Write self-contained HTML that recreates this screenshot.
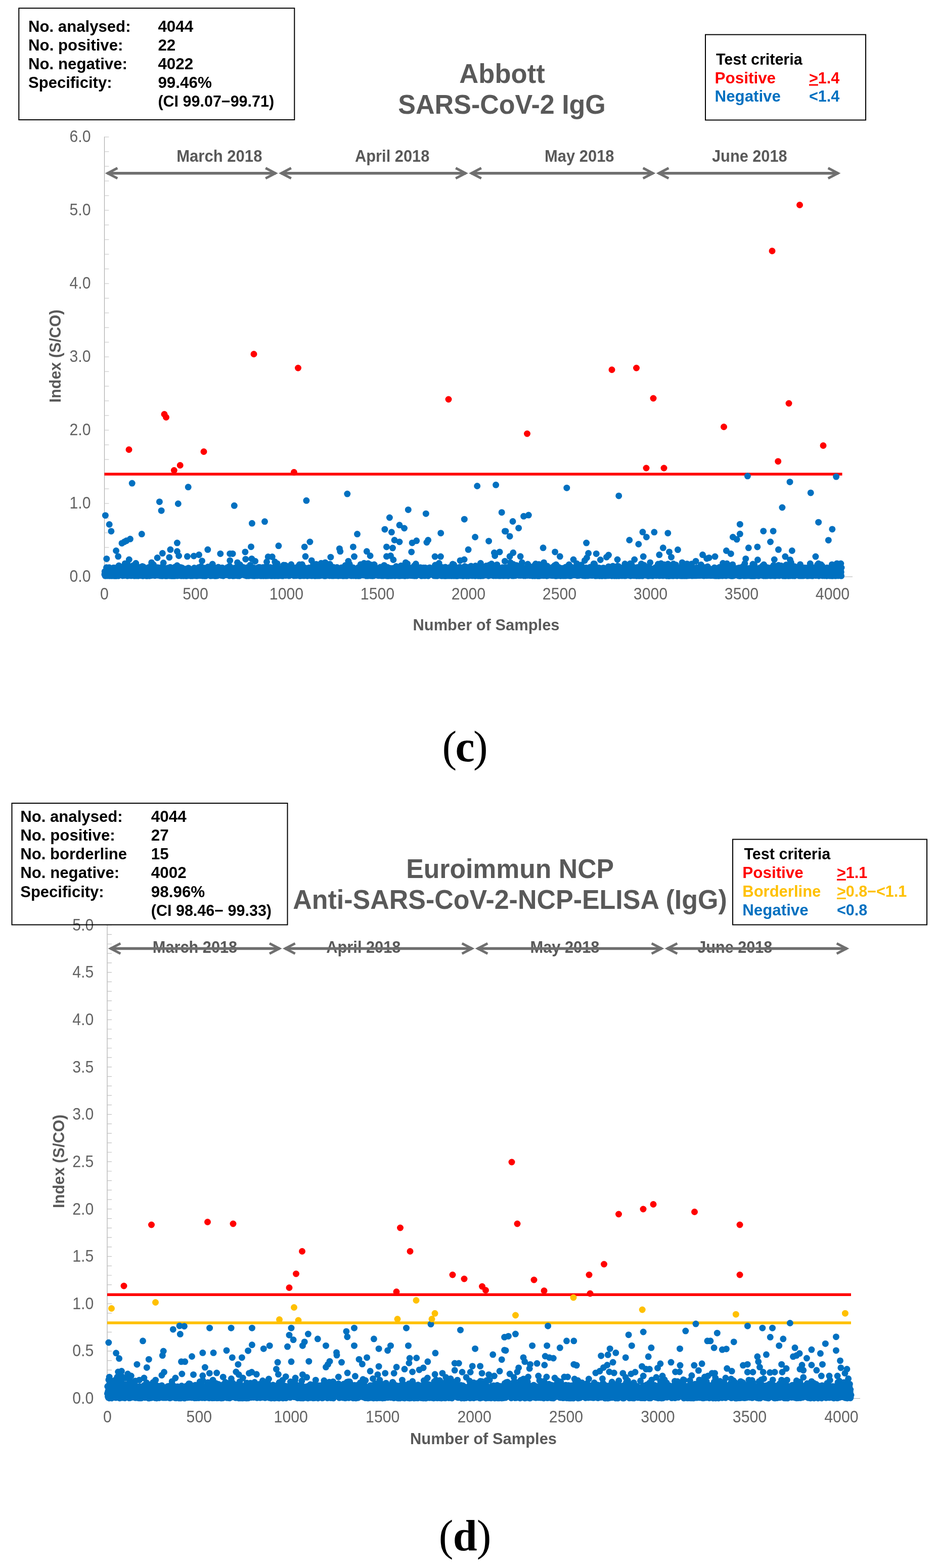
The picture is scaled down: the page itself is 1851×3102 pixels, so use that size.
<!DOCTYPE html>
<html lang="en">
<head>
<meta charset="utf-8">
<title>Specificity scatter plots (c) Abbott SARS-CoV-2 IgG, (d) Euroimmun NCP ELISA</title>
<style>html,body{margin:0;padding:0;background:#fff}svg{display:block}</style>
</head>
<body>
<svg width="1851" height="3102" viewBox="0 0 1851 3102" font-family='"Liberation Sans", sans-serif'>
<rect width="1851" height="3102" fill="#fff"/>
<g id="chart-c">
<g stroke="#ababab" stroke-width="1.2" fill="none">
<path d="M206.5 270.5V1141.0"/>
<path d="M206.5 1141.0H1686"/>
<path d="M206.5 1141.0h9M206.5 1112.0h9M206.5 1083.0h9M206.5 1054.0h9M206.5 1025.0h9M206.5 996.0h9M206.5 967.0h9M206.5 938.0h9M206.5 909.0h9M206.5 880.0h9M206.5 851.0h9M206.5 822.0h9M206.5 793.0h9M206.5 764.0h9M206.5 735.0h9M206.5 706.0h9M206.5 677.0h9M206.5 648.0h9M206.5 619.0h9M206.5 590.0h9M206.5 561.0h9M206.5 532.0h9M206.5 503.0h9M206.5 474.0h9M206.5 445.0h9M206.5 416.0h9M206.5 387.0h9M206.5 358.0h9M206.5 329.0h9M206.5 300.0h9M206.5 271.0h9" stroke="#c2c2c2"/>
</g>
<text transform="translate(179.5 1151.2) scale(0.89 1)" font-size="34" fill="#636363" text-anchor="end">0.0</text>
<text transform="translate(179.5 1006.2) scale(0.89 1)" font-size="34" fill="#636363" text-anchor="end">1.0</text>
<text transform="translate(179.5 861.2) scale(0.89 1)" font-size="34" fill="#636363" text-anchor="end">2.0</text>
<text transform="translate(179.5 716.2) scale(0.89 1)" font-size="34" fill="#636363" text-anchor="end">3.0</text>
<text transform="translate(179.5 571.2) scale(0.89 1)" font-size="34" fill="#636363" text-anchor="end">4.0</text>
<text transform="translate(179.5 426.2) scale(0.89 1)" font-size="34" fill="#636363" text-anchor="end">5.0</text>
<text transform="translate(179.5 281.2) scale(0.89 1)" font-size="34" fill="#636363" text-anchor="end">6.0</text>
<text transform="translate(206.5 1185.7) scale(0.89 1)" font-size="34" fill="#636363" text-anchor="middle">0</text>
<text transform="translate(386.5 1185.7) scale(0.89 1)" font-size="34" fill="#636363" text-anchor="middle">500</text>
<text transform="translate(566.5 1185.7) scale(0.89 1)" font-size="34" fill="#636363" text-anchor="middle">1000</text>
<text transform="translate(746.5 1185.7) scale(0.89 1)" font-size="34" fill="#636363" text-anchor="middle">1500</text>
<text transform="translate(926.5 1185.7) scale(0.89 1)" font-size="34" fill="#636363" text-anchor="middle">2000</text>
<text transform="translate(1106.5 1185.7) scale(0.89 1)" font-size="34" fill="#636363" text-anchor="middle">2500</text>
<text transform="translate(1286.5 1185.7) scale(0.89 1)" font-size="34" fill="#636363" text-anchor="middle">3000</text>
<text transform="translate(1466.5 1185.7) scale(0.89 1)" font-size="34" fill="#636363" text-anchor="middle">3500</text>
<text transform="translate(1646.5 1185.7) scale(0.89 1)" font-size="34" fill="#636363" text-anchor="middle">4000</text>
<text x="433.8" y="319.8" font-size="32.3" fill="#595959" font-weight="bold" text-anchor="middle" textLength="169.3" lengthAdjust="spacingAndGlyphs">March 2018</text>
<text x="775.7" y="319.8" font-size="32.3" fill="#595959" font-weight="bold" text-anchor="middle" textLength="147.4" lengthAdjust="spacingAndGlyphs">April 2018</text>
<text x="1145.8" y="319.8" font-size="32.3" fill="#595959" font-weight="bold" text-anchor="middle" textLength="137.5" lengthAdjust="spacingAndGlyphs">May 2018</text>
<text x="1482.3" y="319.8" font-size="32.3" fill="#595959" font-weight="bold" text-anchor="middle" textLength="148.5" lengthAdjust="spacingAndGlyphs">June 2018</text>
<g fill="none" stroke="#6f6f6f" stroke-linejoin="miter" stroke-miterlimit="10">
<path d="M212 342.7H545.5" stroke-width="5.6"/>
<path d="M232.3 332.5L212.8 342.7L232.3 352.9" stroke-width="4.8"/>
<path d="M525.2 332.5L544.7 342.7L525.2 352.9" stroke-width="4.8"/>
</g>
<g fill="none" stroke="#6f6f6f" stroke-linejoin="miter" stroke-miterlimit="10">
<path d="M555.5 342.7H921.5" stroke-width="5.6"/>
<path d="M575.8 332.5L556.3 342.7L575.8 352.9" stroke-width="4.8"/>
<path d="M901.2 332.5L920.7 342.7L901.2 352.9" stroke-width="4.8"/>
</g>
<g fill="none" stroke="#6f6f6f" stroke-linejoin="miter" stroke-miterlimit="10">
<path d="M931.5 342.7H1292" stroke-width="5.6"/>
<path d="M951.8 332.5L932.3 342.7L951.8 352.9" stroke-width="4.8"/>
<path d="M1271.7 332.5L1291.2 342.7L1271.7 352.9" stroke-width="4.8"/>
</g>
<g fill="none" stroke="#6f6f6f" stroke-linejoin="miter" stroke-miterlimit="10">
<path d="M1302 342.7H1658" stroke-width="5.6"/>
<path d="M1322.3 332.5L1302.8 342.7L1322.3 352.9" stroke-width="4.8"/>
<path d="M1637.7 332.5L1657.2 342.7L1637.7 352.9" stroke-width="4.8"/>
</g>
<path d="M206.5 938.0H1665.5" stroke="#ff0000" stroke-width="5.5" fill="none"/>
<path d="M206.9 1136.4h0M207.2 1130.7h0M207.6 1133h0M207.9 1139.1h0M208.3 1139.2h0M208.7 1139h0M209 1134.9h0M209.4 1138.7h0M209.7 1131.1h0M210.1 1132.2h0M210.5 1122.8h0M210.8 1125.9h0M211.2 1138.5h0M211.5 1136.7h0M211.9 1138.2h0M212.3 1130.9h0M212.6 1132.7h0M213 1139.1h0M213.3 1130h0M213.7 1136.6h0M214.1 1134.4h0M214.4 1127.4h0M214.8 1137.5h0M215.1 1133.2h0M215.5 1128.9h0M215.9 1122.7h0M216.2 1135h0M216.6 1138.4h0M217 1139.2h0M217.3 1128.1h0M217.7 1125.4h0M218 1129.7h0M218.4 1132.1h0M218.8 1126.3h0M219.1 1134.1h0M219.5 1139.1h0M219.8 1130.7h0M220.2 1126.8h0M220.6 1135.5h0M220.9 1139.2h0M221.3 1138.3h0M221.6 1139.1h0M222 1138.6h0M222.4 1135.5h0M222.7 1139h0M223.1 1132.7h0M223.4 1126.8h0M223.8 1137h0M224.2 1135.9h0M224.5 1123.3h0M224.9 1138.2h0M225.2 1137.6h0M225.6 1131.9h0M226 1139.3h0M226.3 1135.8h0M226.7 1123.4h0M227 1133.3h0M227.4 1130.1h0M227.8 1124.8h0M228.1 1125.5h0M228.5 1135.4h0M228.8 1138.8h0M229.2 1139.1h0M229.6 1137.9h0M229.9 1136.2h0M230.3 1139.3h0M230.6 1138.8h0M231 1139.2h0M231.4 1131.4h0M231.7 1137.4h0M232.1 1135.9h0M232.4 1126.1h0M232.8 1134.2h0M233.2 1138.9h0M233.5 1136.2h0M233.9 1126.6h0M234.3 1139.2h0M234.6 1133.1h0M235 1119.1h0M235.3 1122.7h0M235.7 1129.7h0M236.1 1135.8h0M236.4 1128h0M236.8 1127.8h0M237.1 1137.7h0M237.5 1122.6h0M237.9 1127.1h0M238.2 1128.7h0M238.6 1133.3h0M238.9 1121.4h0M239.3 1137.3h0M239.7 1123.3h0M240 1123.8h0M240.4 1123.4h0M240.7 1137.7h0M241.1 1138h0M241.5 1131.2h0M241.8 1126.3h0M242.2 1130.6h0M242.5 1138.9h0M242.9 1124.6h0M243.3 1128.5h0M243.6 1138.2h0M244 1136.3h0M244.3 1122.9h0M244.7 1135.3h0M245.1 1129h0M245.4 1138.6h0M245.8 1124.7h0M246.1 1138.5h0M246.5 1122.7h0M246.9 1136.1h0M247.2 1114.9h0M247.6 1130.7h0M247.9 1123.9h0M248.3 1125.5h0M248.7 1137.8h0M249 1136.9h0M249.4 1132h0M249.7 1135h0M250.1 1124.5h0M250.5 1134.4h0M250.8 1124.7h0M251.2 1124.3h0M251.6 1133h0M251.9 1139.2h0M252.3 1116.5h0M252.6 1138.2h0M253 1129h0M253.4 1136.4h0M253.7 1132.6h0M254.1 1138.8h0M254.4 1137.4h0M254.8 1127.9h0M255.2 1132.5h0M255.5 1124.5h0M255.9 1131.4h0M256.2 1133.4h0M256.6 1134.5h0M257 1134h0M257.3 1129.6h0M257.7 1123.7h0M258 1132.5h0M258.4 1126.3h0M258.8 1138.7h0M259.1 1139h0M259.5 1139h0M259.8 1127.7h0M260.2 1138.4h0M260.6 1130.5h0M260.9 1125.2h0M261.3 1137.7h0M261.6 1135.3h0M262 1122.4h0M262.4 1138.3h0M262.7 1133.3h0M263.1 1138h0M263.4 1118.8h0M263.8 1120.9h0M264.2 1131.2h0M264.5 1139h0M264.9 1127.6h0M265.2 1138.8h0M265.6 1139.2h0M266 1137.1h0M266.3 1135h0M266.7 1126.8h0M267 1138.4h0M267.4 1132.3h0M267.8 1138.9h0M268.1 1129.8h0M268.5 1139h0M268.8 1131h0M269.2 1138.9h0M269.6 1139h0M269.9 1134.4h0M270.3 1132.6h0M270.7 1137.2h0M271 1133.1h0M271.4 1138.8h0M271.7 1139.1h0M272.1 1136.6h0M272.5 1128.2h0M272.8 1133.6h0M273.2 1121.7h0M273.5 1139.2h0M273.9 1132.7h0M274.3 1134.1h0M274.6 1138.8h0M275 1134.8h0M275.3 1126.4h0M275.7 1133.5h0M276.1 1122.6h0M276.4 1126.5h0M276.8 1131h0M277.1 1136.1h0M277.5 1138.6h0M277.9 1128.7h0M278.2 1138.3h0M278.6 1126.3h0M278.9 1130.2h0M279.3 1137.5h0M279.7 1134.3h0M280 1134.6h0M280.4 1123.2h0M280.7 1132.7h0M281.1 1123.1h0M281.5 1120.4h0M281.8 1134.1h0M282.2 1137.9h0M282.5 1139.3h0M282.9 1138.9h0M283.3 1121.2h0M283.6 1137.6h0M284 1133.1h0M284.3 1130.5h0M284.7 1125.3h0M285.1 1136.4h0M285.4 1138.4h0M285.8 1130.8h0M286.1 1126.4h0M286.5 1131.1h0M286.9 1127h0M287.2 1133.2h0M287.6 1126.4h0M288 1126.6h0M288.3 1125h0M288.7 1129.7h0M289 1139.2h0M289.4 1135.9h0M289.8 1126.4h0M290.1 1131.1h0M290.5 1130h0M290.8 1139.3h0M291.2 1128.5h0M291.6 1133h0M291.9 1139h0M292.3 1137.4h0M292.6 1137.2h0M293 1137.9h0M293.4 1122.8h0M293.7 1135.6h0M294.1 1129.9h0M294.4 1131.4h0M294.8 1139h0M295.2 1137.4h0M295.5 1136.7h0M295.9 1139.2h0M296.2 1137.2h0M296.6 1129.8h0M297 1136.9h0M297.3 1134.2h0M297.7 1138.7h0M298 1138h0M298.4 1119.7h0M298.8 1126.8h0M299.1 1134.5h0M299.5 1137.9h0M299.8 1137.8h0M300.2 1138.5h0M300.6 1123.4h0M300.9 1126.8h0M301.3 1125.1h0M301.6 1137.6h0M302 1124h0M302.4 1133.8h0M302.7 1136.7h0M303.1 1136.2h0M303.4 1117h0M303.8 1126.3h0M304.2 1124.1h0M304.5 1124.8h0M304.9 1135.7h0M305.2 1122.2h0M305.6 1135.9h0M306 1137.1h0M306.3 1138.8h0M306.7 1137h0M307.1 1137.4h0M307.4 1133.4h0M307.8 1135.7h0M308.1 1125.2h0M308.5 1131.1h0M308.9 1123.7h0M309.2 1129.2h0M309.6 1128.9h0M309.9 1128.4h0M310.3 1136.9h0M310.7 1124.1h0M311 1134.1h0M311.4 1136.8h0M311.7 1122.8h0M312.1 1130.5h0M312.5 1132.5h0M312.8 1138.3h0M313.2 1137.9h0M313.5 1133.7h0M313.9 1124.6h0M314.3 1134.5h0M314.6 1138h0M315 1136.2h0M315.3 1137.5h0M315.7 1132.3h0M316.1 1128.5h0M316.4 1135.1h0M316.8 1135.7h0M317.1 1139.1h0M317.5 1123h0M317.9 1133.6h0M318.2 1125.7h0M318.6 1137.1h0M318.9 1135.3h0M319.3 1123.4h0M319.7 1123.7h0M320 1129.4h0M320.4 1134.1h0M320.7 1139.3h0M321.1 1124.1h0M321.5 1125.9h0M321.8 1137.4h0M322.2 1138.4h0M322.5 1130h0M322.9 1129.1h0M323.3 1128.1h0M323.6 1132.7h0M324 1127.7h0M324.4 1124.3h0M324.7 1136.7h0M325.1 1137.4h0M325.4 1129.6h0M325.8 1139h0M326.2 1132h0M326.5 1137.7h0M326.9 1139.2h0M327.2 1134.3h0M327.6 1130.8h0M328 1134.1h0M328.3 1137.4h0M328.7 1129.5h0M329 1139.2h0M329.4 1130.1h0M329.8 1137.3h0M330.1 1124.2h0M330.5 1139.2h0M330.8 1135h0M331.2 1138h0M331.6 1128.7h0M331.9 1137.9h0M332.3 1136.6h0M332.6 1137.6h0M333 1128.2h0M333.4 1123.4h0M333.7 1138.1h0M334.1 1135h0M334.4 1123.5h0M334.8 1135.4h0M335.2 1122.9h0M335.5 1139.1h0M335.9 1135.4h0M336.2 1125.2h0M336.6 1122.2h0M337 1136.4h0M337.3 1123.9h0M337.7 1139.2h0M338 1135.6h0M338.4 1136.3h0M338.8 1139.3h0M339.1 1136h0M339.5 1138.7h0M339.8 1137.9h0M340.2 1126.8h0M340.6 1134.8h0M340.9 1134.1h0M341.3 1124.3h0M341.6 1135.9h0M342 1139.2h0M342.4 1127h0M342.7 1123.4h0M343.1 1124.3h0M343.5 1128.5h0M343.8 1136.2h0M344.2 1123.3h0M344.5 1137.3h0M344.9 1136.5h0M345.3 1139.3h0M345.6 1124.4h0M346 1121.8h0M346.3 1134.1h0M346.7 1123.4h0M347.1 1137.4h0M347.4 1133.7h0M347.8 1138.1h0M348.1 1128.7h0M348.5 1127.9h0M348.9 1136.4h0M349.2 1135.9h0M349.6 1139h0M349.9 1128.4h0M350.3 1118.8h0M350.7 1136.4h0M351 1125.2h0M351.4 1137.2h0M351.7 1138.9h0M352.1 1129.4h0M352.5 1137.6h0M352.8 1131.3h0M353.2 1128.5h0M353.5 1130.4h0M353.9 1126.3h0M354.3 1132.4h0M354.6 1128.7h0M355 1137.4h0M355.3 1138.4h0M355.7 1132.1h0M356.1 1135.4h0M356.4 1133.5h0M356.8 1127.1h0M357.1 1122.4h0M357.5 1134.1h0M357.9 1126.3h0M358.2 1139.2h0M358.6 1138.7h0M358.9 1122.9h0M359.3 1124h0M359.7 1125.7h0M360 1137.3h0M360.4 1123.6h0M360.8 1131.8h0M361.1 1137.8h0M361.5 1138.5h0M361.8 1137.3h0M362.2 1130.6h0M362.6 1139.2h0M362.9 1130.1h0M363.3 1136.6h0M363.6 1127.4h0M364 1139.1h0M364.4 1135.4h0M364.7 1130.9h0M365.1 1138.3h0M365.4 1135.2h0M365.8 1136.7h0M366.2 1136.6h0M366.5 1136h0M366.9 1125.7h0M367.2 1135.9h0M367.6 1129h0M368 1139.3h0M368.3 1134.9h0M368.7 1135.2h0M369 1134.3h0M369.4 1139.2h0M369.8 1130.9h0M370.1 1138.9h0M370.5 1135.8h0M370.8 1138.5h0M371.2 1133.2h0M371.6 1138.8h0M371.9 1127.2h0M372.3 1138h0M372.6 1123.7h0M373 1133.9h0M373.4 1124.1h0M373.7 1124.7h0M374.1 1126.7h0M374.4 1127.6h0M374.8 1135.2h0M375.2 1126.6h0M375.5 1137.8h0M375.9 1133.3h0M376.2 1138.7h0M376.6 1129h0M377 1139.2h0M377.3 1128.3h0M377.7 1126.4h0M378.1 1131.7h0M378.4 1131.2h0M378.8 1135h0M379.1 1134.9h0M379.5 1134.5h0M379.9 1139.2h0M380.2 1133.8h0M380.6 1128.1h0M380.9 1134.4h0M381.3 1134.1h0M381.7 1138.6h0M382 1138.9h0M382.4 1133.4h0M382.7 1131h0M383.1 1128.8h0M383.5 1133.4h0M383.8 1133.5h0M384.2 1123.5h0M384.5 1125.9h0M384.9 1128.9h0M385.3 1138h0M385.6 1133.8h0M386 1124.4h0M386.3 1127.6h0M386.7 1139h0M387.1 1128.3h0M387.4 1124.9h0M387.8 1126.9h0M388.1 1133.6h0M388.5 1137.9h0M388.9 1133.5h0M389.2 1139.2h0M389.6 1138.3h0M389.9 1130h0M390.3 1138.3h0M390.7 1138.7h0M391 1131h0M391.4 1125.5h0M391.7 1132.1h0M392.1 1138.8h0M392.5 1131.1h0M392.8 1127.3h0M393.2 1122.4h0M393.5 1135.9h0M393.9 1134.6h0M394.3 1128.6h0M394.6 1126.8h0M395 1130.9h0M395.3 1132h0M395.7 1123.7h0M396.1 1138.4h0M396.4 1134.8h0M396.8 1124.9h0M397.2 1137.7h0M397.5 1120.7h0M397.9 1138.8h0M398.2 1137.7h0M398.6 1131.9h0M399 1131.2h0M399.3 1138.6h0M399.7 1137.5h0M400 1138.9h0M400.4 1125.5h0M400.8 1135.3h0M401.1 1139.2h0M401.5 1132.4h0M401.8 1130.8h0M402.2 1123.8h0M402.6 1137.4h0M402.9 1139.1h0M403.3 1135.2h0M403.6 1139.1h0M404 1139.2h0M404.4 1123.7h0M404.7 1138h0M405.1 1133.5h0M405.4 1127h0M405.8 1136.6h0M406.2 1139.1h0M406.5 1127.7h0M406.9 1139.3h0M407.2 1128.6h0M407.6 1128.7h0M408 1137.7h0M408.3 1137.6h0M408.7 1136.3h0M409 1129.7h0M409.4 1129.3h0M409.8 1132.6h0M410.1 1127.6h0M410.5 1137.2h0M410.8 1123.1h0M411.2 1121.6h0M411.6 1137.6h0M411.9 1123.6h0M412.3 1136.4h0M412.6 1136.4h0M413 1124.6h0M413.4 1129.7h0M413.7 1122.7h0M414.1 1126.3h0M414.5 1125.9h0M414.8 1129h0M415.2 1136.7h0M415.5 1131.2h0M415.9 1124.5h0M416.3 1139.2h0M416.6 1124.1h0M417 1123.6h0M417.3 1129.8h0M417.7 1129.7h0M418.1 1139h0M418.4 1135.9h0M418.8 1126.8h0M419.1 1139h0M419.5 1124.4h0M419.9 1138.8h0M420.2 1116h0M420.6 1127h0M420.9 1126.7h0M421.3 1136.9h0M421.7 1138.8h0M422 1137.9h0M422.4 1121.6h0M422.7 1137h0M423.1 1135.8h0M423.5 1123.1h0M423.8 1126h0M424.2 1139.2h0M424.5 1134.7h0M424.9 1136.1h0M425.3 1132.9h0M425.6 1125.8h0M426 1126.8h0M426.3 1139.3h0M426.7 1128.2h0M427.1 1139.3h0M427.4 1133.8h0M427.8 1138.1h0M428.1 1136.1h0M428.5 1137.3h0M428.9 1137h0M429.2 1129.6h0M429.6 1138.8h0M429.9 1139h0M430.3 1129.7h0M430.7 1131.1h0M431 1135.3h0M431.4 1125.1h0M431.8 1122.1h0M432.1 1137.2h0M432.5 1133.6h0M432.8 1125.2h0M433.2 1134.3h0M433.6 1128.4h0M433.9 1130.7h0M434.3 1136.4h0M434.6 1126.2h0M435 1128.6h0M435.4 1134.7h0M435.7 1132.1h0M436.1 1134.3h0M436.4 1137.5h0M436.8 1136.7h0M437.2 1126.2h0M437.5 1138.4h0M437.9 1136.4h0M438.2 1138.3h0M438.6 1138.1h0M439 1128.9h0M439.3 1123.2h0M439.7 1135.6h0M440 1127.4h0M440.4 1134.7h0M440.8 1130.9h0M441.1 1137.9h0M441.5 1139.2h0M441.8 1127.5h0M442.2 1133.6h0M442.6 1134.3h0M442.9 1131.6h0M443.3 1128.7h0M443.6 1134.8h0M444 1128.5h0M444.4 1137.6h0M444.7 1125.3h0M445.1 1129.6h0M445.4 1130h0M445.8 1134.4h0M446.2 1131.1h0M446.5 1135h0M446.9 1129.3h0M447.2 1137.4h0M447.6 1134.4h0M448 1135.2h0M448.3 1124h0M448.7 1130.6h0M449 1135.5h0M449.4 1122.8h0M449.8 1132.8h0M450.1 1127.7h0M450.5 1133.3h0M450.9 1132.2h0M451.2 1129.2h0M451.6 1130.9h0M451.9 1133.2h0M452.3 1123.6h0M452.7 1129.9h0M453 1128.2h0M453.4 1122.6h0M453.7 1139.1h0M454.1 1120.1h0M454.5 1135h0M454.8 1136h0M455.2 1137.7h0M455.5 1123.8h0M455.9 1137.8h0M456.3 1135.4h0M456.6 1138.6h0M457 1127.1h0M457.3 1134.2h0M457.7 1137.7h0M458.1 1136h0M458.4 1126.8h0M458.8 1134.2h0M459.1 1132.7h0M459.5 1126.5h0M459.9 1126.1h0M460.2 1135.7h0M460.6 1134.9h0M460.9 1139.3h0M461.3 1137h0M461.7 1136.7h0M462 1134.9h0M462.4 1130.5h0M462.7 1124.1h0M463.1 1139.1h0M463.5 1124.7h0M463.8 1138.5h0M464.2 1123.9h0M464.5 1123.5h0M464.9 1137.4h0M465.3 1138.5h0M465.6 1127.8h0M466 1138.4h0M466.3 1127.5h0M466.7 1125h0M467.1 1127.7h0M467.4 1125h0M467.8 1126.3h0M468.2 1129.7h0M468.5 1128.6h0M468.9 1125.2h0M469.2 1137.2h0M469.6 1138.5h0M470 1139.1h0M470.3 1138.5h0M470.7 1133.6h0M471 1116.1h0M471.4 1134.2h0M471.8 1130.3h0M472.1 1135.7h0M472.5 1123.2h0M472.8 1130.9h0M473.2 1139.2h0M473.6 1130h0M473.9 1136.4h0M474.3 1133.4h0M474.6 1117.3h0M475 1131.2h0M475.4 1125.8h0M475.7 1134.1h0M476.1 1128h0M476.4 1134.7h0M476.8 1132.6h0M477.2 1136.9h0M477.5 1135.3h0M477.9 1137.1h0M478.2 1122.8h0M478.6 1127.5h0M479 1136.5h0M479.3 1132h0M479.7 1127.7h0M480 1129.1h0M480.4 1132.8h0M480.8 1122.2h0M481.1 1124.2h0M481.5 1130.5h0M481.8 1124.6h0M482.2 1131.4h0M482.6 1129.7h0M482.9 1130h0M483.3 1130.3h0M483.6 1128.2h0M484 1138.1h0M484.4 1127.9h0M484.7 1130.6h0M485.1 1126.7h0M485.4 1132.5h0M485.8 1136.7h0M486.2 1136.5h0M486.5 1130.8h0M486.9 1139.1h0M487.3 1139.2h0M487.6 1127h0M488 1124.3h0M488.3 1139.2h0M488.7 1131.9h0M489.1 1122.7h0M489.4 1135.1h0M489.8 1130.8h0M490.1 1124h0M490.5 1129.9h0M490.9 1123.1h0M491.2 1125.6h0M491.6 1139.2h0M491.9 1137.5h0M492.3 1138.1h0M492.7 1127.9h0M493 1125.9h0M493.4 1138.9h0M493.7 1129.4h0M494.1 1124h0M494.5 1123.1h0M494.8 1117.9h0M495.2 1126.9h0M495.5 1136.6h0M495.9 1138.3h0M496.3 1133.9h0M496.6 1135.8h0M497 1134.7h0M497.3 1138.5h0M497.7 1135.9h0M498.1 1131.1h0M498.4 1135.5h0M498.8 1123.6h0M499.1 1132.4h0M499.5 1139.1h0M499.9 1129.5h0M500.2 1136.3h0M500.6 1122.8h0M500.9 1131.7h0M501.3 1134.8h0M501.7 1135.7h0M502 1131.7h0M502.4 1127.1h0M502.7 1139.3h0M503.1 1134.9h0M503.5 1126.9h0M503.8 1139.2h0M504.2 1127h0M504.6 1132.3h0M504.9 1126h0M505.3 1129.9h0M505.6 1136.1h0M506 1132.6h0M506.4 1138h0M506.7 1124h0M507.1 1131.6h0M507.4 1134.2h0M507.8 1137.3h0M508.2 1127.5h0M508.5 1138.9h0M508.9 1127.9h0M509.2 1132.1h0M509.6 1125.2h0M510 1134h0M510.3 1138.1h0M510.7 1138.2h0M511 1135.9h0M511.4 1135.3h0M511.8 1138.4h0M512.1 1122.2h0M512.5 1138.8h0M512.8 1127.6h0M513.2 1131.8h0M513.6 1123.7h0M513.9 1122.4h0M514.3 1133.9h0M514.6 1137.3h0M515 1134.9h0M515.4 1128.1h0M515.7 1123.1h0M516.1 1139.2h0M516.4 1138.2h0M516.8 1139.1h0M517.2 1125.6h0M517.5 1123.6h0M517.9 1139h0M518.2 1135.4h0M518.6 1123.3h0M519 1132.4h0M519.3 1123.3h0M519.7 1135.4h0M520 1138.4h0M520.4 1122.4h0M520.8 1139.2h0M521.1 1136h0M521.5 1124.7h0M521.9 1139.1h0M522.2 1129.4h0M522.6 1122.5h0M522.9 1138.5h0M523.3 1123.8h0M523.7 1136.8h0M524 1128.3h0M524.4 1136.4h0M524.7 1138.7h0M525.1 1138.3h0M525.5 1138.5h0M525.8 1139.2h0M526.2 1138h0M526.5 1124.1h0M526.9 1123.9h0M527.3 1125.1h0M527.6 1134.5h0M528 1124.1h0M528.3 1131.1h0M528.7 1136.2h0M529.1 1134h0M529.4 1138.5h0M529.8 1139.1h0M530.1 1132.6h0M530.5 1125.5h0M530.9 1135.1h0M531.2 1137.1h0M531.6 1136.3h0M531.9 1133.8h0M532.3 1124.7h0M532.7 1122.7h0M533 1124.9h0M533.4 1137.8h0M533.7 1136.9h0M534.1 1137.9h0M534.5 1122.4h0M534.8 1124.2h0M535.2 1136.9h0M535.5 1139.1h0M535.9 1136.9h0M536.3 1139.2h0M536.6 1136.2h0M537 1139.3h0M537.3 1133.1h0M537.7 1134.7h0M538.1 1137.8h0M538.4 1138.5h0M538.8 1128h0M539.1 1138h0M539.5 1138.9h0M539.9 1133.7h0M540.2 1137.9h0M540.6 1129.4h0M541 1132h0M541.3 1139h0M541.7 1135.2h0M542 1139.1h0M542.4 1136.3h0M542.8 1125.7h0M543.1 1139.2h0M543.5 1134h0M543.8 1137.2h0M544.2 1126.5h0M544.6 1138.3h0M544.9 1119.1h0M545.3 1134.6h0M545.6 1138.7h0M546 1126.9h0M546.4 1136.5h0M546.7 1135.6h0M547.1 1139.1h0M547.4 1123.4h0M547.8 1133.4h0M548.2 1114.9h0M548.5 1137.7h0M548.9 1138.8h0M549.2 1123.1h0M549.6 1129.6h0M550 1139.2h0M550.3 1132.2h0M550.7 1129.5h0M551 1125.6h0M551.4 1139.1h0M551.8 1133.7h0M552.1 1137h0M552.5 1135.2h0M552.8 1131.9h0M553.2 1138.5h0M553.6 1128.5h0M553.9 1126.7h0M554.3 1135.5h0M554.6 1126.3h0M555 1135.4h0M555.4 1127.8h0M555.7 1137.5h0M556.1 1134.7h0M556.4 1127.2h0M556.8 1126.9h0M557.2 1139.1h0M557.5 1123.3h0M557.9 1137.4h0M558.3 1131h0M558.6 1133h0M559 1134.8h0M559.3 1139.2h0M559.7 1123h0M560.1 1123.8h0M560.4 1127.1h0M560.8 1118h0M561.1 1137.2h0M561.5 1137.1h0M561.9 1124.2h0M562.2 1137.4h0M562.6 1134.8h0M562.9 1136.9h0M563.3 1130.7h0M563.7 1131.8h0M564 1133.4h0M564.4 1134.2h0M564.7 1138.5h0M565.1 1138.6h0M565.5 1135.2h0M565.8 1137.5h0M566.2 1132.8h0M566.5 1131.5h0M566.9 1130.7h0M567.3 1129.4h0M567.6 1132.7h0M568 1134.2h0M568.3 1137.5h0M568.7 1133.4h0M569.1 1120.7h0M569.4 1125.8h0M569.8 1132.6h0M570.1 1137h0M570.5 1136.8h0M570.9 1138.4h0M571.2 1125.5h0M571.6 1139.1h0M571.9 1134.7h0M572.3 1138.8h0M572.7 1123.3h0M573 1138.4h0M573.4 1136h0M573.7 1131.4h0M574.1 1126.8h0M574.5 1128.7h0M574.8 1128.2h0M575.2 1127.6h0M575.5 1124.4h0M575.9 1116.8h0M576.3 1132h0M576.6 1123.2h0M577 1135h0M577.4 1125.5h0M577.7 1135.6h0M578.1 1134.4h0M578.4 1136.9h0M578.8 1132.6h0M579.2 1136.5h0M579.5 1126.1h0M579.9 1134.6h0M580.2 1136.7h0M580.6 1132.2h0M581 1138.9h0M581.3 1136.4h0M581.7 1126.4h0M582 1137.9h0M582.4 1123.6h0M582.8 1132.4h0M583.1 1124.3h0M583.5 1132.9h0M583.8 1133.3h0M584.2 1129.9h0M584.6 1136h0M584.9 1136.1h0M585.3 1130.1h0M585.6 1138.8h0M586 1135.3h0M586.4 1132.2h0M586.7 1123.1h0M587.1 1134.7h0M587.4 1122.3h0M587.8 1133.1h0M588.2 1138.2h0M588.5 1122.7h0M588.9 1133.4h0M589.2 1124.9h0M589.6 1126.8h0M590 1125.1h0M590.3 1138.4h0M590.7 1133.4h0M591 1138.1h0M591.4 1131.1h0M591.8 1136h0M592.1 1131h0M592.5 1135.1h0M592.8 1136.7h0M593.2 1139.3h0M593.6 1126.3h0M593.9 1130.3h0M594.3 1133.7h0M594.7 1137.2h0M595 1133h0M595.4 1132.2h0M595.7 1138.7h0M596.1 1128.2h0M596.5 1138.8h0M596.8 1133.2h0M597.2 1131.4h0M597.5 1116.8h0M597.9 1136.5h0M598.3 1136h0M598.6 1137.2h0M599 1124.7h0M599.3 1136.1h0M599.7 1135.5h0M600.1 1125h0M600.4 1123.2h0M600.8 1131.3h0M601.1 1139.1h0M601.5 1126h0M601.9 1124.8h0M602.2 1136.7h0M602.6 1123.2h0M602.9 1123.5h0M603.3 1135.5h0M603.7 1137.7h0M604 1125.4h0M604.4 1127.5h0M604.7 1138.2h0M605.1 1138.1h0M605.5 1136.9h0M605.8 1138.7h0M606.2 1135.5h0M606.5 1139h0M606.9 1126.7h0M607.3 1137.5h0M607.6 1137h0M608 1139.2h0M608.3 1136.2h0M608.7 1129.5h0M609.1 1137.2h0M609.4 1138.6h0M609.8 1126.4h0M610.1 1138.4h0M610.5 1129.1h0M610.9 1123.3h0M611.2 1123.5h0M611.6 1137.7h0M612 1138.6h0M612.3 1137.3h0M612.7 1132h0M613 1137.4h0M613.4 1137.8h0M613.8 1138.7h0M614.1 1132.8h0M614.5 1128h0M614.8 1130.5h0M615.2 1136.6h0M615.6 1138.9h0M615.9 1126h0M616.3 1130.4h0M616.6 1132.5h0M617 1133.6h0M617.4 1139h0M617.7 1137.7h0M618.1 1129.2h0M618.4 1135.3h0M618.8 1127.9h0M619.2 1125.8h0M619.5 1117.6h0M619.9 1130.4h0M620.2 1135.1h0M620.6 1129.6h0M621 1126.1h0M621.3 1131.1h0M621.7 1138.7h0M622 1128.8h0M622.4 1139.2h0M622.8 1138.3h0M623.1 1136.7h0M623.5 1139.2h0M623.8 1130.9h0M624.2 1126.3h0M624.6 1129.2h0M624.9 1134.7h0M625.3 1116.2h0M625.6 1127.8h0M626 1139.1h0M626.4 1131.6h0M626.7 1137.5h0M627.1 1127.5h0M627.4 1124.4h0M627.8 1138.9h0M628.2 1135.4h0M628.5 1126.6h0M628.9 1138.9h0M629.2 1134.9h0M629.6 1129.8h0M630 1126.6h0M630.3 1134.4h0M630.7 1129.6h0M631.1 1133.4h0M631.4 1138.6h0M631.8 1139.1h0M632.1 1127.1h0M632.5 1132.8h0M632.9 1130.9h0M633.2 1137.4h0M633.6 1136h0M633.9 1137.9h0M634.3 1138.6h0M634.7 1130.2h0M635 1137.5h0M635.4 1134.6h0M635.7 1136h0M636.1 1125.2h0M636.5 1132.4h0M636.8 1126.9h0M637.2 1128.2h0M637.5 1130.3h0M637.9 1134.3h0M638.3 1126.5h0M638.6 1136.9h0M639 1137.9h0M639.3 1137h0M639.7 1129.6h0M640.1 1138.7h0M640.4 1134.2h0M640.8 1138.3h0M641.1 1139.2h0M641.5 1128.5h0M641.9 1129.2h0M642.2 1132.4h0M642.6 1133.8h0M642.9 1138.1h0M643.3 1139.3h0M643.7 1130.8h0M644 1123.9h0M644.4 1137.4h0M644.7 1116.7h0M645.1 1126.3h0M645.5 1138.1h0M645.8 1126.2h0M646.2 1138.3h0M646.5 1126.6h0M646.9 1136.4h0M647.3 1126.7h0M647.6 1135.8h0M648 1135.8h0M648.4 1137.5h0M648.7 1132.4h0M649.1 1126.8h0M649.4 1124.7h0M649.8 1133.7h0M650.2 1138.4h0M650.5 1132.1h0M650.9 1129.9h0M651.2 1134.6h0M651.6 1138.9h0M652 1134.7h0M652.3 1116.1h0M652.7 1125.9h0M653 1134.9h0M653.4 1130.4h0M653.8 1135h0M654.1 1134.7h0M654.5 1126.7h0M654.8 1138.3h0M655.2 1134.6h0M655.6 1136.1h0M655.9 1138.9h0M656.3 1134.3h0M656.6 1124.6h0M657 1122.8h0M657.4 1131.3h0M657.7 1139.1h0M658.1 1131.5h0M658.4 1132.3h0M658.8 1134h0M659.2 1136.8h0M659.5 1122.3h0M659.9 1130.1h0M660.2 1138.9h0M660.6 1135.7h0M661 1135h0M661.3 1132.4h0M661.7 1138.7h0M662 1125.1h0M662.4 1138.7h0M662.8 1137.4h0M663.1 1133h0M663.5 1133.8h0M663.8 1137.7h0M664.2 1138.7h0M664.6 1131.9h0M664.9 1135.2h0M665.3 1134.7h0M665.6 1132.7h0M666 1128.3h0M666.4 1122.4h0M666.7 1138.8h0M667.1 1135.4h0M667.5 1123.2h0M667.8 1127.9h0M668.2 1127.9h0M668.5 1137.6h0M668.9 1139.2h0M669.3 1137.8h0M669.6 1129.4h0M670 1125.1h0M670.3 1125.5h0M670.7 1124.4h0M671.1 1138.3h0M671.4 1136.2h0M671.8 1130h0M672.1 1138.7h0M672.5 1128.8h0M672.9 1129.1h0M673.2 1131.6h0M673.6 1132.7h0M673.9 1138.7h0M674.3 1130.1h0M674.7 1138h0M675 1126.4h0M675.4 1123h0M675.7 1127.3h0M676.1 1132.6h0M676.5 1129.9h0M676.8 1138.5h0M677.2 1132.9h0M677.5 1127.1h0M677.9 1139.2h0M678.3 1138.4h0M678.6 1125.5h0M679 1139.2h0M679.3 1126.8h0M679.7 1135.4h0M680.1 1138.4h0M680.4 1135.4h0M680.8 1131.5h0M681.1 1136.4h0M681.5 1125h0M681.9 1139.1h0M682.2 1135.9h0M682.6 1132.2h0M682.9 1118.6h0M683.3 1119.7h0M683.7 1122.5h0M684 1138.5h0M684.4 1137.1h0M684.8 1133.6h0M685.1 1132.3h0M685.5 1123.3h0M685.8 1139.2h0M686.2 1128h0M686.6 1127.9h0M686.9 1131h0M687.3 1137h0M687.6 1125.5h0M688 1130h0M688.4 1128.2h0M688.7 1133.5h0M689.1 1136.1h0M689.4 1135.2h0M689.8 1136.3h0M690.2 1122.5h0M690.5 1135.8h0M690.9 1137.6h0M691.2 1115.8h0M691.6 1134.4h0M692 1132.3h0M692.3 1138.3h0M692.7 1136.7h0M693 1129h0M693.4 1123.8h0M693.8 1124.3h0M694.1 1139h0M694.5 1132.1h0M694.8 1136h0M695.2 1134.9h0M695.6 1139h0M695.9 1124.8h0M696.3 1122.5h0M696.6 1137.2h0M697 1137.8h0M697.4 1138h0M697.7 1125.7h0M698.1 1138h0M698.4 1123.1h0M698.8 1139h0M699.2 1125.4h0M699.5 1138.6h0M699.9 1132.9h0M700.2 1130.9h0M700.6 1137.8h0M701 1128.5h0M701.3 1135.2h0M701.7 1136.2h0M702 1135.1h0M702.4 1131.2h0M702.8 1133.7h0M703.1 1137.3h0M703.5 1139.2h0M703.9 1132.4h0M704.2 1139.1h0M704.6 1129.1h0M704.9 1138.9h0M705.3 1138.5h0M705.7 1138.9h0M706 1134.9h0M706.4 1131.9h0M706.7 1130.5h0M707.1 1136.3h0M707.5 1137.3h0M707.8 1128.2h0M708.2 1136.6h0M708.5 1122.8h0M708.9 1137.1h0M709.3 1123.7h0M709.6 1139.3h0M710 1130.6h0M710.3 1135.9h0M710.7 1137.7h0M711.1 1122.8h0M711.4 1139.1h0M711.8 1132.6h0M712.1 1123.8h0M712.5 1138.4h0M712.9 1128.7h0M713.2 1116.7h0M713.6 1137.5h0M713.9 1133.6h0M714.3 1136.2h0M714.7 1134.3h0M715 1124.7h0M715.4 1128.8h0M715.7 1130.8h0M716.1 1125.7h0M716.5 1132.4h0M716.8 1124.3h0M717.2 1131.2h0M717.5 1137.4h0M717.9 1134.8h0M718.3 1137.9h0M718.6 1130.8h0M719 1122.3h0M719.3 1132.3h0M719.7 1125.7h0M720.1 1137.2h0M720.4 1126.7h0M720.8 1136.3h0M721.2 1125h0M721.5 1130h0M721.9 1134.4h0M722.2 1125.2h0M722.6 1125.2h0M723 1127.8h0M723.3 1138.1h0M723.7 1122.3h0M724 1139.2h0M724.4 1115.4h0M724.8 1138.4h0M725.1 1138.8h0M725.5 1130h0M725.8 1136.2h0M726.2 1129.2h0M726.6 1121.8h0M726.9 1127.5h0M727.3 1139.2h0M727.6 1137.6h0M728 1114.7h0M728.4 1136.5h0M728.7 1138.7h0M729.1 1138.6h0M729.4 1138.2h0M729.8 1138.5h0M730.2 1133.6h0M730.5 1136h0M730.9 1124.3h0M731.2 1137.8h0M731.6 1125.2h0M732 1137.1h0M732.3 1137.2h0M732.7 1139.1h0M733 1135.2h0M733.4 1117.5h0M733.8 1130.6h0M734.1 1132.7h0M734.5 1122.6h0M734.8 1129.2h0M735.2 1136.5h0M735.6 1122.9h0M735.9 1135.5h0M736.3 1138.5h0M736.6 1139.3h0M737 1124.1h0M737.4 1131.5h0M737.7 1137.5h0M738.1 1138.7h0M738.5 1127.7h0M738.8 1139.1h0M739.2 1136.4h0M739.5 1132.7h0M739.9 1117h0M740.3 1126h0M740.6 1131.9h0M741 1137.6h0M741.3 1128.6h0M741.7 1129.3h0M742.1 1133.1h0M742.4 1130.1h0M742.8 1131.1h0M743.1 1137.7h0M743.5 1137.2h0M743.9 1134.1h0M744.2 1133.2h0M744.6 1137.7h0M744.9 1124.1h0M745.3 1133.2h0M745.7 1127h0M746 1138.2h0M746.4 1134.3h0M746.7 1126.6h0M747.1 1125.6h0M747.5 1135.6h0M747.8 1126.9h0M748.2 1138.4h0M748.5 1138.8h0M748.9 1127.2h0M749.3 1134.4h0M749.6 1135.4h0M750 1129.7h0M750.3 1134h0M750.7 1128.3h0M751.1 1130h0M751.4 1133.2h0M751.8 1135.8h0M752.1 1122.1h0M752.5 1132.3h0M752.9 1138.2h0M753.2 1137.1h0M753.6 1137.5h0M753.9 1138.9h0M754.3 1125.8h0M754.7 1134.9h0M755 1131.3h0M755.4 1139.1h0M755.7 1135.8h0M756.1 1136.8h0M756.5 1130.7h0M756.8 1136h0M757.2 1132.1h0M757.6 1138h0M757.9 1129.3h0M758.3 1130.3h0M758.6 1139h0M759 1135.6h0M759.4 1133.7h0M759.7 1118.4h0M760.1 1134.3h0M760.4 1126.3h0M760.8 1134.1h0M761.2 1134.7h0M761.5 1133.4h0M761.9 1130.2h0M762.2 1135.3h0M762.6 1130h0M763 1128h0M763.3 1138.7h0M763.7 1139h0M764 1138.8h0M764.4 1128.4h0M764.8 1139.1h0M765.1 1129.3h0M765.5 1139.1h0M765.8 1135h0M766.2 1122.2h0M766.6 1125.5h0M766.9 1136.3h0M767.3 1139.3h0M767.6 1137.1h0M768 1136.6h0M768.4 1125.8h0M768.7 1133.4h0M769.1 1139.1h0M769.4 1125.6h0M769.8 1125.9h0M770.2 1137.9h0M770.5 1132.9h0M770.9 1134.2h0M771.2 1132h0M771.6 1127.3h0M772 1124.3h0M772.3 1139.1h0M772.7 1133h0M773 1132.4h0M773.4 1137.1h0M773.8 1136.9h0M774.1 1127.2h0M774.5 1134.4h0M774.9 1134.6h0M775.2 1139.1h0M775.6 1130.9h0M775.9 1125.8h0M776.3 1131.8h0M776.7 1124.2h0M777 1127.3h0M777.4 1130.2h0M777.7 1136.8h0M778.1 1126.4h0M778.5 1124.3h0M778.8 1138.8h0M779.2 1127.7h0M779.5 1135.1h0M779.9 1137.3h0M780.3 1129.9h0M780.6 1139.1h0M781 1139.2h0M781.3 1136.9h0M781.7 1132.1h0M782.1 1132.5h0M782.4 1124.5h0M782.8 1126.3h0M783.1 1127.3h0M783.5 1120.5h0M783.9 1130.9h0M784.2 1132.8h0M784.6 1134.2h0M784.9 1134.8h0M785.3 1138.7h0M785.7 1138.7h0M786 1122.3h0M786.4 1133.1h0M786.7 1136.1h0M787.1 1133.7h0M787.5 1138.9h0M787.8 1125.7h0M788.2 1132.9h0M788.5 1138.5h0M788.9 1125h0M789.3 1137.7h0M789.6 1139.2h0M790 1123h0M790.3 1123.6h0M790.7 1139.1h0M791.1 1134.5h0M791.4 1128.6h0M791.8 1127.6h0M792.1 1139h0M792.5 1138.9h0M792.9 1127.6h0M793.2 1119.2h0M793.6 1138.8h0M794 1138.6h0M794.3 1136h0M794.7 1130.4h0M795 1138.3h0M795.4 1136.3h0M795.8 1125.5h0M796.1 1138.4h0M796.5 1125.3h0M796.8 1133.7h0M797.2 1138.7h0M797.6 1138.3h0M797.9 1133.5h0M798.3 1138h0M798.6 1137.9h0M799 1137.5h0M799.4 1133.6h0M799.7 1139.2h0M800.1 1133.8h0M800.4 1132.3h0M800.8 1137.6h0M801.2 1138.4h0M801.5 1139.2h0M801.9 1133.3h0M802.2 1125h0M802.6 1132.1h0M803 1131.8h0M803.3 1129.4h0M803.7 1137.4h0M804 1122.6h0M804.4 1131.3h0M804.8 1126.9h0M805.1 1127h0M805.5 1115.2h0M805.8 1135.1h0M806.2 1138.9h0M806.6 1128.8h0M806.9 1138.4h0M807.3 1138.5h0M807.6 1137.7h0M808 1122.8h0M808.4 1127.5h0M808.7 1133.7h0M809.1 1124.6h0M809.4 1131h0M809.8 1131.2h0M810.2 1127.6h0M810.5 1129.2h0M810.9 1138.3h0M811.3 1130.2h0M811.6 1138.6h0M812 1123.8h0M812.3 1128.6h0M812.7 1127.2h0M813.1 1134.7h0M813.4 1127.7h0M813.8 1136.8h0M814.1 1133h0M814.5 1138.7h0M814.9 1127.6h0M815.2 1126.4h0M815.6 1138h0M815.9 1137.6h0M816.3 1124.6h0M816.7 1129.4h0M817 1127.7h0M817.4 1130h0M817.7 1126.7h0M818.1 1138.9h0M818.5 1126.4h0M818.8 1131.8h0M819.2 1119.4h0M819.5 1139.2h0M819.9 1127h0M820.3 1131.6h0M820.6 1136.3h0M821 1136h0M821.3 1131.3h0M821.7 1138.9h0M822.1 1129.6h0M822.4 1130.4h0M822.8 1138.7h0M823.1 1139.2h0M823.5 1138.1h0M823.9 1123.3h0M824.2 1137.7h0M824.6 1131.5h0M824.9 1135.4h0M825.3 1123.3h0M825.7 1122.5h0M826 1126.5h0M826.4 1122.4h0M826.7 1123.6h0M827.1 1127.1h0M827.5 1136h0M827.8 1132.6h0M828.2 1133.4h0M828.6 1124.1h0M828.9 1130.3h0M829.3 1131.2h0M829.6 1123.3h0M830 1130.4h0M830.4 1135.7h0M830.7 1130.1h0M831.1 1133.6h0M831.4 1122.8h0M831.8 1126.4h0M832.2 1132.5h0M832.5 1128.4h0M832.9 1128.9h0M833.2 1139.2h0M833.6 1138.5h0M834 1125h0M834.3 1132h0M834.7 1139.1h0M835 1128.5h0M835.4 1137h0M835.8 1136.9h0M836.1 1135h0M836.5 1130.7h0M836.8 1130.1h0M837.2 1123.2h0M837.6 1129.8h0M837.9 1138.3h0M838.3 1126.7h0M838.6 1136.1h0M839 1133.3h0M839.4 1138.3h0M839.7 1138.2h0M840.1 1139.1h0M840.4 1135.6h0M840.8 1123.2h0M841.2 1136.6h0M841.5 1138h0M841.9 1134.7h0M842.2 1137.3h0M842.6 1135.5h0M843 1137.2h0M843.3 1124.6h0M843.7 1126.4h0M844 1127.8h0M844.4 1138.4h0M844.8 1134.1h0M845.1 1130.2h0M845.5 1137.1h0M845.8 1124.4h0M846.2 1136.9h0M846.6 1137.3h0M846.9 1139.2h0M847.3 1132.4h0M847.7 1123.8h0M848 1137.5h0M848.4 1132.7h0M848.7 1130.1h0M849.1 1127.1h0M849.5 1136.7h0M849.8 1123h0M850.2 1129.8h0M850.5 1135.4h0M850.9 1128.6h0M851.3 1135.4h0M851.6 1136.1h0M852 1125.5h0M852.3 1133.2h0M852.7 1124.8h0M853.1 1136.2h0M853.4 1135.1h0M853.8 1126h0M854.1 1132.1h0M854.5 1132.2h0M854.9 1126.2h0M855.2 1126.4h0M855.6 1130.2h0M855.9 1133.6h0M856.3 1124.8h0M856.7 1126.8h0M857 1125.3h0M857.4 1129.5h0M857.7 1131.5h0M858.1 1139h0M858.5 1126.7h0M858.8 1137.8h0M859.2 1138.9h0M859.5 1122.8h0M859.9 1135.9h0M860.3 1139h0M860.6 1118.1h0M861 1138.5h0M861.3 1139.1h0M861.7 1132.6h0M862.1 1139.2h0M862.4 1138.8h0M862.8 1131.1h0M863.1 1136.3h0M863.5 1137.8h0M863.9 1137.9h0M864.2 1127.1h0M864.6 1139.2h0M865 1139.2h0M865.3 1134.9h0M865.7 1131.1h0M866 1132h0M866.4 1133.4h0M866.8 1137.7h0M867.1 1122.3h0M867.5 1123.2h0M867.8 1122.5h0M868.2 1134h0M868.6 1134.4h0M868.9 1129.4h0M869.3 1136.2h0M869.6 1135.3h0M870 1138h0M870.4 1133.3h0M870.7 1138h0M871.1 1138h0M871.4 1132.5h0M871.8 1122.9h0M872.2 1123.5h0M872.5 1129.1h0M872.9 1139.1h0M873.2 1139.2h0M873.6 1129.1h0M874 1137.2h0M874.3 1138.3h0M874.7 1122.4h0M875 1139.1h0M875.4 1136h0M875.8 1127.2h0M876.1 1138.8h0M876.5 1138.4h0M876.8 1134.1h0M877.2 1124.5h0M877.6 1134h0M877.9 1138.6h0M878.3 1132.4h0M878.6 1137.9h0M879 1139.2h0M879.4 1129.4h0M879.7 1122.7h0M880.1 1128.9h0M880.4 1127h0M880.8 1122h0M881.2 1132h0M881.5 1139.3h0M881.9 1127.6h0M882.2 1139.1h0M882.6 1133h0M883 1136.4h0M883.3 1125.2h0M883.7 1130.9h0M884.1 1137.5h0M884.4 1135.6h0M884.8 1131.9h0M885.1 1138h0M885.5 1132h0M885.9 1129.4h0M886.2 1139h0M886.6 1139.1h0M886.9 1135.3h0M887.3 1129.3h0M887.7 1130.7h0M888 1134.1h0M888.4 1124.6h0M888.7 1139.1h0M889.1 1122.5h0M889.5 1135.4h0M889.8 1126.7h0M890.2 1128.7h0M890.5 1138.9h0M890.9 1127.2h0M891.3 1139.1h0M891.6 1124h0M892 1130.2h0M892.3 1130.9h0M892.7 1137.2h0M893.1 1139.2h0M893.4 1138.8h0M893.8 1129.4h0M894.1 1127.1h0M894.5 1133.4h0M894.9 1127.6h0M895.2 1116h0M895.6 1132.6h0M895.9 1133.6h0M896.3 1131.8h0M896.7 1139h0M897 1132.8h0M897.4 1117h0M897.7 1139.2h0M898.1 1127h0M898.5 1138.7h0M898.8 1137.9h0M899.2 1138.8h0M899.5 1132.8h0M899.9 1138.9h0M900.3 1126.1h0M900.6 1138.8h0M901 1136.7h0M901.4 1138.5h0M901.7 1122.7h0M902.1 1139.3h0M902.4 1138.7h0M902.8 1131.7h0M903.2 1134.4h0M903.5 1131.5h0M903.9 1124.4h0M904.2 1127.4h0M904.6 1126.4h0M905 1139.2h0M905.3 1126.1h0M905.7 1125.4h0M906 1123.7h0M906.4 1129.4h0M906.8 1136.8h0M907.1 1136.4h0M907.5 1134.6h0M907.8 1130.6h0M908.2 1128.2h0M908.6 1122.3h0M908.9 1137.1h0M909.3 1121.9h0M909.6 1125.2h0M910 1136.4h0M910.4 1127.9h0M910.7 1127.4h0M911.1 1138.8h0M911.4 1136.6h0M911.8 1135.8h0M912.2 1123.1h0M912.5 1133h0M912.9 1132.9h0M913.2 1135.2h0M913.6 1129.8h0M914 1138.9h0M914.3 1136.9h0M914.7 1139.2h0M915 1129.2h0M915.4 1138.2h0M915.8 1129.9h0M916.1 1128.6h0M916.5 1137.4h0M916.8 1139.2h0M917.2 1137.9h0M917.6 1123.1h0M917.9 1131.9h0M918.3 1131.7h0M918.7 1136.7h0M919 1120.6h0M919.4 1138.5h0M919.7 1133.7h0M920.1 1129.9h0M920.5 1128h0M920.8 1138.8h0M921.2 1135.2h0M921.5 1134.6h0M921.9 1138.9h0M922.3 1136.2h0M922.6 1139.2h0M923 1137.7h0M923.3 1127.2h0M923.7 1122.2h0M924.1 1124.7h0M924.4 1130.5h0M924.8 1130.4h0M925.1 1138.5h0M925.5 1122.6h0M925.9 1130.6h0M926.2 1137.7h0M926.6 1139.2h0M926.9 1138.6h0M927.3 1135.9h0M927.7 1138.5h0M928 1137.4h0M928.4 1133.2h0M928.7 1137.4h0M929.1 1137h0M929.5 1128.1h0M929.8 1138h0M930.2 1135.6h0M930.5 1130.9h0M930.9 1125.6h0M931.3 1130.4h0M931.6 1119.9h0M932 1138.7h0M932.3 1129.3h0M932.7 1138.7h0M933.1 1138.2h0M933.4 1134.7h0M933.8 1139h0M934.1 1134.2h0M934.5 1132.6h0M934.9 1137.7h0M935.2 1132.4h0M935.6 1123.2h0M935.9 1138.8h0M936.3 1133.2h0M936.7 1138.2h0M937 1137.8h0M937.4 1137.2h0M937.8 1134.3h0M938.1 1139h0M938.5 1136.5h0M938.8 1130.4h0M939.2 1138.7h0M939.6 1133.9h0M939.9 1139.2h0M940.3 1119.6h0M940.6 1128.7h0M941 1137.6h0M941.4 1131.6h0M941.7 1138.5h0M942.1 1123.6h0M942.4 1125.9h0M942.8 1124.7h0M943.2 1137.7h0M943.5 1124.8h0M943.9 1137.8h0M944.2 1134.7h0M944.6 1138h0M945 1132h0M945.3 1135.3h0M945.7 1139.2h0M946 1137.6h0M946.4 1133.4h0M946.8 1133.8h0M947.1 1131.3h0M947.5 1126.5h0M947.8 1122.2h0M948.2 1137.7h0M948.6 1136.5h0M948.9 1136.2h0M949.3 1139.2h0M949.6 1138.3h0M950 1139.3h0M950.4 1137.3h0M950.7 1132.5h0M951.1 1138.5h0M951.4 1138.7h0M951.8 1138.4h0M952.2 1133.2h0M952.5 1125.1h0M952.9 1137.6h0M953.2 1132h0M953.6 1135.2h0M954 1130.4h0M954.3 1123.3h0M954.7 1123.7h0M955.1 1139.1h0M955.4 1121.3h0M955.8 1136.9h0M956.1 1125.6h0M956.5 1133.1h0M956.9 1127.1h0M957.2 1133.4h0M957.6 1137.5h0M957.9 1132h0M958.3 1124.8h0M958.7 1138h0M959 1124.9h0M959.4 1138.1h0M959.7 1137.3h0M960.1 1135.8h0M960.5 1130.1h0M960.8 1128.7h0M961.2 1134.1h0M961.5 1119.6h0M961.9 1130.1h0M962.3 1130.7h0M962.6 1123.3h0M963 1137.6h0M963.3 1123.3h0M963.7 1135.2h0M964.1 1124.8h0M964.4 1128.8h0M964.8 1130.4h0M965.1 1138.6h0M965.5 1137.8h0M965.9 1139.2h0M966.2 1135.2h0M966.6 1139h0M966.9 1123.7h0M967.3 1136h0M967.7 1134.7h0M968 1117.7h0M968.4 1138.3h0M968.7 1123.2h0M969.1 1126.4h0M969.5 1131h0M969.8 1123.1h0M970.2 1128.1h0M970.5 1137.3h0M970.9 1131.7h0M971.3 1125.4h0M971.6 1119h0M972 1129h0M972.4 1122.4h0M972.7 1121.9h0M973.1 1137.2h0M973.4 1123h0M973.8 1123.9h0M974.2 1138.4h0M974.5 1133.2h0M974.9 1135h0M975.2 1137.3h0M975.6 1138.9h0M976 1138.9h0M976.3 1129.7h0M976.7 1127.5h0M977 1136.2h0M977.4 1138.1h0M977.8 1132.5h0M978.1 1138.4h0M978.5 1135.5h0M978.8 1137.6h0M979.2 1127.2h0M979.6 1132h0M979.9 1129.4h0M980.3 1127.5h0M980.6 1138.9h0M981 1132.4h0M981.4 1138h0M981.7 1138.8h0M982.1 1137.5h0M982.4 1134.9h0M982.8 1117.2h0M983.2 1137.7h0M983.5 1130.9h0M983.9 1131.4h0M984.2 1137.9h0M984.6 1130.4h0M985 1138.4h0M985.3 1128h0M985.7 1129.2h0M986 1127.4h0M986.4 1136.6h0M986.8 1139.1h0M987.1 1138.9h0M987.5 1133.4h0M987.8 1124h0M988.2 1134.3h0M988.6 1138.7h0M988.9 1133.2h0M989.3 1129.2h0M989.6 1127.9h0M990 1139h0M990.4 1133.9h0M990.7 1130.3h0M991.1 1136.5h0M991.5 1129.3h0M991.8 1135.7h0M992.2 1124.1h0M992.5 1131.3h0M992.9 1134.4h0M993.3 1137h0M993.6 1122.7h0M994 1138.6h0M994.3 1131.3h0M994.7 1139h0M995.1 1128h0M995.4 1138.9h0M995.8 1138.9h0M996.1 1139.1h0M996.5 1128h0M996.9 1138.8h0M997.2 1138.3h0M997.6 1126.5h0M997.9 1138.2h0M998.3 1134.9h0M998.7 1138.7h0M999 1122.9h0M999.4 1137.3h0M999.7 1125h0M1000.1 1134.1h0M1000.5 1131.6h0M1000.8 1134.2h0M1001.2 1128.8h0M1001.5 1138h0M1001.9 1138.8h0M1002.3 1136.2h0M1002.6 1137.3h0M1003 1122.4h0M1003.3 1126h0M1003.7 1138.2h0M1004.1 1136.2h0M1004.4 1135h0M1004.8 1125.7h0M1005.1 1139.2h0M1005.5 1131.6h0M1005.9 1123.4h0M1006.2 1126.1h0M1006.6 1137.2h0M1006.9 1135.7h0M1007.3 1135.6h0M1007.7 1137.7h0M1008 1135.1h0M1008.4 1125.1h0M1008.8 1137.5h0M1009.1 1127.2h0M1009.5 1129h0M1009.8 1127h0M1010.2 1130.5h0M1010.6 1126.3h0M1010.9 1132.9h0M1011.3 1126.8h0M1011.6 1126.2h0M1012 1125.3h0M1012.4 1123.8h0M1012.7 1130.1h0M1013.1 1139.1h0M1013.4 1132.7h0M1013.8 1136.2h0M1014.2 1127.7h0M1014.5 1137.8h0M1014.9 1137.4h0M1015.2 1116.5h0M1015.6 1137.7h0M1016 1139h0M1016.3 1138h0M1016.7 1135.3h0M1017 1123.4h0M1017.4 1131h0M1017.8 1134.1h0M1018.1 1128.8h0M1018.5 1125.5h0M1018.8 1138.8h0M1019.2 1126.6h0M1019.6 1133.9h0M1019.9 1125.3h0M1020.3 1137.9h0M1020.6 1135.9h0M1021 1129.7h0M1021.4 1118.5h0M1021.7 1134.8h0M1022.1 1134.8h0M1022.4 1133.2h0M1022.8 1127.6h0M1023.2 1137.7h0M1023.5 1127.2h0M1023.9 1125.2h0M1024.2 1134.8h0M1024.6 1129.4h0M1025 1137.9h0M1025.3 1136.4h0M1025.7 1138.1h0M1026 1133.6h0M1026.4 1138.5h0M1026.8 1122.2h0M1027.1 1127.4h0M1027.5 1124.5h0M1027.9 1128.2h0M1028.2 1135.9h0M1028.6 1119.3h0M1028.9 1124.8h0M1029.3 1123.4h0M1029.7 1124h0M1030 1138.5h0M1030.4 1127.2h0M1030.7 1131.7h0M1031.1 1137.1h0M1031.5 1133.4h0M1031.8 1120.8h0M1032.2 1129.2h0M1032.5 1137.5h0M1032.9 1133.3h0M1033.3 1131.6h0M1033.6 1137.9h0M1034 1129.1h0M1034.3 1129.3h0M1034.7 1137.1h0M1035.1 1124.2h0M1035.4 1123.7h0M1035.8 1138.9h0M1036.1 1127.4h0M1036.5 1138.5h0M1036.9 1130.9h0M1037.2 1136.3h0M1037.6 1137.5h0M1037.9 1138.3h0M1038.3 1131.3h0M1038.7 1138.3h0M1039 1138.9h0M1039.4 1136.6h0M1039.7 1138.1h0M1040.1 1134.7h0M1040.5 1133.9h0M1040.8 1134.1h0M1041.2 1131.9h0M1041.5 1138.3h0M1041.9 1129.6h0M1042.3 1135.3h0M1042.6 1134.9h0M1043 1129.8h0M1043.3 1138.4h0M1043.7 1116h0M1044.1 1129h0M1044.4 1131.1h0M1044.8 1135.3h0M1045.2 1136.8h0M1045.5 1130.4h0M1045.9 1123.5h0M1046.2 1135.8h0M1046.6 1127.5h0M1047 1130.1h0M1047.3 1123.6h0M1047.7 1135.3h0M1048 1138.7h0M1048.4 1121h0M1048.8 1134h0M1049.1 1135.9h0M1049.5 1136.1h0M1049.8 1124h0M1050.2 1134h0M1050.6 1135.5h0M1050.9 1127.6h0M1051.3 1135.8h0M1051.6 1135.9h0M1052 1132.9h0M1052.4 1136.3h0M1052.7 1138.3h0M1053.1 1139.2h0M1053.4 1139.1h0M1053.8 1138.5h0M1054.2 1139.1h0M1054.5 1128.8h0M1054.9 1124.5h0M1055.2 1132.7h0M1055.6 1138.9h0M1056 1134.8h0M1056.3 1128.5h0M1056.7 1135.5h0M1057 1125.5h0M1057.4 1131.8h0M1057.8 1139.2h0M1058.1 1117.4h0M1058.5 1131.1h0M1058.8 1138.3h0M1059.2 1131.5h0M1059.6 1123h0M1059.9 1122.7h0M1060.3 1135.5h0M1060.6 1137.6h0M1061 1122.3h0M1061.4 1138.2h0M1061.7 1138.4h0M1062.1 1128.8h0M1062.5 1133.1h0M1062.8 1139.2h0M1063.2 1127.5h0M1063.5 1134.5h0M1063.9 1131.7h0M1064.3 1135.4h0M1064.6 1125.8h0M1065 1132.5h0M1065.3 1138.2h0M1065.7 1116.5h0M1066.1 1127.6h0M1066.4 1139.3h0M1066.8 1135.1h0M1067.1 1132.3h0M1067.5 1135.2h0M1067.9 1123.4h0M1068.2 1131.4h0M1068.6 1135.7h0M1068.9 1124.7h0M1069.3 1127.6h0M1069.7 1122.4h0M1070 1136.5h0M1070.4 1137.2h0M1070.7 1138.4h0M1071.1 1133.8h0M1071.5 1124.2h0M1071.8 1124h0M1072.2 1138.4h0M1072.5 1132.2h0M1072.9 1132h0M1073.3 1123.9h0M1073.6 1127.8h0M1074 1137.1h0M1074.3 1125.5h0M1074.7 1129h0M1075.1 1128.9h0M1075.4 1138.8h0M1075.8 1129.1h0M1076.1 1130.6h0M1076.5 1135.8h0M1076.9 1123.7h0M1077.2 1134.9h0M1077.6 1127.1h0M1077.9 1134.4h0M1078.3 1135.3h0M1078.7 1134.1h0M1079 1128.5h0M1079.4 1130h0M1079.7 1122.5h0M1080.1 1128.7h0M1080.5 1130.9h0M1080.8 1137.4h0M1081.2 1139.2h0M1081.6 1138.9h0M1081.9 1119.7h0M1082.3 1134.2h0M1082.6 1128.9h0M1083 1124h0M1083.4 1138.6h0M1083.7 1138.7h0M1084.1 1133.6h0M1084.4 1138.3h0M1084.8 1134.1h0M1085.2 1137.4h0M1085.5 1137.7h0M1085.9 1131.4h0M1086.2 1128h0M1086.6 1133h0M1087 1134.6h0M1087.3 1124.4h0M1087.7 1130h0M1088 1137.6h0M1088.4 1126.7h0M1088.8 1124.2h0M1089.1 1129.9h0M1089.5 1135.2h0M1089.8 1138.5h0M1090.2 1133.7h0M1090.6 1135.8h0M1090.9 1128.2h0M1091.3 1138.3h0M1091.6 1135.8h0M1092 1122.6h0M1092.4 1132.1h0M1092.7 1135.5h0M1093.1 1122.1h0M1093.4 1138.7h0M1093.8 1131.1h0M1094.2 1123.5h0M1094.5 1135.9h0M1094.9 1131h0M1095.2 1125.8h0M1095.6 1135.9h0M1096 1136.8h0M1096.3 1137.5h0M1096.7 1118.8h0M1097 1137.9h0M1097.4 1138.7h0M1097.8 1130.3h0M1098.1 1124.1h0M1098.5 1130.1h0M1098.9 1139.3h0M1099.2 1134.9h0M1099.6 1136.6h0M1099.9 1139.3h0M1100.3 1124.7h0M1100.7 1122.1h0M1101 1138.2h0M1101.4 1138.8h0M1101.7 1137.2h0M1102.1 1133.3h0M1102.5 1123.1h0M1102.8 1129.6h0M1103.2 1126.6h0M1103.5 1138.8h0M1103.9 1137.1h0M1104.3 1135.9h0M1104.6 1123.4h0M1105 1122.3h0M1105.3 1130.6h0M1105.7 1129h0M1106.1 1135.9h0M1106.4 1137.3h0M1106.8 1138.4h0M1107.1 1131.9h0M1107.5 1138.3h0M1107.9 1132.2h0M1108.2 1135.1h0M1108.6 1139.2h0M1108.9 1134.9h0M1109.3 1128.3h0M1109.7 1126.7h0M1110 1138.9h0M1110.4 1135.5h0M1110.7 1128.1h0M1111.1 1130.2h0M1111.5 1134.4h0M1111.8 1124.2h0M1112.2 1138.2h0M1112.5 1138.9h0M1112.9 1138.9h0M1113.3 1134.9h0M1113.6 1133.4h0M1114 1137.5h0M1114.3 1136.7h0M1114.7 1124.5h0M1115.1 1134.8h0M1115.4 1139.1h0M1115.8 1126.1h0M1116.1 1138.4h0M1116.5 1139.1h0M1116.9 1136.3h0M1117.2 1128.6h0M1117.6 1133.4h0M1118 1130.3h0M1118.3 1130.4h0M1118.7 1121.9h0M1119 1135.3h0M1119.4 1138.9h0M1119.8 1122.3h0M1120.1 1137.2h0M1120.5 1137.7h0M1120.8 1129.8h0M1121.2 1138.4h0M1121.6 1132.8h0M1121.9 1124.3h0M1122.3 1133.6h0M1122.6 1138h0M1123 1133.7h0M1123.4 1136.9h0M1123.7 1126.9h0M1124.1 1138.5h0M1124.4 1138.6h0M1124.8 1129.6h0M1125.2 1122.8h0M1125.5 1129.3h0M1125.9 1138.7h0M1126.2 1139.1h0M1126.6 1129.1h0M1127 1129.7h0M1127.3 1129.3h0M1127.7 1122.7h0M1128 1139.3h0M1128.4 1129h0M1128.8 1131h0M1129.1 1125.5h0M1129.5 1138.7h0M1129.8 1123.6h0M1130.2 1136h0M1130.6 1122.2h0M1130.9 1124.6h0M1131.3 1125.7h0M1131.6 1123h0M1132 1123.6h0M1132.4 1138h0M1132.7 1133.9h0M1133.1 1135.7h0M1133.4 1131.9h0M1133.8 1137.1h0M1134.2 1133.5h0M1134.5 1130.4h0M1134.9 1133h0M1135.3 1128h0M1135.6 1127.7h0M1136 1137.4h0M1136.3 1133.4h0M1136.7 1136.9h0M1137.1 1129.4h0M1137.4 1133.9h0M1137.8 1137.8h0M1138.1 1136h0M1138.5 1135.9h0M1138.9 1128.8h0M1139.2 1137.6h0M1139.6 1130.6h0M1139.9 1131h0M1140.3 1137.1h0M1140.7 1115h0M1141 1133.2h0M1141.4 1123.1h0M1141.7 1137.6h0M1142.1 1138.8h0M1142.5 1128.8h0M1142.8 1135.8h0M1143.2 1133.8h0M1143.5 1124.9h0M1143.9 1125.6h0M1144.3 1135h0M1144.6 1122.9h0M1145 1138.4h0M1145.3 1124.2h0M1145.7 1136.3h0M1146.1 1125h0M1146.4 1138h0M1146.8 1135.7h0M1147.1 1124.7h0M1147.5 1135.4h0M1147.9 1120.4h0M1148.2 1120.5h0M1148.6 1128.2h0M1148.9 1130h0M1149.3 1117.7h0M1149.7 1131.5h0M1150 1138h0M1150.4 1124.6h0M1150.7 1132h0M1151.1 1136.5h0M1151.5 1136.4h0M1151.8 1131.7h0M1152.2 1138.7h0M1152.5 1136.6h0M1152.9 1135.9h0M1153.3 1138.7h0M1153.6 1137.5h0M1154 1137.5h0M1154.4 1135.7h0M1154.7 1127.4h0M1155.1 1137.2h0M1155.4 1134h0M1155.8 1139.1h0M1156.2 1137.7h0M1156.5 1127.8h0M1156.9 1132.7h0M1157.2 1127.3h0M1157.6 1137.3h0M1158 1134.7h0M1158.3 1138.9h0M1158.7 1123.2h0M1159 1138.9h0M1159.4 1134.8h0M1159.8 1136.9h0M1160.1 1133.3h0M1160.5 1138.3h0M1160.8 1133.7h0M1161.2 1125.8h0M1161.6 1125.4h0M1161.9 1136.3h0M1162.3 1132.4h0M1162.6 1138.9h0M1163 1135.8h0M1163.4 1130.5h0M1163.7 1136.4h0M1164.1 1126.2h0M1164.4 1135h0M1164.8 1135.9h0M1165.2 1138.3h0M1165.5 1130.4h0M1165.9 1135.2h0M1166.2 1127.5h0M1166.6 1126.5h0M1167 1122h0M1167.3 1123.2h0M1167.7 1130.1h0M1168 1134.1h0M1168.4 1138.2h0M1168.8 1129.7h0M1169.1 1130.8h0M1169.5 1131.4h0M1169.8 1133.4h0M1170.2 1132.7h0M1170.6 1133.9h0M1170.9 1138.6h0M1171.3 1130.1h0M1171.7 1131.4h0M1172 1132.3h0M1172.4 1134.6h0M1172.7 1132.4h0M1173.1 1135.9h0M1173.5 1123h0M1173.8 1130.6h0M1174.2 1115.2h0M1174.5 1122.9h0M1174.9 1137.2h0M1175.3 1138.2h0M1175.6 1115.6h0M1176 1134.7h0M1176.3 1129.8h0M1176.7 1125.8h0M1177.1 1124.8h0M1177.4 1139.2h0M1177.8 1139h0M1178.1 1131.2h0M1178.5 1138.4h0M1178.9 1137h0M1179.2 1124.7h0M1179.6 1122.4h0M1179.9 1127.4h0M1180.3 1124.1h0M1180.7 1128.9h0M1181 1138.9h0M1181.4 1132.6h0M1181.7 1125.8h0M1182.1 1129.6h0M1182.5 1127.6h0M1182.8 1138h0M1183.2 1137h0M1183.5 1126.5h0M1183.9 1129.7h0M1184.3 1137.7h0M1184.6 1123.4h0M1185 1133.4h0M1185.3 1139.2h0M1185.7 1128.6h0M1186.1 1136h0M1186.4 1136.1h0M1186.8 1130.5h0M1187.1 1133.2h0M1187.5 1124.3h0M1187.9 1133.5h0M1188.2 1138h0M1188.6 1136h0M1189 1138.9h0M1189.3 1131h0M1189.7 1135.7h0M1190 1137.8h0M1190.4 1139.3h0M1190.8 1137.4h0M1191.1 1132.6h0M1191.5 1131.2h0M1191.8 1127.8h0M1192.2 1125.7h0M1192.6 1130.1h0M1192.9 1134.7h0M1193.3 1123.4h0M1193.6 1138.8h0M1194 1133.4h0M1194.4 1137.7h0M1194.7 1135.5h0M1195.1 1138.1h0M1195.4 1138.1h0M1195.8 1132.9h0M1196.2 1133.5h0M1196.5 1139.2h0M1196.9 1138h0M1197.2 1128.1h0M1197.6 1132.9h0M1198 1127.7h0M1198.3 1129h0M1198.7 1132.2h0M1199 1135.7h0M1199.4 1139h0M1199.8 1129.8h0M1200.1 1132.7h0M1200.5 1138.8h0M1200.8 1125.6h0M1201.2 1137.4h0M1201.6 1137.4h0M1201.9 1133.8h0M1202.3 1136.8h0M1202.6 1135.8h0M1203 1129.1h0M1203.4 1120.9h0M1203.7 1138.8h0M1204.1 1127.8h0M1204.4 1137.9h0M1204.8 1128.3h0M1205.2 1124h0M1205.5 1136.6h0M1205.9 1123.6h0M1206.2 1134.6h0M1206.6 1128h0M1207 1134h0M1207.3 1135.2h0M1207.7 1135.2h0M1208.1 1132.5h0M1208.4 1132.2h0M1208.8 1132.5h0M1209.1 1139h0M1209.5 1125.3h0M1209.9 1139.2h0M1210.2 1131h0M1210.6 1134.1h0M1210.9 1136.8h0M1211.3 1129h0M1211.7 1130.8h0M1212 1119.9h0M1212.4 1136.4h0M1212.7 1136.3h0M1213.1 1130.2h0M1213.5 1127.5h0M1213.8 1132.8h0M1214.2 1138.7h0M1214.5 1139h0M1214.9 1139.2h0M1215.3 1135.8h0M1215.6 1135.4h0M1216 1135.1h0M1216.3 1133.2h0M1216.7 1123h0M1217.1 1134.7h0M1217.4 1123h0M1217.8 1130.8h0M1218.1 1135.4h0M1218.5 1137h0M1218.9 1139.2h0M1219.2 1125.5h0M1219.6 1134.7h0M1219.9 1137.1h0M1220.3 1133.3h0M1220.7 1123.8h0M1221 1137.5h0M1221.4 1119.8h0M1221.7 1124.4h0M1222.1 1132h0M1222.5 1139.1h0M1222.8 1138.8h0M1223.2 1120.5h0M1223.5 1138.6h0M1223.9 1139.2h0M1224.3 1137.7h0M1224.6 1138.9h0M1225 1133.3h0M1225.4 1126.8h0M1225.7 1137.4h0M1226.1 1126.3h0M1226.4 1128.6h0M1226.8 1123.6h0M1227.2 1131.8h0M1227.5 1138.8h0M1227.9 1129.7h0M1228.2 1129.1h0M1228.6 1133.7h0M1229 1134.7h0M1229.3 1132h0M1229.7 1137.1h0M1230 1138.9h0M1230.4 1133.7h0M1230.8 1138.7h0M1231.1 1133.5h0M1231.5 1135.7h0M1231.8 1125h0M1232.2 1122.7h0M1232.6 1122.4h0M1232.9 1137.3h0M1233.3 1131.5h0M1233.6 1122.2h0M1234 1127.1h0M1234.4 1139h0M1234.7 1138.2h0M1235.1 1131.4h0M1235.4 1134.3h0M1235.8 1138.9h0M1236.2 1138.8h0M1236.5 1130.7h0M1236.9 1139.1h0M1237.2 1123.2h0M1237.6 1134.9h0M1238 1129.7h0M1238.3 1130.7h0M1238.7 1132.3h0M1239 1138.1h0M1239.4 1123.1h0M1239.8 1122.4h0M1240.1 1126.3h0M1240.5 1128.6h0M1240.8 1123.8h0M1241.2 1125.3h0M1241.6 1127.6h0M1241.9 1136.6h0M1242.3 1127.3h0M1242.7 1126.2h0M1243 1138.3h0M1243.4 1132.3h0M1243.7 1136.3h0M1244.1 1138.4h0M1244.5 1137.7h0M1244.8 1136.4h0M1245.2 1136.7h0M1245.5 1119.9h0M1245.9 1115.9h0M1246.3 1115h0M1246.6 1137.6h0M1247 1139.2h0M1247.3 1129.4h0M1247.7 1133.5h0M1248.1 1136.9h0M1248.4 1135.7h0M1248.8 1125.1h0M1249.1 1117.3h0M1249.5 1127.1h0M1249.9 1132.7h0M1250.2 1138.4h0M1250.6 1137.2h0M1250.9 1138h0M1251.3 1132.2h0M1251.7 1131.1h0M1252 1124.2h0M1252.4 1132.4h0M1252.7 1124.1h0M1253.1 1138.8h0M1253.5 1129.4h0M1253.8 1130.8h0M1254.2 1123.8h0M1254.5 1134.6h0M1254.9 1128.2h0M1255.3 1138.8h0M1255.6 1127.1h0M1256 1129.9h0M1256.3 1138.6h0M1256.7 1133.7h0M1257.1 1123.5h0M1257.4 1134.6h0M1257.8 1131.1h0M1258.1 1122.9h0M1258.5 1139h0M1258.9 1139.2h0M1259.2 1135.1h0M1259.6 1135.1h0M1259.9 1127.8h0M1260.3 1137.5h0M1260.7 1133.8h0M1261 1130.8h0M1261.4 1136.5h0M1261.8 1122.2h0M1262.1 1123.2h0M1262.5 1139.1h0M1262.8 1126.4h0M1263.2 1123.1h0M1263.6 1132h0M1263.9 1139.2h0M1264.3 1137.3h0M1264.6 1139h0M1265 1135.7h0M1265.4 1135.2h0M1265.7 1128.9h0M1266.1 1131.7h0M1266.4 1131.7h0M1266.8 1122.5h0M1267.2 1139.1h0M1267.5 1130.4h0M1267.9 1124.3h0M1268.2 1124.9h0M1268.6 1132.2h0M1269 1136.8h0M1269.3 1131.4h0M1269.7 1132.8h0M1270 1132.4h0M1270.4 1132.4h0M1270.8 1139.2h0M1271.1 1132.6h0M1271.5 1123h0M1271.8 1134h0M1272.2 1133h0M1272.6 1121h0M1272.9 1125.4h0M1273.3 1117.9h0M1273.6 1127.3h0M1274 1135.6h0M1274.4 1129.5h0M1274.7 1131.6h0M1275.1 1132h0M1275.4 1127.8h0M1275.8 1137.4h0M1276.2 1135.5h0M1276.5 1127.2h0M1276.9 1132.5h0M1277.2 1121.5h0M1277.6 1133.7h0M1278 1138.3h0M1278.3 1135.4h0M1278.7 1124.1h0M1279.1 1136.4h0M1279.4 1138.6h0M1279.8 1129.6h0M1280.1 1138.7h0M1280.5 1133.5h0M1280.9 1126.8h0M1281.2 1137.8h0M1281.6 1127h0M1281.9 1139.3h0M1282.3 1126.7h0M1282.7 1128.1h0M1283 1131h0M1283.4 1122.6h0M1283.7 1126.5h0M1284.1 1136.6h0M1284.5 1129.9h0M1284.8 1132.4h0M1285.2 1137.4h0M1285.5 1138.6h0M1285.9 1125.1h0M1286.3 1129.7h0M1286.6 1138.7h0M1287 1128.1h0M1287.3 1138.8h0M1287.7 1128h0M1288.1 1126.9h0M1288.4 1138.8h0M1288.8 1125.3h0M1289.1 1139h0M1289.5 1138.9h0M1289.9 1138.9h0M1290.2 1130.4h0M1290.6 1135.2h0M1290.9 1139.2h0M1291.3 1137.5h0M1291.7 1129.3h0M1292 1133h0M1292.4 1138.6h0M1292.7 1136.9h0M1293.1 1128.7h0M1293.5 1136.4h0M1293.8 1125.7h0M1294.2 1134h0M1294.5 1124.2h0M1294.9 1134.5h0M1295.3 1125.8h0M1295.6 1137.3h0M1296 1133.6h0M1296.3 1138.4h0M1296.7 1122.4h0M1297.1 1135.6h0M1297.4 1125h0M1297.8 1138.7h0M1298.2 1128.7h0M1298.5 1130.5h0M1298.9 1133.3h0M1299.2 1134.6h0M1299.6 1124.5h0M1300 1124.1h0M1300.3 1123.1h0M1300.7 1124.3h0M1301 1125.5h0M1301.4 1116h0M1301.8 1126.8h0M1302.1 1126.6h0M1302.5 1128.4h0M1302.8 1135.1h0M1303.2 1127.3h0M1303.6 1138.9h0M1303.9 1137.7h0M1304.3 1135.1h0M1304.6 1125.1h0M1305 1131h0M1305.4 1138.8h0M1305.7 1133.3h0M1306.1 1134.5h0M1306.4 1135.1h0M1306.8 1135h0M1307.2 1123.8h0M1307.5 1132.8h0M1307.9 1137.4h0M1308.2 1133.7h0M1308.6 1122.7h0M1309 1137.9h0M1309.3 1138.4h0M1309.7 1127.7h0M1310 1137.6h0M1310.4 1134.6h0M1310.8 1133h0M1311.1 1139h0M1311.5 1129.8h0M1311.8 1124.3h0M1312.2 1136.7h0M1312.6 1132.6h0M1312.9 1137.7h0M1313.3 1117.1h0M1313.6 1131.2h0M1314 1134.6h0M1314.4 1138.1h0M1314.7 1126.9h0M1315.1 1129.2h0M1315.5 1127.1h0M1315.8 1130.6h0M1316.2 1132.5h0M1316.5 1122.9h0M1316.9 1133h0M1317.3 1138.8h0M1317.6 1137.6h0M1318 1139.2h0M1318.3 1125.6h0M1318.7 1129.2h0M1319.1 1137.6h0M1319.4 1136.8h0M1319.8 1136.1h0M1320.1 1132.2h0M1320.5 1122.5h0M1320.9 1115.8h0M1321.2 1139.2h0M1321.6 1135.5h0M1321.9 1136.6h0M1322.3 1127.7h0M1322.7 1128.3h0M1323 1139.2h0M1323.4 1137.8h0M1323.7 1139.3h0M1324.1 1130.3h0M1324.5 1131h0M1324.8 1128.9h0M1325.2 1137.9h0M1325.5 1131.7h0M1325.9 1138h0M1326.3 1136.2h0M1326.6 1136.1h0M1327 1132.2h0M1327.3 1128.9h0M1327.7 1128.4h0M1328.1 1138.9h0M1328.4 1133.3h0M1328.8 1125.2h0M1329.1 1137h0M1329.5 1129.7h0M1329.9 1137.3h0M1330.2 1120.9h0M1330.6 1136.5h0M1330.9 1134.8h0M1331.3 1139.2h0M1331.7 1115.6h0M1332 1137.1h0M1332.4 1138.7h0M1332.8 1138.7h0M1333.1 1137.4h0M1333.5 1134.6h0M1333.8 1133.1h0M1334.2 1129.1h0M1334.6 1124.3h0M1334.9 1132.5h0M1335.3 1136.4h0M1335.6 1125.2h0M1336 1138.8h0M1336.4 1117.4h0M1336.7 1137.5h0M1337.1 1126.5h0M1337.4 1133.6h0M1337.8 1138h0M1338.2 1134.9h0M1338.5 1138.1h0M1338.9 1139.2h0M1339.2 1138.7h0M1339.6 1133.1h0M1340 1127.4h0M1340.3 1131.2h0M1340.7 1138.6h0M1341 1128.1h0M1341.4 1124h0M1341.8 1135.3h0M1342.1 1136.2h0M1342.5 1125h0M1342.8 1132.8h0M1343.2 1138.7h0M1343.6 1127.9h0M1343.9 1131.7h0M1344.3 1123.3h0M1344.6 1127.7h0M1345 1136.5h0M1345.4 1135.1h0M1345.7 1139.1h0M1346.1 1135.6h0M1346.4 1134.1h0M1346.8 1136.8h0M1347.2 1139.2h0M1347.5 1139h0M1347.9 1130.1h0M1348.2 1122.8h0M1348.6 1123.3h0M1349 1129.5h0M1349.3 1115.3h0M1349.7 1134.7h0M1350 1126.9h0M1350.4 1139.2h0M1350.8 1137.1h0M1351.1 1138.6h0M1351.5 1128.7h0M1351.9 1138.5h0M1352.2 1130.4h0M1352.6 1138.6h0M1352.9 1120.1h0M1353.3 1139.1h0M1353.7 1138.8h0M1354 1126.3h0M1354.4 1139.2h0M1354.7 1133.7h0M1355.1 1138.5h0M1355.5 1127.2h0M1355.8 1125.4h0M1356.2 1137.2h0M1356.5 1134.3h0M1356.9 1132.3h0M1357.3 1133.4h0M1357.6 1122.5h0M1358 1139.2h0M1358.3 1136.6h0M1358.7 1115.4h0M1359.1 1133.9h0M1359.4 1129.6h0M1359.8 1128.3h0M1360.1 1128.9h0M1360.5 1132.6h0M1360.9 1127.9h0M1361.2 1136.2h0M1361.6 1127.2h0M1361.9 1138.7h0M1362.3 1138.8h0M1362.7 1128.6h0M1363 1127.8h0M1363.4 1132.4h0M1363.7 1130.7h0M1364.1 1131.9h0M1364.5 1128.3h0M1364.8 1138.6h0M1365.2 1135h0M1365.5 1132.5h0M1365.9 1135.4h0M1366.3 1135.8h0M1366.6 1117.2h0M1367 1135.4h0M1367.3 1131.9h0M1367.7 1115.8h0M1368.1 1123.8h0M1368.4 1134.2h0M1368.8 1139.1h0M1369.2 1126.4h0M1369.5 1137.3h0M1369.9 1127.4h0M1370.2 1135.5h0M1370.6 1127.3h0M1371 1125.9h0M1371.3 1131.8h0M1371.7 1129.3h0M1372 1138.5h0M1372.4 1128.9h0M1372.8 1127.1h0M1373.1 1134.1h0M1373.5 1124h0M1373.8 1138.8h0M1374.2 1135h0M1374.6 1124.1h0M1374.9 1138.7h0M1375.3 1136.2h0M1375.6 1136.4h0M1376 1127h0M1376.4 1129.1h0M1376.7 1123.6h0M1377.1 1136.4h0M1377.4 1138.8h0M1377.8 1131.2h0M1378.2 1122.9h0M1378.5 1132.5h0M1378.9 1136.7h0M1379.2 1124.8h0M1379.6 1137.3h0M1380 1137.1h0M1380.3 1138.4h0M1380.7 1134.7h0M1381 1138.3h0M1381.4 1138.6h0M1381.8 1136.3h0M1382.1 1128.2h0M1382.5 1134.1h0M1382.8 1127.9h0M1383.2 1134.9h0M1383.6 1137.4h0M1383.9 1133.2h0M1384.3 1135.6h0M1384.6 1138.6h0M1385 1135.9h0M1385.4 1134.3h0M1385.7 1137.9h0M1386.1 1136.3h0M1386.4 1117.3h0M1386.8 1134.8h0M1387.2 1137.3h0M1387.5 1126.7h0M1387.9 1136.4h0M1388.3 1136.9h0M1388.6 1136.1h0M1389 1127.6h0M1389.3 1125.2h0M1389.7 1138.7h0M1390.1 1138.3h0M1390.4 1133.1h0M1390.8 1132h0M1391.1 1137.5h0M1391.5 1128.4h0M1391.9 1139.1h0M1392.2 1137.3h0M1392.6 1138.7h0M1392.9 1136h0M1393.3 1136.8h0M1393.7 1138h0M1394 1122.7h0M1394.4 1130h0M1394.7 1137.1h0M1395.1 1122.6h0M1395.5 1131.5h0M1395.8 1138.1h0M1396.2 1124h0M1396.5 1138.3h0M1396.9 1130.5h0M1397.3 1138.2h0M1397.6 1138.8h0M1398 1137.5h0M1398.3 1134h0M1398.7 1129h0M1399.1 1134.2h0M1399.4 1121h0M1399.8 1138.5h0M1400.1 1127.7h0M1400.5 1136.8h0M1400.9 1129.8h0M1401.2 1129.9h0M1401.6 1135.2h0M1401.9 1130.5h0M1402.3 1138.6h0M1402.7 1135.3h0M1403 1135.5h0M1403.4 1132.6h0M1403.7 1127.3h0M1404.1 1136.4h0M1404.5 1125.7h0M1404.8 1128.1h0M1405.2 1127.6h0M1405.6 1138.7h0M1405.9 1138.8h0M1406.3 1136.5h0M1406.6 1132.9h0M1407 1129.5h0M1407.4 1127.4h0M1407.7 1136.5h0M1408.1 1128.2h0M1408.4 1135.8h0M1408.8 1138.4h0M1409.2 1134.3h0M1409.5 1136.2h0M1409.9 1133.4h0M1410.2 1125.2h0M1410.6 1129.7h0M1411 1125.8h0M1411.3 1132.6h0M1411.7 1137.1h0M1412 1127.3h0M1412.4 1138.9h0M1412.8 1123.1h0M1413.1 1127h0M1413.5 1132.6h0M1413.8 1135.1h0M1414.2 1138.9h0M1414.6 1138.8h0M1414.9 1130.2h0M1415.3 1127.1h0M1415.6 1124h0M1416 1139.2h0M1416.4 1127.8h0M1416.7 1133h0M1417.1 1138.4h0M1417.4 1124.8h0M1417.8 1135.3h0M1418.2 1137.1h0M1418.5 1127.7h0M1418.9 1136.7h0M1419.2 1133.9h0M1419.6 1135.9h0M1420 1129.9h0M1420.3 1132.4h0M1420.7 1133.1h0M1421 1139.3h0M1421.4 1129.3h0M1421.8 1126.1h0M1422.1 1136.2h0M1422.5 1126.7h0M1422.8 1122.3h0M1423.2 1139.1h0M1423.6 1139h0M1423.9 1136.5h0M1424.3 1134.5h0M1424.7 1124.6h0M1425 1132.5h0M1425.4 1136.7h0M1425.7 1136.1h0M1426.1 1123.3h0M1426.5 1126.7h0M1426.8 1138.7h0M1427.2 1138.6h0M1427.5 1122.5h0M1427.9 1123.3h0M1428.3 1121.5h0M1428.6 1139.1h0M1429 1136.8h0M1429.3 1132.5h0M1429.7 1136.8h0M1430.1 1129.8h0M1430.4 1134.1h0M1430.8 1137h0M1431.1 1134.2h0M1431.5 1138.1h0M1431.9 1125.3h0M1432.2 1126.9h0M1432.6 1138.2h0M1432.9 1128.7h0M1433.3 1120.7h0M1433.7 1136.1h0M1434 1138.7h0M1434.4 1136.2h0M1434.7 1136.4h0M1435.1 1138.2h0M1435.5 1131.9h0M1435.8 1139.1h0M1436.2 1128.8h0M1436.5 1123.9h0M1436.9 1135.7h0M1437.3 1133h0M1437.6 1115.1h0M1438 1137.2h0M1438.3 1135.9h0M1438.7 1123.9h0M1439.1 1125.4h0M1439.4 1120.1h0M1439.8 1123.7h0M1440.1 1135.8h0M1440.5 1137.6h0M1440.9 1130.6h0M1441.2 1124.3h0M1441.6 1129.7h0M1442 1138.5h0M1442.3 1122.2h0M1442.7 1134.3h0M1443 1123h0M1443.4 1133h0M1443.8 1133.3h0M1444.1 1128.9h0M1444.5 1126.2h0M1444.8 1132.5h0M1445.2 1138h0M1445.6 1139.2h0M1445.9 1132.2h0M1446.3 1124.2h0M1446.6 1138.1h0M1447 1131.9h0M1447.4 1139.3h0M1447.7 1129.3h0M1448.1 1137.3h0M1448.4 1125.8h0M1448.8 1116.9h0M1449.2 1131.7h0M1449.5 1139.2h0M1449.9 1137.5h0M1450.2 1122.7h0M1450.6 1139h0M1451 1138.8h0M1451.3 1134.7h0M1451.7 1136.4h0M1452 1134.1h0M1452.4 1135.3h0M1452.8 1136.4h0M1453.1 1138.1h0M1453.5 1131.1h0M1453.8 1124.3h0M1454.2 1128.5h0M1454.6 1135.8h0M1454.9 1131.5h0M1455.3 1134.1h0M1455.6 1129.9h0M1456 1134.9h0M1456.4 1134.3h0M1456.7 1124.9h0M1457.1 1132.6h0M1457.4 1137.7h0M1457.8 1128.7h0M1458.2 1129.8h0M1458.5 1135.4h0M1458.9 1134.7h0M1459.3 1125.7h0M1459.6 1136.1h0M1460 1139h0M1460.3 1134h0M1460.7 1131.1h0M1461.1 1123.4h0M1461.4 1139.2h0M1461.8 1139.2h0M1462.1 1131h0M1462.5 1125.9h0M1462.9 1123.2h0M1463.2 1131.3h0M1463.6 1137.2h0M1463.9 1139.3h0M1464.3 1136.5h0M1464.7 1133.6h0M1465 1136.8h0M1465.4 1127.1h0M1465.7 1127.8h0M1466.1 1133.2h0M1466.5 1134.7h0M1466.8 1124.3h0M1467.2 1128.8h0M1467.5 1138.5h0M1467.9 1126.5h0M1468.3 1131.1h0M1468.6 1137.2h0M1469 1120.8h0M1469.3 1136.1h0M1469.7 1122.7h0M1470.1 1120.1h0M1470.4 1138.7h0M1470.8 1127.1h0M1471.1 1127.5h0M1471.5 1139.2h0M1471.9 1126.3h0M1472.2 1133.3h0M1472.6 1125.9h0M1472.9 1114.8h0M1473.3 1135.1h0M1473.7 1127.3h0M1474 1122.5h0M1474.4 1124.1h0M1474.7 1138.9h0M1475.1 1137.7h0M1475.5 1136.2h0M1475.8 1139.1h0M1476.2 1138.6h0M1476.5 1133.7h0M1476.9 1133.2h0M1477.3 1136.3h0M1477.6 1128.6h0M1478 1125.1h0M1478.4 1126.1h0M1478.7 1132.2h0M1479.1 1132.4h0M1479.4 1138.8h0M1479.8 1138.7h0M1480.2 1129.2h0M1480.5 1131.4h0M1480.9 1129.1h0M1481.2 1131.3h0M1481.6 1132.4h0M1482 1137.2h0M1482.3 1125.7h0M1482.7 1124h0M1483 1137.2h0M1483.4 1139.1h0M1483.8 1132.9h0M1484.1 1124.6h0M1484.5 1130.9h0M1484.8 1127.6h0M1485.2 1139.3h0M1485.6 1127.5h0M1485.9 1138.7h0M1486.3 1130.5h0M1486.6 1139.2h0M1487 1139.3h0M1487.4 1135.6h0M1487.7 1139.3h0M1488.1 1137.5h0M1488.4 1135.1h0M1488.8 1116.1h0M1489.2 1128.7h0M1489.5 1139.3h0M1489.9 1124.8h0M1490.2 1137.9h0M1490.6 1125h0M1491 1133.6h0M1491.3 1138.7h0M1491.7 1131.3h0M1492 1131.1h0M1492.4 1135.7h0M1492.8 1139.2h0M1493.1 1125.7h0M1493.5 1139h0M1493.8 1138.2h0M1494.2 1138h0M1494.6 1126.8h0M1494.9 1135.6h0M1495.3 1137.3h0M1495.7 1130.2h0M1496 1135.6h0M1496.4 1127.4h0M1496.7 1138.6h0M1497.1 1130.9h0M1497.5 1133.2h0M1497.8 1128.4h0M1498.2 1133h0M1498.5 1137.5h0M1498.9 1139h0M1499.3 1125.2h0M1499.6 1138.9h0M1500 1131.9h0M1500.3 1139.2h0M1500.7 1132.4h0M1501.1 1139h0M1501.4 1137.5h0M1501.8 1133.1h0M1502.1 1123.6h0M1502.5 1134.9h0M1502.9 1126.3h0M1503.2 1128h0M1503.6 1129.2h0M1503.9 1123.3h0M1504.3 1128.2h0M1504.7 1132.3h0M1505 1137.6h0M1505.4 1137.7h0M1505.7 1133.8h0M1506.1 1129.4h0M1506.5 1122.4h0M1506.8 1127.3h0M1507.2 1130.3h0M1507.5 1123.8h0M1507.9 1119.6h0M1508.3 1133h0M1508.6 1138.8h0M1509 1139h0M1509.3 1134.6h0M1509.7 1133.6h0M1510.1 1135.5h0M1510.4 1139.2h0M1510.8 1123h0M1511.1 1136h0M1511.5 1128.6h0M1511.9 1122.8h0M1512.2 1137.9h0M1512.6 1135.3h0M1513 1123.1h0M1513.3 1132.2h0M1513.7 1130.8h0M1514 1126.6h0M1514.4 1139.2h0M1514.8 1133h0M1515.1 1139h0M1515.5 1135.7h0M1515.8 1137h0M1516.2 1135.8h0M1516.6 1125h0M1516.9 1137.1h0M1517.3 1122.7h0M1517.6 1137.8h0M1518 1139h0M1518.4 1127.7h0M1518.7 1127.5h0M1519.1 1125.1h0M1519.4 1126.9h0M1519.8 1125h0M1520.2 1137.3h0M1520.5 1133.7h0M1520.9 1138.3h0M1521.2 1132.2h0M1521.6 1138.4h0M1522 1134.2h0M1522.3 1137.2h0M1522.7 1129.1h0M1523 1131.5h0M1523.4 1123.4h0M1523.8 1139.1h0M1524.1 1138.3h0M1524.5 1138.5h0M1524.8 1132.1h0M1525.2 1134.1h0M1525.6 1129.2h0M1525.9 1136.6h0M1526.3 1123.8h0M1526.6 1122.6h0M1527 1135.5h0M1527.4 1137.3h0M1527.7 1124.7h0M1528.1 1133.5h0M1528.4 1125.1h0M1528.8 1138.8h0M1529.2 1133.3h0M1529.5 1138.1h0M1529.9 1118.3h0M1530.2 1138.9h0M1530.6 1134.9h0M1531 1137.7h0M1531.3 1137.7h0M1531.7 1138.9h0M1532.1 1135.5h0M1532.4 1136h0M1532.8 1139.2h0M1533.1 1132.9h0M1533.5 1132.1h0M1533.9 1136.4h0M1534.2 1129.8h0M1534.6 1138.8h0M1534.9 1137.2h0M1535.3 1123h0M1535.7 1125.7h0M1536 1127.5h0M1536.4 1134.1h0M1536.7 1131.7h0M1537.1 1137.8h0M1537.5 1131.5h0M1537.8 1123.9h0M1538.2 1122.9h0M1538.5 1137.2h0M1538.9 1138.7h0M1539.3 1124.9h0M1539.6 1118.3h0M1540 1131.4h0M1540.3 1133.3h0M1540.7 1137.7h0M1541.1 1139h0M1541.4 1137.4h0M1541.8 1132.8h0M1542.1 1123.1h0M1542.5 1137.5h0M1542.9 1125.9h0M1543.2 1134.8h0M1543.6 1122.5h0M1543.9 1138.1h0M1544.3 1136.5h0M1544.7 1119.3h0M1545 1136.6h0M1545.4 1126.8h0M1545.7 1131.1h0M1546.1 1137.3h0M1546.5 1133h0M1546.8 1128.1h0M1547.2 1136h0M1547.5 1126.4h0M1547.9 1123.8h0M1548.3 1139h0M1548.6 1139.2h0M1549 1130h0M1549.4 1134.6h0M1549.7 1138.3h0M1550.1 1127.6h0M1550.4 1132h0M1550.8 1137.8h0M1551.2 1139.2h0M1551.5 1132.2h0M1551.9 1132.6h0M1552.2 1134.2h0M1552.6 1137h0M1553 1123.8h0M1553.3 1139.3h0M1553.7 1138h0M1554 1133.4h0M1554.4 1124.1h0M1554.8 1117.4h0M1555.1 1131.8h0M1555.5 1133.6h0M1555.8 1134.5h0M1556.2 1131.7h0M1556.6 1138.7h0M1556.9 1132.8h0M1557.3 1129.4h0M1557.6 1125.7h0M1558 1127.1h0M1558.4 1134.3h0M1558.7 1136.2h0M1559.1 1125.7h0M1559.4 1139.3h0M1559.8 1132.5h0M1560.2 1131.3h0M1560.5 1138.8h0M1560.9 1138.1h0M1561.2 1138.4h0M1561.6 1139.1h0M1562 1130.7h0M1562.3 1128h0M1562.7 1125.6h0M1563 1123.9h0M1563.4 1139h0M1563.8 1138.2h0M1564.1 1132.9h0M1564.5 1133.7h0M1564.8 1130.4h0M1565.2 1134.3h0M1565.6 1135h0M1565.9 1137.6h0M1566.3 1133.9h0M1566.6 1139h0M1567 1122.9h0M1567.4 1128h0M1567.7 1138.9h0M1568.1 1125.6h0M1568.5 1139.1h0M1568.8 1131.3h0M1569.2 1130.4h0M1569.5 1138.1h0M1569.9 1138.6h0M1570.3 1126h0M1570.6 1133.4h0M1571 1133.8h0M1571.3 1120.7h0M1571.7 1139.2h0M1572.1 1124.6h0M1572.4 1138.4h0M1572.8 1137h0M1573.1 1130.6h0M1573.5 1128.7h0M1573.9 1126.5h0M1574.2 1128.3h0M1574.6 1137.3h0M1574.9 1135.9h0M1575.3 1125.4h0M1575.7 1133.8h0M1576 1125.3h0M1576.4 1136h0M1576.7 1133h0M1577.1 1137.3h0M1577.5 1130.2h0M1577.8 1123.8h0M1578.2 1123h0M1578.5 1133.4h0M1578.9 1135.9h0M1579.3 1133.6h0M1579.6 1128.2h0M1580 1137.1h0M1580.3 1139.1h0M1580.7 1125.9h0M1581.1 1123.5h0M1581.4 1135.5h0M1581.8 1131.5h0M1582.1 1125.6h0M1582.5 1116.7h0M1582.9 1130.7h0M1583.2 1139h0M1583.6 1124.8h0M1583.9 1134.1h0M1584.3 1138h0M1584.7 1139.1h0M1585 1128.7h0M1585.4 1128.2h0M1585.8 1126.7h0M1586.1 1123.6h0M1586.5 1132.7h0M1586.8 1127.1h0M1587.2 1130.3h0M1587.6 1136.2h0M1587.9 1125.8h0M1588.3 1136.9h0M1588.6 1139.1h0M1589 1136.4h0M1589.4 1123.5h0M1589.7 1135.5h0M1590.1 1133h0M1590.4 1134.7h0M1590.8 1123.3h0M1591.2 1133.1h0M1591.5 1138.5h0M1591.9 1133.5h0M1592.2 1134.8h0M1592.6 1123.9h0M1593 1125.2h0M1593.3 1130.7h0M1593.7 1137.3h0M1594 1128.3h0M1594.4 1135h0M1594.8 1133.2h0M1595.1 1123.4h0M1595.5 1138.6h0M1595.8 1136.1h0M1596.2 1139.2h0M1596.6 1135.9h0M1596.9 1136.8h0M1597.3 1136.5h0M1597.6 1137h0M1598 1135.1h0M1598.4 1136.9h0M1598.7 1132.6h0M1599.1 1130.6h0M1599.4 1138.9h0M1599.8 1138.5h0M1600.2 1138.1h0M1600.5 1136.2h0M1600.9 1137.6h0M1601.2 1138.1h0M1601.6 1130h0M1602 1137.4h0M1602.3 1130.1h0M1602.7 1131.5h0M1603 1134.6h0M1603.4 1135.9h0M1603.8 1135.7h0M1604.1 1138.9h0M1604.5 1125.7h0M1604.9 1135.7h0M1605.2 1137.4h0M1605.6 1138.6h0M1605.9 1133.4h0M1606.3 1123.2h0M1606.7 1123.6h0M1607 1139.2h0M1607.4 1122.8h0M1607.7 1131.4h0M1608.1 1134.7h0M1608.5 1138.5h0M1608.8 1137.1h0M1609.2 1125.6h0M1609.5 1125.4h0M1609.9 1132.2h0M1610.3 1126.5h0M1610.6 1130.7h0M1611 1136.4h0M1611.3 1133.9h0M1611.7 1126.9h0M1612.1 1138.1h0M1612.4 1127.2h0M1612.8 1123.3h0M1613.1 1129.4h0M1613.5 1138.7h0M1613.9 1123.7h0M1614.2 1132.6h0M1614.6 1133.5h0M1614.9 1125.2h0M1615.3 1136.1h0M1615.7 1138.1h0M1616 1126.3h0M1616.4 1131.6h0M1616.7 1117.1h0M1617.1 1138.3h0M1617.5 1122.5h0M1617.8 1130.6h0M1618.2 1122.4h0M1618.5 1115h0M1618.9 1133.8h0M1619.3 1139.2h0M1619.6 1134h0M1620 1135.2h0M1620.3 1132.1h0M1620.7 1129.6h0M1621.1 1129.8h0M1621.4 1129.3h0M1621.8 1136.8h0M1622.2 1135.4h0M1622.5 1126.7h0M1622.9 1131.7h0M1623.2 1124.6h0M1623.6 1123.5h0M1624 1126.8h0M1624.3 1126.3h0M1624.7 1134.4h0M1625 1127.4h0M1625.4 1132.9h0M1625.8 1119.7h0M1626.1 1138.8h0M1626.5 1138.9h0M1626.8 1137.7h0M1627.2 1128.4h0M1627.6 1135.1h0M1627.9 1132.6h0M1628.3 1133.5h0M1628.6 1134.3h0M1629 1129.8h0M1629.4 1129.8h0M1629.7 1128.2h0M1630.1 1136h0M1630.4 1138.9h0M1630.8 1125.3h0M1631.2 1138.1h0M1631.5 1127.1h0M1631.9 1125.9h0M1632.2 1136.3h0M1632.6 1129h0M1633 1136.7h0M1633.3 1135.4h0M1633.7 1137.7h0M1634 1129.5h0M1634.4 1130.4h0M1634.8 1139.2h0M1635.1 1136.9h0M1635.5 1123.3h0M1635.8 1139h0M1636.2 1138.4h0M1636.6 1133.3h0M1636.9 1137.1h0M1637.3 1138.2h0M1637.6 1124.7h0M1638 1137.6h0M1638.4 1138.7h0M1638.7 1130.7h0M1639.1 1132.7h0M1639.5 1128.6h0M1639.8 1124.6h0M1640.2 1138.1h0M1640.5 1129.5h0M1640.9 1139.1h0M1641.3 1137h0M1641.6 1125.5h0M1642 1128.6h0M1642.3 1137.1h0M1642.7 1135.7h0M1643.1 1133.1h0M1643.4 1138.3h0M1643.8 1138.3h0M1644.1 1126.1h0M1644.5 1135.8h0M1644.9 1139.2h0M1645.2 1116.9h0M1645.6 1138.3h0M1645.9 1139.3h0M1646.3 1136h0M1646.7 1134.1h0M1647 1128.7h0M1647.4 1123.1h0M1647.7 1138.2h0M1648.1 1124.9h0M1648.5 1133.1h0M1648.8 1136.5h0M1649.2 1138h0M1649.5 1136.4h0M1649.9 1132.2h0M1650.3 1138.9h0M1650.6 1133.5h0M1651 1137.5h0M1651.3 1135.2h0M1651.7 1132h0M1652.1 1136.8h0M1652.4 1139.2h0M1652.8 1132.8h0M1653.1 1136.4h0M1653.5 1134h0M1653.9 1139h0M1654.2 1137.3h0M1654.6 1137.3h0M1654.9 1137.6h0M1655.3 1135.9h0M1655.7 1128.8h0M1656 1115.2h0M1656.4 1131.1h0M1656.7 1133.3h0M1657.1 1130.2h0M1657.5 1124.6h0M1657.8 1139h0M1658.2 1125.2h0M1658.6 1129.3h0M1658.9 1125.3h0M1659.3 1126.4h0M1659.6 1127.2h0M1660 1134.2h0M1660.4 1127.2h0M1660.7 1123.3h0M1661.1 1128.8h0M1661.4 1135.3h0M1661.8 1133.5h0M1662.2 1137.3h0M1662.5 1126.2h0M1662.9 1129.8h0M1663.2 1132.2h0M1663.6 1139.3h0M1664 1123h0M261.2 956.1h0M372.2 963.6h0M315.4 992.7h0M352.3 996.5h0M319.1 1010.2h0M463.3 1000.3h0M208.4 1019.7h0M216.2 1037.5h0M219.9 1050.9h0M280.3 1056.6h0M498.4 1035.3h0M523.5 1031.8h0M257.4 1066.3h0M249.9 1069.8h0M245.8 1072h0M241 1074.7h0M350.4 1074.1h0M496.5 1081.7h0M550.9 1079.8h0M229.6 1089.5h0M336.9 1087.3h0M410.8 1087.3h0M484.9 1091.9h0M233.7 1100.8h0M321.3 1094.6h0M350.4 1090.8h0M435.8 1095.4h0M454.7 1095.4h0M460.1 1095.4h0M393.5 1097.6h0M383.3 1100h0M370.4 1100.8h0M210.8 1105.4h0M255.3 1107h0M311.1 1103.5h0M334.8 1102.7h0M353.6 1099.5h0M485.7 1106.2h0M497.8 1105.4h0M530.2 1101.6h0M538.3 1101.6h0M323.2 1113.5h0M454.7 1108.9h0M399.5 1109.7h0M299.7 1112.9h0M268.7 1114.3h0M469.5 1112.9h0M504.6 1110.2h0M543.7 1111.6h0M527.5 1111.6h0M563.9 1118.3h0M592.2 1117h0M605.9 990.3h0M686.8 977.1h0M943.7 961.5h0M980.6 959.3h0M807.3 1008.4h0M842.3 1016.2h0M770.4 1024h0M918.3 1027.2h0M992.2 1013.7h0M790 1038.8h0M799.5 1045h0M760.9 1047.2h0M774.4 1052.8h0M871.7 1054.7h0M706.5 1056.6h0M998.4 1050.9h0M939.6 1062.5h0M966.6 1070.4h0M780.1 1068.5h0M790 1072h0M823.7 1069.8h0M815.1 1073.9h0M846.6 1068.5h0M843.9 1073h0M612.9 1072h0M602.2 1081.9h0M698.4 1081.9h0M671.4 1085.4h0M672.8 1090.8h0M764.4 1081.9h0M776.5 1084.1h0M926.1 1087.3h0M813.7 1091.9h0M725.3 1090.8h0M732.1 1099.5h0M700.5 1101.1h0M653.9 1102.2h0M604 1100.8h0M616.2 1108.9h0M860.1 1101.1h0M871.4 1101.1h0M977.4 1093.5h0M988.1 1091.9h0M978.7 1099.5h0M918.1 1107h0M910 1108.9h0M998.4 1110.2h0M688.9 1110.2h0M719.9 1114.3h0M635 1114.3h0M643.1 1112.9h0M764.4 1100.8h0M772.5 1099.5h0M777.9 1107.5h0M802.2 1112.9h0M950.4 1114.3h0M868.2 1114.3h0M972 1115.6h0M822.4 1115.6h0M740.2 1117h0M1120.8 965.2h0M1223.7 980.9h0M1045.3 1019.1h0M1035.6 1021.3h0M1014 1031.5h0M1025.6 1044.7h0M1000 1050.9h0M1008.1 1060.9h0M1270.9 1052.6h0M1293.8 1052.8h0M1320.8 1054.7h0M1278.4 1062.5h0M1244.7 1068.5h0M1262.8 1076.5h0M1159.6 1074.1h0M1074.1 1083.8h0M1311.3 1083.8h0M1340.4 1087.6h0M1323.5 1091.9h0M1097.6 1091.9h0M1107.3 1100.8h0M1014.8 1093.5h0M1008.1 1100.8h0M1029.1 1100.8h0M1163.6 1094.6h0M1179.2 1095.4h0M1203.5 1098.1h0M1199.5 1102.2h0M1160.4 1103.5h0M1156.3 1108.9h0M1134 1107h0M1187.3 1107.5h0M1221 1107h0M1272.2 1101.1h0M1303.8 1097.6h0M1254.7 1107h0M1327.5 1102.2h0M1285.7 1112.9h0M1307.3 1114.8h0M1389.5 1097.6h0M1397.6 1104.9h0M1376 1110.2h0M1075.5 1112.9h0M1235.8 1115.6h0M1349.1 1112.9h0M1059.3 1115.6h0M1175.2 1115.6h0M1009.4 1112.9h0M1032.3 1112.9h0M1099.7 1117h0M1125.3 1117h0M1268.2 1115.6h0M1359.8 1118.3h0M1478.4 941.8h0M1653.6 943.1h0M1562 953.4h0M1603.2 974.9h0M1546.9 1004h0M1618.6 1033.2h0M1463.3 1037.2h0M1645.8 1046.9h0M1509.7 1050.7h0M1529.1 1050.7h0M1463.3 1056.3h0M1449.3 1062.5h0M1457.1 1067.1h0M1638.3 1068.7h0M1523.5 1072h0M1480.3 1083.8h0M1497.8 1081.9h0M1539.4 1087.3h0M1566.3 1089.5h0M1436.4 1089.5h0M1445.3 1095.4h0M1414 1101.1h0M1612.9 1101.1h0M1474.7 1105.4h0M1552.8 1101.1h0M1562.5 1107.5h0M1531.3 1107h0M1498.4 1107.5h0M1402.2 1103.5h0M1429.6 1114.3h0M1491.6 1117h0M1602.2 1115.1h0M1654.7 1115.1h0M1662.8 1115.1h0M1623.7 1117h0M1510.5 1117h0M1564.4 1112.9h0" fill="none" stroke="#0070c0" stroke-width="13.0" stroke-linecap="round"/>
<path d="M255 889.5h0M325 819.5h0M328.5 825.5h0M403 893.5h0M502 700.5h0M589.5 728h0M344.3 930.5h0M356.2 920.5h0M581.4 934.3h0M887 790h0M1042.5 858h0M1210 731.5h0M1258.5 728h0M1292 788h0M1278 926h0M1313 926h0M1431.5 844.5h0M1560 798h0M1538.7 912.7h0M1628 881.5h0M1581.5 405.5h0M1527 496.5h0" fill="none" stroke="#ff0000" stroke-width="13.0" stroke-linecap="round"/>
<text x="993" y="164.0" font-size="53.5" fill="#595959" font-weight="bold" text-anchor="middle" textLength="169.3" lengthAdjust="spacingAndGlyphs">Abbott</text>
<text x="992.6" y="224.9" font-size="53.5" fill="#595959" font-weight="bold" text-anchor="middle" textLength="410.5" lengthAdjust="spacingAndGlyphs">SARS-CoV-2 IgG</text>
<text x="961.5" y="1247.4" font-size="31.5" fill="#595959" font-weight="bold" text-anchor="middle" textLength="290" lengthAdjust="spacingAndGlyphs">Number of Samples</text>
<text transform="translate(120.3 704.5) rotate(-90)" font-size="30.6" font-weight="bold" fill="#595959" text-anchor="middle" textLength="184" lengthAdjust="spacingAndGlyphs">Index (S/CO)</text>
<rect x="37.3" y="16.2" width="545" height="220.8" fill="none" stroke="#000" stroke-width="2"/>
<text x="56" y="63.4" font-size="30.5" fill="#000" font-weight="bold" text-anchor="start" textLength="202.5" lengthAdjust="spacingAndGlyphs">No. analysed:</text>
<text x="312.4" y="63.4" font-size="30.5" fill="#000" font-weight="bold" text-anchor="start" textLength="69.9" lengthAdjust="spacingAndGlyphs">4044</text>
<text x="56" y="100.3" font-size="30.5" fill="#000" font-weight="bold" text-anchor="start" textLength="187.5" lengthAdjust="spacingAndGlyphs">No. positive:</text>
<text x="312.4" y="100.3" font-size="30.5" fill="#000" font-weight="bold" text-anchor="start" textLength="34.9" lengthAdjust="spacingAndGlyphs">22</text>
<text x="56" y="137.3" font-size="30.5" fill="#000" font-weight="bold" text-anchor="start" textLength="196" lengthAdjust="spacingAndGlyphs">No. negative:</text>
<text x="312.4" y="137.3" font-size="30.5" fill="#000" font-weight="bold" text-anchor="start" textLength="69.9" lengthAdjust="spacingAndGlyphs">4022</text>
<text x="56" y="174.2" font-size="30.5" fill="#000" font-weight="bold" text-anchor="start" textLength="165.5" lengthAdjust="spacingAndGlyphs">Specificity:</text>
<text x="312.4" y="174.2" font-size="30.5" fill="#000" font-weight="bold" text-anchor="start" textLength="106.5" lengthAdjust="spacingAndGlyphs">99.46%</text>
<text x="312.4" y="211.2" font-size="30.5" fill="#000" font-weight="bold" text-anchor="start">(CI 99.07−99.71)</text>
<rect x="1395" y="68.5" width="317" height="169" fill="none" stroke="#000" stroke-width="2"/>
<text x="1416" y="127.6" font-size="30.5" fill="#000" font-weight="bold" text-anchor="start">Test criteria</text>
<text x="1413.6" y="164.5" font-size="30.5" fill="#ff0000" font-weight="bold" text-anchor="start" textLength="120.5" lengthAdjust="spacingAndGlyphs">Positive</text>
<text x="1600" y="164.5" font-size="30.5" fill="#ff0000" font-weight="bold" text-anchor="start"><tspan text-decoration="underline">&gt;</tspan>1.4</text>
<text x="1413.6" y="201.3" font-size="30.5" fill="#0070c0" font-weight="bold" text-anchor="start" textLength="130.3" lengthAdjust="spacingAndGlyphs">Negative</text>
<text x="1600" y="201.3" font-size="30.5" fill="#0070c0" font-weight="bold" text-anchor="start">&lt;1.4</text>
</g>
<text x="919.5" y="1505.6" font-family='"Liberation Serif", serif' font-size="86" fill="#000" text-anchor="middle">(<tspan font-weight="bold" dx="-2.7">c</tspan><tspan dx="-2.7">)</tspan></text>
<g id="chart-d">
<g stroke="#ababab" stroke-width="1.2" fill="none">
<path d="M212 1829.5V2766.5"/>
<path d="M212 2766.5H1701"/>
<path d="M212 2766.5h9M212 2747.8h9M212 2729.0h9M212 2710.3h9M212 2691.6h9M212 2672.8h9M212 2654.1h9M212 2635.4h9M212 2616.7h9M212 2597.9h9M212 2579.2h9M212 2560.5h9M212 2541.7h9M212 2523.0h9M212 2504.3h9M212 2485.6h9M212 2466.8h9M212 2448.1h9M212 2429.4h9M212 2410.6h9M212 2391.9h9M212 2373.2h9M212 2354.4h9M212 2335.7h9M212 2317.0h9M212 2298.2h9M212 2279.5h9M212 2260.8h9M212 2242.1h9M212 2223.3h9M212 2204.6h9M212 2185.9h9M212 2167.1h9M212 2148.4h9M212 2129.7h9M212 2110.9h9M212 2092.2h9M212 2073.5h9M212 2054.8h9M212 2036.0h9M212 2017.3h9M212 1998.6h9M212 1979.8h9M212 1961.1h9M212 1942.4h9M212 1923.7h9M212 1904.9h9M212 1886.2h9M212 1867.5h9M212 1848.7h9M212 1830.0h9" stroke="#c2c2c2"/>
</g>
<text transform="translate(185.3 2777.1) scale(0.89 1)" font-size="34" fill="#636363" text-anchor="end">0.0</text>
<text transform="translate(185.3 2683.4) scale(0.89 1)" font-size="34" fill="#636363" text-anchor="end">0.5</text>
<text transform="translate(185.3 2589.8) scale(0.89 1)" font-size="34" fill="#636363" text-anchor="end">1.0</text>
<text transform="translate(185.3 2496.2) scale(0.89 1)" font-size="34" fill="#636363" text-anchor="end">1.5</text>
<text transform="translate(185.3 2402.5) scale(0.89 1)" font-size="34" fill="#636363" text-anchor="end">2.0</text>
<text transform="translate(185.3 2308.8) scale(0.89 1)" font-size="34" fill="#636363" text-anchor="end">2.5</text>
<text transform="translate(185.3 2215.2) scale(0.89 1)" font-size="34" fill="#636363" text-anchor="end">3.0</text>
<text transform="translate(185.3 2121.5) scale(0.89 1)" font-size="34" fill="#636363" text-anchor="end">3.5</text>
<text transform="translate(185.3 2027.9) scale(0.89 1)" font-size="34" fill="#636363" text-anchor="end">4.0</text>
<text transform="translate(185.3 1934.2) scale(0.89 1)" font-size="34" fill="#636363" text-anchor="end">4.5</text>
<text transform="translate(185.3 1840.6) scale(0.89 1)" font-size="34" fill="#636363" text-anchor="end">5.0</text>
<text transform="translate(212.3 2813.6) scale(0.89 1)" font-size="34" fill="#636363" text-anchor="middle">0</text>
<text transform="translate(393.8 2813.6) scale(0.89 1)" font-size="34" fill="#636363" text-anchor="middle">500</text>
<text transform="translate(575.2 2813.6) scale(0.89 1)" font-size="34" fill="#636363" text-anchor="middle">1000</text>
<text transform="translate(756.7 2813.6) scale(0.89 1)" font-size="34" fill="#636363" text-anchor="middle">1500</text>
<text transform="translate(938.1 2813.6) scale(0.89 1)" font-size="34" fill="#636363" text-anchor="middle">2000</text>
<text transform="translate(1119.5 2813.6) scale(0.89 1)" font-size="34" fill="#636363" text-anchor="middle">2500</text>
<text transform="translate(1301.0 2813.6) scale(0.89 1)" font-size="34" fill="#636363" text-anchor="middle">3000</text>
<text transform="translate(1482.5 2813.6) scale(0.89 1)" font-size="34" fill="#636363" text-anchor="middle">3500</text>
<text transform="translate(1663.9 2813.6) scale(0.89 1)" font-size="34" fill="#636363" text-anchor="middle">4000</text>
<text x="385.5" y="1885" font-size="32.3" fill="#595959" font-weight="bold" text-anchor="middle" textLength="167.3" lengthAdjust="spacingAndGlyphs">March 2018</text>
<text x="718.9" y="1885" font-size="32.3" fill="#595959" font-weight="bold" text-anchor="middle" textLength="147.2" lengthAdjust="spacingAndGlyphs">April 2018</text>
<text x="1117" y="1885" font-size="32.3" fill="#595959" font-weight="bold" text-anchor="middle" textLength="137" lengthAdjust="spacingAndGlyphs">May 2018</text>
<text x="1453.3" y="1885" font-size="32.3" fill="#595959" font-weight="bold" text-anchor="middle" textLength="148" lengthAdjust="spacingAndGlyphs">June 2018</text>
<g fill="none" stroke="#6f6f6f" stroke-linejoin="miter" stroke-miterlimit="10">
<path d="M218 1876.5H553.3" stroke-width="5.6"/>
<path d="M238.3 1866.3L218.8 1876.5L238.3 1886.7" stroke-width="4.8"/>
<path d="M533.0 1866.3L552.5 1876.5L533.0 1886.7" stroke-width="4.8"/>
</g>
<g fill="none" stroke="#6f6f6f" stroke-linejoin="miter" stroke-miterlimit="10">
<path d="M563.3 1876.5H934" stroke-width="5.6"/>
<path d="M583.5999999999999 1866.3L564.0999999999999 1876.5L583.5999999999999 1886.7" stroke-width="4.8"/>
<path d="M913.7 1866.3L933.2 1876.5L913.7 1886.7" stroke-width="4.8"/>
</g>
<g fill="none" stroke="#6f6f6f" stroke-linejoin="miter" stroke-miterlimit="10">
<path d="M944 1876.5H1309" stroke-width="5.6"/>
<path d="M964.3 1866.3L944.8 1876.5L964.3 1886.7" stroke-width="4.8"/>
<path d="M1288.7 1866.3L1308.2 1876.5L1288.7 1886.7" stroke-width="4.8"/>
</g>
<g fill="none" stroke="#6f6f6f" stroke-linejoin="miter" stroke-miterlimit="10">
<path d="M1319 1876.5H1675" stroke-width="5.6"/>
<path d="M1339.3 1866.3L1319.8 1876.5L1339.3 1886.7" stroke-width="4.8"/>
<path d="M1654.7 1866.3L1674.2 1876.5L1654.7 1886.7" stroke-width="4.8"/>
</g>
<path d="M212 2617.1H1683" stroke="#ffc000" stroke-width="5.5" fill="none"/>
<path d="M212 2561.3H1683" stroke="#ff0000" stroke-width="5.5" fill="none"/>
<path d="M212.4 2756.9h0M212.7 2742.8h0M213.1 2755.4h0M213.5 2763.1h0M213.8 2751.9h0M214.2 2764.8h0M214.5 2764.9h0M214.9 2729.7h0M215.3 2741.5h0M215.6 2752.3h0M216 2765.9h0M216.4 2765.3h0M216.7 2736.8h0M217.1 2757.2h0M217.5 2755.1h0M217.8 2755.6h0M218.2 2756.7h0M218.5 2740.4h0M218.9 2745.5h0M219.3 2760.3h0M219.6 2760.9h0M220 2747.8h0M220.4 2745.3h0M220.7 2741.7h0M221.1 2766h0M221.5 2743.3h0M221.8 2741h0M222.2 2765.1h0M222.5 2747.5h0M222.9 2764.9h0M223.3 2741.5h0M223.6 2764.4h0M224 2732.2h0M224.4 2763.3h0M224.7 2757h0M225.1 2748.9h0M225.4 2751.5h0M225.8 2757.7h0M226.2 2761.3h0M226.5 2746.7h0M226.9 2744.1h0M227.3 2758.3h0M227.6 2751.6h0M228 2740.7h0M228.4 2761.6h0M228.7 2760h0M229.1 2765.1h0M229.4 2753.3h0M229.8 2752.8h0M230.2 2756.8h0M230.5 2756h0M230.9 2744.7h0M231.3 2763.7h0M231.6 2746.2h0M232 2763h0M232.4 2742.3h0M232.7 2742h0M233.1 2752.7h0M233.4 2730h0M233.8 2762h0M234.2 2761.6h0M234.5 2752.9h0M234.9 2763.3h0M235.3 2765.2h0M235.6 2753.9h0M236 2752.4h0M236.4 2743.1h0M236.7 2765.9h0M237.1 2757h0M237.4 2763.3h0M237.8 2753.6h0M238.2 2759.1h0M238.5 2741h0M238.9 2750.1h0M239.3 2742.8h0M239.6 2743.3h0M240 2734.4h0M240.4 2756.1h0M240.7 2760.2h0M241.1 2765.1h0M241.4 2748.7h0M241.8 2748.7h0M242.2 2747h0M242.5 2759.4h0M242.9 2743.6h0M243.3 2757.8h0M243.6 2744.8h0M244 2752.1h0M244.4 2753.3h0M244.7 2765h0M245.1 2740.6h0M245.4 2749h0M245.8 2748.8h0M246.2 2757.2h0M246.5 2765h0M246.9 2765.7h0M247.3 2756.1h0M247.6 2749.9h0M248 2752.4h0M248.3 2739h0M248.7 2750.5h0M249.1 2763.4h0M249.4 2751.1h0M249.8 2743.9h0M250.2 2750.9h0M250.5 2757.4h0M250.9 2743.2h0M251.3 2758.6h0M251.6 2760.3h0M252 2755.7h0M252.3 2745.3h0M252.7 2742h0M253.1 2763.5h0M253.4 2761.2h0M253.8 2757.8h0M254.2 2755.7h0M254.5 2745.6h0M254.9 2756.8h0M255.3 2765.7h0M255.6 2765.6h0M256 2753.6h0M256.3 2741.2h0M256.7 2731.8h0M257.1 2762h0M257.4 2765.5h0M257.8 2757h0M258.2 2751.2h0M258.5 2741.7h0M258.9 2762.8h0M259.3 2736.6h0M259.6 2749.4h0M260 2761.3h0M260.3 2749.9h0M260.7 2752.4h0M261.1 2758.4h0M261.4 2743.4h0M261.8 2742.6h0M262.2 2764.2h0M262.5 2752.1h0M262.9 2758.8h0M263.3 2744.3h0M263.6 2742.2h0M264 2751.3h0M264.3 2749.2h0M264.7 2751.6h0M265.1 2762.6h0M265.4 2741h0M265.8 2754.6h0M266.2 2760.2h0M266.5 2745h0M266.9 2765h0M267.3 2754.2h0M267.6 2732.1h0M268 2765.3h0M268.3 2763.4h0M268.7 2747.2h0M269.1 2763.8h0M269.4 2749.2h0M269.8 2750.2h0M270.2 2755.8h0M270.5 2764.9h0M270.9 2754.9h0M271.3 2749h0M271.6 2755h0M272 2753.9h0M272.3 2758.7h0M272.7 2743.6h0M273.1 2745.2h0M273.4 2754.9h0M273.8 2762.8h0M274.2 2755.5h0M274.5 2765.8h0M274.9 2755.1h0M275.2 2746.8h0M275.6 2755.8h0M276 2765.3h0M276.3 2757.9h0M276.7 2742.9h0M277.1 2756.3h0M277.4 2757.3h0M277.8 2743.6h0M278.2 2760.2h0M278.5 2752.3h0M278.9 2764.2h0M279.2 2765.8h0M279.6 2762.3h0M280 2760.1h0M280.3 2752.2h0M280.7 2748.9h0M281.1 2755.3h0M281.4 2762.9h0M281.8 2757.3h0M282.2 2757.9h0M282.5 2763.6h0M282.9 2751.9h0M283.2 2754.8h0M283.6 2752.5h0M284 2762.1h0M284.3 2746.5h0M284.7 2760.3h0M285.1 2742.9h0M285.4 2740.4h0M285.8 2764.1h0M286.2 2749.1h0M286.5 2764.8h0M286.9 2757.7h0M287.2 2764.3h0M287.6 2740.3h0M288 2750.4h0M288.3 2741.4h0M288.7 2755.4h0M289.1 2755.5h0M289.4 2763.1h0M289.8 2735.6h0M290.2 2755.2h0M290.5 2763.9h0M290.9 2762.8h0M291.2 2740.7h0M291.6 2764.8h0M292 2741.9h0M292.3 2747.9h0M292.7 2756.5h0M293.1 2757.4h0M293.4 2765.9h0M293.8 2745.4h0M294.2 2756.8h0M294.5 2758.1h0M294.9 2763.5h0M295.2 2765.9h0M295.6 2746.7h0M296 2744.9h0M296.3 2758.1h0M296.7 2755.5h0M297.1 2746.7h0M297.4 2743.3h0M297.8 2747.5h0M298.1 2758.1h0M298.5 2744.3h0M298.9 2747.8h0M299.2 2758.1h0M299.6 2765.2h0M300 2738.2h0M300.3 2751.7h0M300.7 2762.2h0M301.1 2750.9h0M301.4 2751.1h0M301.8 2754.7h0M302.1 2740.3h0M302.5 2749.8h0M302.9 2734.7h0M303.2 2748.7h0M303.6 2740.4h0M304 2758.8h0M304.3 2761.7h0M304.7 2754.2h0M305.1 2741.4h0M305.4 2740.5h0M305.8 2746.5h0M306.1 2752.9h0M306.5 2765.5h0M306.9 2763.6h0M307.2 2763.5h0M307.6 2730.2h0M308 2757.7h0M308.3 2752.9h0M308.7 2761h0M309.1 2753.9h0M309.4 2749.4h0M309.8 2765.9h0M310.1 2765.6h0M310.5 2748.2h0M310.9 2743.7h0M311.2 2765.5h0M311.6 2742.2h0M312 2743.4h0M312.3 2756.2h0M312.7 2761.9h0M313.1 2742.4h0M313.4 2756.4h0M313.8 2746.3h0M314.1 2764.5h0M314.5 2756.8h0M314.9 2765.5h0M315.2 2764.3h0M315.6 2750.8h0M316 2761.5h0M316.3 2757.7h0M316.7 2754.7h0M317.1 2741.9h0M317.4 2762h0M317.8 2743.9h0M318.1 2752.1h0M318.5 2761.3h0M318.9 2753.8h0M319.2 2751.8h0M319.6 2763h0M320 2741h0M320.3 2742.2h0M320.7 2761.3h0M321.1 2752.1h0M321.4 2754.4h0M321.8 2764.9h0M322.1 2754.2h0M322.5 2758.9h0M322.9 2762.6h0M323.2 2748.5h0M323.6 2765.1h0M324 2746.5h0M324.3 2747.8h0M324.7 2757.6h0M325 2746.5h0M325.4 2751.2h0M325.8 2760h0M326.1 2748.5h0M326.5 2757.5h0M326.9 2764.8h0M327.2 2765.1h0M327.6 2753.8h0M328 2750.3h0M328.3 2747.6h0M328.7 2762.6h0M329 2765h0M329.4 2749.1h0M329.8 2761h0M330.1 2759.3h0M330.5 2759h0M330.9 2749.6h0M331.2 2743h0M331.6 2743.2h0M332 2746.7h0M332.3 2760.2h0M332.7 2742.5h0M333 2761.8h0M333.4 2759.1h0M333.8 2758.3h0M334.1 2762.9h0M334.5 2746.9h0M334.9 2745.7h0M335.2 2763.3h0M335.6 2744.2h0M336 2765.8h0M336.3 2754.4h0M336.7 2741.5h0M337 2746.7h0M337.4 2754.3h0M337.8 2765h0M338.1 2748.7h0M338.5 2765h0M338.9 2763.9h0M339.2 2751.4h0M339.6 2762.4h0M340 2755h0M340.3 2758.3h0M340.7 2741.4h0M341 2755.8h0M341.4 2749.2h0M341.8 2743.1h0M342.1 2746h0M342.5 2745.1h0M342.9 2745.7h0M343.2 2741.7h0M343.6 2754.9h0M344 2746.7h0M344.3 2757.7h0M344.7 2748.6h0M345 2758.8h0M345.4 2762.7h0M345.8 2760.8h0M346.1 2765.4h0M346.5 2764.5h0M346.9 2747.6h0M347.2 2765.3h0M347.6 2753.2h0M347.9 2765.7h0M348.3 2763.1h0M348.7 2762.1h0M349 2752.9h0M349.4 2763.1h0M349.8 2763.4h0M350.1 2760.4h0M350.5 2746.3h0M350.9 2761.5h0M351.2 2743.2h0M351.6 2754.3h0M351.9 2756h0M352.3 2765.5h0M352.7 2746.8h0M353 2754.8h0M353.4 2761.2h0M353.8 2751.1h0M354.1 2765.9h0M354.5 2758.9h0M354.9 2749.5h0M355.2 2763.7h0M355.6 2760.1h0M355.9 2744.6h0M356.3 2751.7h0M356.7 2761.4h0M357 2763.8h0M357.4 2766h0M357.8 2745.3h0M358.1 2765h0M358.5 2749.4h0M358.9 2756.1h0M359.2 2741.8h0M359.6 2745h0M359.9 2747.1h0M360.3 2743.1h0M360.7 2746h0M361 2754.4h0M361.4 2763.7h0M361.8 2760.4h0M362.1 2765.1h0M362.5 2756.5h0M362.9 2759.2h0M363.2 2764.6h0M363.6 2756.6h0M363.9 2745.9h0M364.3 2765.9h0M364.7 2749.6h0M365 2753.8h0M365.4 2765.9h0M365.8 2746.8h0M366.1 2752.3h0M366.5 2758.8h0M366.9 2760.7h0M367.2 2758.4h0M367.6 2761.6h0M367.9 2748.9h0M368.3 2742.2h0M368.7 2749.1h0M369 2746h0M369.4 2764h0M369.8 2750.5h0M370.1 2763.2h0M370.5 2745.6h0M370.8 2764.9h0M371.2 2763.7h0M371.6 2758h0M371.9 2743h0M372.3 2755.3h0M372.7 2747.8h0M373 2758.6h0M373.4 2737.6h0M373.8 2749.9h0M374.1 2747.1h0M374.5 2738.6h0M374.8 2759.6h0M375.2 2764.6h0M375.6 2755.3h0M375.9 2746h0M376.3 2763.7h0M376.7 2743.5h0M377 2759.4h0M377.4 2764h0M377.8 2740.8h0M378.1 2749.4h0M378.5 2762.9h0M378.8 2752h0M379.2 2765h0M379.6 2753.5h0M379.9 2759.9h0M380.3 2759.2h0M380.7 2764.3h0M381 2764.1h0M381.4 2754.4h0M381.8 2753.9h0M382.1 2743.3h0M382.5 2746.3h0M382.8 2764.3h0M383.2 2760.9h0M383.6 2762h0M383.9 2745.8h0M384.3 2754.3h0M384.7 2765.7h0M385 2740.8h0M385.4 2751.1h0M385.8 2750.7h0M386.1 2758.7h0M386.5 2740.3h0M386.8 2756.4h0M387.2 2758.5h0M387.6 2763.4h0M387.9 2761.5h0M388.3 2759.9h0M388.7 2765.6h0M389 2763.9h0M389.4 2752.8h0M389.8 2757.9h0M390.1 2750.2h0M390.5 2748.3h0M390.8 2740.5h0M391.2 2745.1h0M391.6 2757.3h0M391.9 2743.5h0M392.3 2754.9h0M392.7 2743.5h0M393 2765.4h0M393.4 2743.6h0M393.8 2752.9h0M394.1 2760.5h0M394.5 2765.2h0M394.8 2757h0M395.2 2733.6h0M395.6 2754.9h0M395.9 2760.5h0M396.3 2762.1h0M396.7 2743.3h0M397 2750.9h0M397.4 2757.7h0M397.7 2762.4h0M398.1 2753.7h0M398.5 2764.7h0M398.8 2764.3h0M399.2 2739.7h0M399.6 2760.7h0M399.9 2765.3h0M400.3 2746.3h0M400.7 2759.3h0M401 2730.9h0M401.4 2760.5h0M401.7 2742.5h0M402.1 2756.3h0M402.5 2760.7h0M402.8 2743.7h0M403.2 2745.6h0M403.6 2756.3h0M403.9 2744.3h0M404.3 2762.8h0M404.7 2763h0M405 2765.5h0M405.4 2749.1h0M405.7 2743.6h0M406.1 2749.5h0M406.5 2750h0M406.8 2757h0M407.2 2762.3h0M407.6 2749.5h0M407.9 2763.2h0M408.3 2750.9h0M408.7 2758.9h0M409 2744.1h0M409.4 2762.2h0M409.7 2742.8h0M410.1 2761.2h0M410.5 2764.9h0M410.8 2757.2h0M411.2 2734.9h0M411.6 2761h0M411.9 2746.7h0M412.3 2761h0M412.7 2761.9h0M413 2754.3h0M413.4 2743.7h0M413.7 2765.7h0M414.1 2748.3h0M414.5 2742.7h0M414.8 2763.2h0M415.2 2751.5h0M415.6 2751.1h0M415.9 2755.1h0M416.3 2745.4h0M416.7 2755h0M417 2763.4h0M417.4 2763.5h0M417.7 2762.1h0M418.1 2747.6h0M418.5 2747.1h0M418.8 2755.9h0M419.2 2753.4h0M419.6 2765.7h0M419.9 2749.4h0M420.3 2744.5h0M420.6 2736.3h0M421 2757.3h0M421.4 2761.5h0M421.7 2765.2h0M422.1 2753.7h0M422.5 2747.1h0M422.8 2763.9h0M423.2 2765.6h0M423.6 2752.2h0M423.9 2761.4h0M424.3 2764.9h0M424.6 2763.4h0M425 2763.6h0M425.4 2745.8h0M425.7 2765.3h0M426.1 2759.1h0M426.5 2736.4h0M426.8 2748h0M427.2 2763.9h0M427.6 2739.8h0M427.9 2743.9h0M428.3 2758.4h0M428.6 2757.6h0M429 2765.7h0M429.4 2747.9h0M429.7 2762.2h0M430.1 2754.2h0M430.5 2756.6h0M430.8 2759.1h0M431.2 2741h0M431.6 2765.6h0M431.9 2738.4h0M432.3 2750h0M432.6 2753.1h0M433 2756.6h0M433.4 2745.4h0M433.7 2747.4h0M434.1 2759.5h0M434.5 2754.2h0M434.8 2762.8h0M435.2 2756.4h0M435.6 2757h0M435.9 2750.5h0M436.3 2762.7h0M436.6 2765.2h0M437 2759.1h0M437.4 2765.9h0M437.7 2761.5h0M438.1 2742.9h0M438.5 2761.4h0M438.8 2763.8h0M439.2 2759.2h0M439.6 2749.2h0M439.9 2765.8h0M440.3 2758.6h0M440.6 2744.2h0M441 2747.7h0M441.4 2765.4h0M441.7 2741h0M442.1 2738.8h0M442.5 2757.6h0M442.8 2764.1h0M443.2 2761.5h0M443.5 2750.9h0M443.9 2762.7h0M444.3 2749.5h0M444.6 2758.5h0M445 2762.3h0M445.4 2759.6h0M445.7 2734.5h0M446.1 2753.8h0M446.5 2741.2h0M446.8 2750.7h0M447.2 2762.5h0M447.5 2750.9h0M447.9 2744.6h0M448.3 2751.9h0M448.6 2757.5h0M449 2765.3h0M449.4 2760h0M449.7 2761.1h0M450.1 2758.1h0M450.5 2763.5h0M450.8 2762h0M451.2 2759.6h0M451.5 2763.8h0M451.9 2749.8h0M452.3 2737.7h0M452.6 2759.1h0M453 2736.3h0M453.4 2753.2h0M453.7 2760h0M454.1 2765.8h0M454.5 2743.9h0M454.8 2761.5h0M455.2 2763.1h0M455.5 2752.4h0M455.9 2759.1h0M456.3 2742.2h0M456.6 2752h0M457 2757.9h0M457.4 2761.2h0M457.7 2744.3h0M458.1 2741.2h0M458.5 2755.4h0M458.8 2759.2h0M459.2 2763.8h0M459.5 2762.2h0M459.9 2735.7h0M460.3 2758.4h0M460.6 2755.8h0M461 2754.3h0M461.4 2753.9h0M461.7 2741.4h0M462.1 2759.5h0M462.5 2760.3h0M462.8 2750h0M463.2 2741.5h0M463.5 2763.6h0M463.9 2755.8h0M464.3 2759h0M464.6 2748.4h0M465 2762.1h0M465.4 2760h0M465.7 2755.2h0M466.1 2765.3h0M466.4 2764.7h0M466.8 2764.5h0M467.2 2747.7h0M467.5 2763.6h0M467.9 2739.6h0M468.3 2755.4h0M468.6 2758.4h0M469 2761.7h0M469.4 2760h0M469.7 2748.1h0M470.1 2745.9h0M470.4 2757.7h0M470.8 2752.1h0M471.2 2746.8h0M471.5 2758.8h0M471.9 2762.2h0M472.3 2765.9h0M472.6 2742.3h0M473 2764.1h0M473.4 2757.7h0M473.7 2758.3h0M474.1 2733.4h0M474.4 2739.2h0M474.8 2748.9h0M475.2 2764.4h0M475.5 2765.8h0M475.9 2756h0M476.3 2760.4h0M476.6 2745.6h0M477 2758.4h0M477.4 2747.9h0M477.7 2758.5h0M478.1 2754.3h0M478.4 2763.9h0M478.8 2764.6h0M479.2 2761.7h0M479.5 2764.4h0M479.9 2765.9h0M480.3 2763.9h0M480.6 2761.2h0M481 2756.1h0M481.4 2742.2h0M481.7 2743.9h0M482.1 2765.1h0M482.4 2756h0M482.8 2762.8h0M483.2 2756h0M483.5 2746.6h0M483.9 2765.4h0M484.3 2751.1h0M484.6 2761.2h0M485 2744.8h0M485.4 2757.1h0M485.7 2749.1h0M486.1 2765.8h0M486.4 2764.4h0M486.8 2759.2h0M487.2 2760.4h0M487.5 2765.9h0M487.9 2735.9h0M488.3 2746.5h0M488.6 2748.8h0M489 2746.7h0M489.4 2747.8h0M489.7 2764.7h0M490.1 2758.1h0M490.4 2761.8h0M490.8 2765.8h0M491.2 2762.3h0M491.5 2759h0M491.9 2746.5h0M492.3 2751.7h0M492.6 2761.1h0M493 2760.1h0M493.3 2759.8h0M493.7 2762.6h0M494.1 2754.3h0M494.4 2763.3h0M494.8 2764h0M495.2 2736.2h0M495.5 2758.1h0M495.9 2754.6h0M496.3 2762.7h0M496.6 2760.1h0M497 2764.6h0M497.3 2757.4h0M497.7 2762.4h0M498.1 2749.7h0M498.4 2761.2h0M498.8 2742.1h0M499.2 2763.2h0M499.5 2740.7h0M499.9 2751.8h0M500.3 2751.5h0M500.6 2752.3h0M501 2745h0M501.3 2755.4h0M501.7 2764.5h0M502.1 2750.2h0M502.4 2750.9h0M502.8 2758.6h0M503.2 2752.8h0M503.5 2734.5h0M503.9 2757h0M504.3 2752.9h0M504.6 2763.8h0M505 2740.6h0M505.3 2760.3h0M505.7 2740.7h0M506.1 2744.7h0M506.4 2740.7h0M506.8 2762.1h0M507.2 2751.4h0M507.5 2745.9h0M507.9 2755.3h0M508.3 2765.3h0M508.6 2749.5h0M509 2746.6h0M509.3 2754.6h0M509.7 2762.9h0M510.1 2751.5h0M510.4 2754.1h0M510.8 2755.8h0M511.2 2746.8h0M511.5 2747.7h0M511.9 2743.4h0M512.3 2763.8h0M512.6 2738.4h0M513 2744.8h0M513.3 2764.4h0M513.7 2758.5h0M514.1 2752.3h0M514.4 2765.2h0M514.8 2762.7h0M515.2 2744.4h0M515.5 2762.9h0M515.9 2738.4h0M516.2 2760.3h0M516.6 2761.1h0M517 2750h0M517.3 2764.2h0M517.7 2756.5h0M518.1 2764.4h0M518.4 2752.5h0M518.8 2762.9h0M519.2 2750.1h0M519.5 2759.2h0M519.9 2758h0M520.2 2751.9h0M520.6 2746.2h0M521 2756.7h0M521.3 2742.3h0M521.7 2749.8h0M522.1 2753.4h0M522.4 2744.5h0M522.8 2745.1h0M523.2 2756.8h0M523.5 2758.5h0M523.9 2752.8h0M524.2 2765.3h0M524.6 2761.1h0M525 2741.8h0M525.3 2750h0M525.7 2761.9h0M526.1 2764.2h0M526.4 2761.7h0M526.8 2759.7h0M527.2 2745.2h0M527.5 2754.3h0M527.9 2743.7h0M528.2 2759.1h0M528.6 2749.2h0M529 2759.6h0M529.3 2734.5h0M529.7 2756.4h0M530.1 2756.5h0M530.4 2750.7h0M530.8 2741.3h0M531.2 2740.6h0M531.5 2745.9h0M531.9 2749.8h0M532.2 2765.2h0M532.6 2758.2h0M533 2762.5h0M533.3 2762.6h0M533.7 2764h0M534.1 2748.6h0M534.4 2763.5h0M534.8 2752.1h0M535.2 2761.7h0M535.5 2748.9h0M535.9 2764.4h0M536.2 2765.9h0M536.6 2742.2h0M537 2765.8h0M537.3 2754.6h0M537.7 2764.5h0M538.1 2760.6h0M538.4 2764.3h0M538.8 2764.2h0M539.1 2755.2h0M539.5 2747.5h0M539.9 2740.1h0M540.2 2756.9h0M540.6 2756.7h0M541 2764.6h0M541.3 2763.7h0M541.7 2754.9h0M542.1 2752.4h0M542.4 2741.5h0M542.8 2765.9h0M543.1 2746.2h0M543.5 2749.5h0M543.9 2741.6h0M544.2 2760.6h0M544.6 2751.5h0M545 2765.5h0M545.3 2765.1h0M545.7 2764.5h0M546.1 2760h0M546.4 2751.2h0M546.8 2742.1h0M547.1 2755.6h0M547.5 2758.3h0M547.9 2748.7h0M548.2 2759h0M548.6 2756.2h0M549 2757.4h0M549.3 2765.5h0M549.7 2765.3h0M550.1 2754.3h0M550.4 2762.4h0M550.8 2758.9h0M551.1 2756h0M551.5 2748.4h0M551.9 2765.9h0M552.2 2735h0M552.6 2741.6h0M553 2752.8h0M553.3 2760.6h0M553.7 2753.1h0M554.1 2755.6h0M554.4 2741.8h0M554.8 2761.7h0M555.1 2746.9h0M555.5 2744.9h0M555.9 2761h0M556.2 2765h0M556.6 2745.8h0M557 2760.2h0M557.3 2747.2h0M557.7 2765.4h0M558.1 2765.5h0M558.4 2754.1h0M558.8 2730.4h0M559.1 2748.3h0M559.5 2766h0M559.9 2757.7h0M560.2 2740.9h0M560.6 2765.1h0M561 2757.2h0M561.3 2758.8h0M561.7 2757.3h0M562.1 2760.2h0M562.4 2765.2h0M562.8 2745.7h0M563.1 2754.3h0M563.5 2764.4h0M563.9 2741.9h0M564.2 2742.9h0M564.6 2757.8h0M565 2745.6h0M565.3 2744.5h0M565.7 2765.7h0M566 2758.8h0M566.4 2742.7h0M566.8 2750.2h0M567.1 2747.5h0M567.5 2748.6h0M567.9 2753.2h0M568.2 2759.5h0M568.6 2759.5h0M569 2755h0M569.3 2753.5h0M569.7 2759.2h0M570 2756.1h0M570.4 2760h0M570.8 2762.1h0M571.1 2748.9h0M571.5 2761.6h0M571.9 2746h0M572.2 2749.4h0M572.6 2752.3h0M573 2741.1h0M573.3 2756.8h0M573.7 2762.2h0M574 2764.7h0M574.4 2733.6h0M574.8 2753.7h0M575.1 2759.9h0M575.5 2742h0M575.9 2746.6h0M576.2 2747.3h0M576.6 2762.9h0M577 2752.5h0M577.3 2747.9h0M577.7 2743.6h0M578 2750.2h0M578.4 2742h0M578.8 2760.8h0M579.1 2749.1h0M579.5 2735.8h0M579.9 2761.7h0M580.2 2761.7h0M580.6 2756h0M581 2761h0M581.3 2755.3h0M581.7 2763.6h0M582 2745.1h0M582.4 2754.4h0M582.8 2754.6h0M583.1 2743h0M583.5 2730.3h0M583.9 2759.1h0M584.2 2762.1h0M584.6 2758.9h0M585 2742.2h0M585.3 2753.8h0M585.7 2762.2h0M586 2764.5h0M586.4 2751.1h0M586.8 2743.6h0M587.1 2753.8h0M587.5 2740.7h0M587.9 2744.5h0M588.2 2750.9h0M588.6 2765.7h0M588.9 2740.9h0M589.3 2745.1h0M589.7 2755h0M590 2754.8h0M590.4 2754.9h0M590.8 2755.6h0M591.1 2749.7h0M591.5 2756h0M591.9 2755.9h0M592.2 2741.3h0M592.6 2764.1h0M592.9 2759.8h0M593.3 2742.4h0M593.7 2742h0M594 2745h0M594.4 2765.8h0M594.8 2753.1h0M595.1 2752.4h0M595.5 2742.5h0M595.9 2755.1h0M596.2 2765.7h0M596.6 2744.6h0M596.9 2731.8h0M597.3 2750.2h0M597.7 2753.4h0M598 2742.1h0M598.4 2747h0M598.8 2745.8h0M599.1 2759.8h0M599.5 2765.9h0M599.9 2761.5h0M600.2 2754.9h0M600.6 2750.6h0M600.9 2762.1h0M601.3 2763.3h0M601.7 2761.7h0M602 2747.3h0M602.4 2762h0M602.8 2761.5h0M603.1 2761.7h0M603.5 2763.1h0M603.9 2760.6h0M604.2 2749.1h0M604.6 2747.1h0M604.9 2765.1h0M605.3 2761.9h0M605.7 2757.8h0M606 2758.9h0M606.4 2743.3h0M606.8 2758.5h0M607.1 2747.1h0M607.5 2759.7h0M607.9 2758.7h0M608.2 2753h0M608.6 2756.2h0M608.9 2765.9h0M609.3 2758.7h0M609.7 2743.2h0M610 2762.7h0M610.4 2741.7h0M610.8 2759.6h0M611.1 2764h0M611.5 2742.1h0M611.8 2764.1h0M612.2 2744.2h0M612.6 2742h0M612.9 2758.9h0M613.3 2761.3h0M613.7 2765.2h0M614 2738.9h0M614.4 2763.2h0M614.8 2754.8h0M615.1 2753.7h0M615.5 2754.9h0M615.8 2765h0M616.2 2765.1h0M616.6 2748h0M616.9 2755.5h0M617.3 2759.9h0M617.7 2760.8h0M618 2741.3h0M618.4 2752.7h0M618.8 2756.5h0M619.1 2742.2h0M619.5 2765.8h0M619.8 2740.8h0M620.2 2763.4h0M620.6 2740.1h0M620.9 2746.8h0M621.3 2751.3h0M621.7 2738.9h0M622 2765.6h0M622.4 2752.3h0M622.8 2756.3h0M623.1 2760.2h0M623.5 2744.1h0M623.8 2757.8h0M624.2 2756.6h0M624.6 2743.2h0M624.9 2742.5h0M625.3 2744.2h0M625.7 2755.3h0M626 2760.9h0M626.4 2749.2h0M626.8 2753.3h0M627.1 2742.1h0M627.5 2764.8h0M627.8 2759.5h0M628.2 2755.7h0M628.6 2755.2h0M628.9 2766h0M629.3 2761.3h0M629.7 2751.9h0M630 2764.9h0M630.4 2756.1h0M630.8 2741.3h0M631.1 2757.1h0M631.5 2746.8h0M631.8 2745.9h0M632.2 2761.7h0M632.6 2755.5h0M632.9 2754.1h0M633.3 2755.9h0M633.7 2760.9h0M634 2755.5h0M634.4 2762.9h0M634.8 2745.7h0M635.1 2741.1h0M635.5 2750.3h0M635.8 2749.5h0M636.2 2746.8h0M636.6 2746.3h0M636.9 2761.9h0M637.3 2765.8h0M637.7 2759.6h0M638 2752.5h0M638.4 2742.6h0M638.7 2765.3h0M639.1 2764.6h0M639.5 2744.5h0M639.8 2763.1h0M640.2 2748.1h0M640.6 2752.1h0M640.9 2731.3h0M641.3 2747.8h0M641.7 2744.5h0M642 2742.2h0M642.4 2755.8h0M642.7 2740.9h0M643.1 2746.9h0M643.5 2751.2h0M643.8 2750h0M644.2 2760.3h0M644.6 2763.1h0M644.9 2750.3h0M645.3 2759.9h0M645.7 2743.3h0M646 2741.9h0M646.4 2741.6h0M646.7 2759.9h0M647.1 2755h0M647.5 2765.7h0M647.8 2754.6h0M648.2 2748.5h0M648.6 2762.9h0M648.9 2762h0M649.3 2738.2h0M649.7 2754.8h0M650 2751.6h0M650.4 2758h0M650.7 2756.3h0M651.1 2764.3h0M651.5 2750.3h0M651.8 2754.1h0M652.2 2742.4h0M652.6 2761.7h0M652.9 2740.4h0M653.3 2763.1h0M653.7 2765.4h0M654 2754.2h0M654.4 2749.3h0M654.7 2760.2h0M655.1 2751.4h0M655.5 2756.7h0M655.8 2764.6h0M656.2 2741.8h0M656.6 2765.4h0M656.9 2761.3h0M657.3 2757.2h0M657.7 2757.5h0M658 2748.5h0M658.4 2751.4h0M658.7 2733.4h0M659.1 2736.6h0M659.5 2765.9h0M659.8 2758.4h0M660.2 2764.6h0M660.6 2745.2h0M660.9 2753.1h0M661.3 2740.9h0M661.6 2760.5h0M662 2744.7h0M662.4 2757.9h0M662.7 2744h0M663.1 2747.1h0M663.5 2757h0M663.8 2757.3h0M664.2 2760.3h0M664.6 2757.9h0M664.9 2747.6h0M665.3 2756.3h0M665.6 2756.8h0M666 2743.7h0M666.4 2747.2h0M666.7 2750.7h0M667.1 2760.7h0M667.5 2742h0M667.8 2750.8h0M668.2 2751.2h0M668.6 2747.7h0M668.9 2741h0M669.3 2737.4h0M669.6 2747.8h0M670 2752.4h0M670.4 2758.2h0M670.7 2762.9h0M671.1 2765.3h0M671.5 2746.1h0M671.8 2758.4h0M672.2 2749.5h0M672.6 2748.5h0M672.9 2761.7h0M673.3 2753.9h0M673.6 2740.8h0M674 2747.4h0M674.4 2749.1h0M674.7 2761.2h0M675.1 2754.8h0M675.5 2763.5h0M675.8 2743.8h0M676.2 2760.9h0M676.6 2757.7h0M676.9 2752.6h0M677.3 2754.8h0M677.6 2753.7h0M678 2759.4h0M678.4 2765.1h0M678.7 2750.1h0M679.1 2745.9h0M679.5 2761.2h0M679.8 2738h0M680.2 2751.1h0M680.6 2760.4h0M680.9 2742.5h0M681.3 2763.3h0M681.6 2764.9h0M682 2748.7h0M682.4 2755.9h0M682.7 2765.8h0M683.1 2744.9h0M683.5 2749.8h0M683.8 2759.8h0M684.2 2762.5h0M684.5 2760.3h0M684.9 2746.4h0M685.3 2752.5h0M685.6 2762.3h0M686 2752.2h0M686.4 2741.5h0M686.7 2757.2h0M687.1 2745.9h0M687.5 2750.5h0M687.8 2759.3h0M688.2 2762.5h0M688.5 2744.5h0M688.9 2759.1h0M689.3 2733.6h0M689.6 2765.3h0M690 2754.4h0M690.4 2738.3h0M690.7 2740.9h0M691.1 2744.8h0M691.5 2733.6h0M691.8 2763.3h0M692.2 2750.8h0M692.5 2760.1h0M692.9 2760.9h0M693.3 2759.3h0M693.6 2761.8h0M694 2738.8h0M694.4 2753h0M694.7 2764.5h0M695.1 2756.4h0M695.5 2760.4h0M695.8 2748.2h0M696.2 2751.1h0M696.5 2755.6h0M696.9 2758.5h0M697.3 2756.4h0M697.6 2754.7h0M698 2743.9h0M698.4 2765.8h0M698.7 2765.7h0M699.1 2752.2h0M699.5 2763h0M699.8 2745.7h0M700.2 2750.1h0M700.5 2756.8h0M700.9 2754.1h0M701.3 2740.6h0M701.6 2745.7h0M702 2761.8h0M702.4 2754.4h0M702.7 2760.4h0M703.1 2755.1h0M703.5 2765.1h0M703.8 2765.9h0M704.2 2758.5h0M704.5 2764.5h0M704.9 2742.3h0M705.3 2748h0M705.6 2753.3h0M706 2756.5h0M706.4 2750.6h0M706.7 2757h0M707.1 2759.8h0M707.5 2740.1h0M707.8 2751.1h0M708.2 2765.2h0M708.5 2759.8h0M708.9 2754h0M709.3 2751.7h0M709.6 2746.4h0M710 2742.6h0M710.4 2746.9h0M710.7 2740.8h0M711.1 2756.3h0M711.4 2760.1h0M711.8 2745.9h0M712.2 2751.8h0M712.5 2735.4h0M712.9 2758.6h0M713.3 2761.7h0M713.6 2763.1h0M714 2741.4h0M714.4 2761.1h0M714.7 2750.6h0M715.1 2763.1h0M715.4 2760.9h0M715.8 2749.8h0M716.2 2750.8h0M716.5 2758.6h0M716.9 2736.4h0M717.3 2758.6h0M717.6 2729.7h0M718 2758.9h0M718.4 2763.9h0M718.7 2743.1h0M719.1 2755.6h0M719.4 2747.9h0M719.8 2762h0M720.2 2749.1h0M720.5 2740.5h0M720.9 2756.4h0M721.3 2752.2h0M721.6 2748h0M722 2765.5h0M722.4 2763.9h0M722.7 2731.1h0M723.1 2758.7h0M723.4 2765.5h0M723.8 2752.7h0M724.2 2765.6h0M724.5 2760.9h0M724.9 2764.5h0M725.3 2751.6h0M725.6 2763.5h0M726 2758.8h0M726.4 2753.7h0M726.7 2758.5h0M727.1 2765.6h0M727.4 2763h0M727.8 2765.9h0M728.2 2753.1h0M728.5 2754.4h0M728.9 2764.2h0M729.3 2749.6h0M729.6 2749.7h0M730 2765.6h0M730.4 2760.8h0M730.7 2747.3h0M731.1 2742.8h0M731.4 2758.4h0M731.8 2747.9h0M732.2 2741h0M732.5 2744.7h0M732.9 2752.6h0M733.3 2743.7h0M733.6 2743.9h0M734 2745.6h0M734.3 2741.7h0M734.7 2758.1h0M735.1 2764.2h0M735.4 2765.3h0M735.8 2761.1h0M736.2 2752.6h0M736.5 2757h0M736.9 2740.8h0M737.3 2759.1h0M737.6 2763h0M738 2762.9h0M738.3 2743h0M738.7 2766h0M739.1 2761.2h0M739.4 2751.7h0M739.8 2749.4h0M740.2 2756.1h0M740.5 2745h0M740.9 2757.7h0M741.3 2758.3h0M741.6 2748.6h0M742 2750.3h0M742.3 2747.3h0M742.7 2762.8h0M743.1 2737.4h0M743.4 2763.2h0M743.8 2753.6h0M744.2 2741.7h0M744.5 2765.7h0M744.9 2746h0M745.3 2754.3h0M745.6 2758.9h0M746 2739.9h0M746.3 2765.7h0M746.7 2765.3h0M747.1 2764.2h0M747.4 2746h0M747.8 2764.4h0M748.2 2749h0M748.5 2754.1h0M748.9 2744.8h0M749.3 2741.2h0M749.6 2747.6h0M750 2736.6h0M750.3 2761.5h0M750.7 2755.3h0M751.1 2765.4h0M751.4 2752.6h0M751.8 2740.7h0M752.2 2760.9h0M752.5 2755.4h0M752.9 2758.3h0M753.3 2756h0M753.6 2756.1h0M754 2737.6h0M754.3 2765h0M754.7 2763.8h0M755.1 2757.6h0M755.4 2747.9h0M755.8 2760.8h0M756.2 2744h0M756.5 2765.9h0M756.9 2756h0M757.2 2764.1h0M757.6 2748.4h0M758 2750.6h0M758.3 2757h0M758.7 2765.5h0M759.1 2759.8h0M759.4 2747.4h0M759.8 2765.6h0M760.2 2756.4h0M760.5 2747.1h0M760.9 2765.5h0M761.2 2756.4h0M761.6 2743.1h0M762 2751.5h0M762.3 2742.9h0M762.7 2752.3h0M763.1 2749.1h0M763.4 2736.2h0M763.8 2764h0M764.2 2742h0M764.5 2761.8h0M764.9 2760.2h0M765.2 2748.5h0M765.6 2759.8h0M766 2750h0M766.3 2756.6h0M766.7 2764.8h0M767.1 2746h0M767.4 2751.5h0M767.8 2759h0M768.2 2741.2h0M768.5 2764.2h0M768.9 2752.9h0M769.2 2747.7h0M769.6 2744.4h0M770 2758h0M770.3 2758.8h0M770.7 2759.1h0M771.1 2759.4h0M771.4 2745.3h0M771.8 2750.6h0M772.2 2758.6h0M772.5 2761.7h0M772.9 2764.7h0M773.2 2742.9h0M773.6 2758.7h0M774 2764h0M774.3 2743.9h0M774.7 2761.7h0M775.1 2762.3h0M775.4 2759.4h0M775.8 2762.8h0M776.2 2757.6h0M776.5 2734.4h0M776.9 2746.7h0M777.2 2763h0M777.6 2765.1h0M778 2736.9h0M778.3 2752.8h0M778.7 2765.7h0M779.1 2759.4h0M779.4 2759.2h0M779.8 2744.7h0M780.2 2764.3h0M780.5 2764.9h0M780.9 2764.8h0M781.2 2757.9h0M781.6 2740.6h0M782 2743.7h0M782.3 2748.1h0M782.7 2756.3h0M783.1 2750.8h0M783.4 2754.8h0M783.8 2755.2h0M784.1 2750.2h0M784.5 2747.2h0M784.9 2764.8h0M785.2 2765.5h0M785.6 2741.7h0M786 2757.2h0M786.3 2753.8h0M786.7 2747.5h0M787.1 2745.4h0M787.4 2766h0M787.8 2764.8h0M788.1 2765.2h0M788.5 2747.8h0M788.9 2750.8h0M789.2 2755h0M789.6 2756.6h0M790 2750.6h0M790.3 2764.1h0M790.7 2754.7h0M791.1 2766h0M791.4 2745.7h0M791.8 2763.7h0M792.1 2741.1h0M792.5 2748.2h0M792.9 2742.4h0M793.2 2764.4h0M793.6 2762.2h0M794 2743.3h0M794.3 2764.2h0M794.7 2762h0M795.1 2749.3h0M795.4 2757.3h0M795.8 2756.4h0M796.1 2756.8h0M796.5 2749.5h0M796.9 2753.7h0M797.2 2765.5h0M797.6 2742h0M798 2757.5h0M798.3 2738.8h0M798.7 2759h0M799.1 2764.1h0M799.4 2745.6h0M799.8 2763.3h0M800.1 2765.9h0M800.5 2762.2h0M800.9 2747.1h0M801.2 2763.1h0M801.6 2747.8h0M802 2760.6h0M802.3 2759.3h0M802.7 2747h0M803.1 2746.5h0M803.4 2752.8h0M803.8 2742.4h0M804.1 2740.6h0M804.5 2746.7h0M804.9 2760.6h0M805.2 2745.6h0M805.6 2762.8h0M806 2744.7h0M806.3 2765.5h0M806.7 2760.8h0M807 2742.2h0M807.4 2746.2h0M807.8 2761.9h0M808.1 2759.7h0M808.5 2737.5h0M808.9 2754.3h0M809.2 2753.8h0M809.6 2765.9h0M810 2759.8h0M810.3 2758.8h0M810.7 2765.5h0M811 2760.7h0M811.4 2765.7h0M811.8 2765.8h0M812.1 2759.2h0M812.5 2741.7h0M812.9 2747.3h0M813.2 2755.8h0M813.6 2748.3h0M814 2747h0M814.3 2743.8h0M814.7 2750.6h0M815 2754.7h0M815.4 2754.9h0M815.8 2732.8h0M816.1 2752.3h0M816.5 2736.6h0M816.9 2758.8h0M817.2 2763.5h0M817.6 2763.9h0M818 2755.9h0M818.3 2760.5h0M818.7 2766h0M819 2748.9h0M819.4 2747.5h0M819.8 2765h0M820.1 2748.9h0M820.5 2742.5h0M820.9 2765.7h0M821.2 2759.7h0M821.6 2744.1h0M822 2764.3h0M822.3 2761.2h0M822.7 2764.5h0M823 2757.9h0M823.4 2757.3h0M823.8 2742.3h0M824.1 2743.4h0M824.5 2762.2h0M824.9 2756.7h0M825.2 2752.6h0M825.6 2740.6h0M826 2765.8h0M826.3 2762.6h0M826.7 2739.8h0M827 2761.9h0M827.4 2743.7h0M827.8 2764.7h0M828.1 2741.3h0M828.5 2756.3h0M828.9 2747.8h0M829.2 2761.3h0M829.6 2751h0M829.9 2751.7h0M830.3 2741.3h0M830.7 2762.3h0M831 2742h0M831.4 2745.5h0M831.8 2746.1h0M832.1 2765.1h0M832.5 2745.7h0M832.9 2765.6h0M833.2 2748.9h0M833.6 2743.8h0M833.9 2757h0M834.3 2750.9h0M834.7 2759h0M835 2765.2h0M835.4 2749.2h0M835.8 2756.6h0M836.1 2756.9h0M836.5 2754.3h0M836.9 2766h0M837.2 2761.9h0M837.6 2762.4h0M837.9 2750h0M838.3 2731.3h0M838.7 2752.5h0M839 2752.4h0M839.4 2759.7h0M839.8 2733.8h0M840.1 2743.3h0M840.5 2752.6h0M840.9 2741.7h0M841.2 2740.7h0M841.6 2765.9h0M841.9 2751.7h0M842.3 2752.4h0M842.7 2766h0M843 2752.1h0M843.4 2753h0M843.8 2747.7h0M844.1 2756.6h0M844.5 2738.6h0M844.9 2759.4h0M845.2 2758.3h0M845.6 2750.1h0M845.9 2760.5h0M846.3 2764.3h0M846.7 2757.6h0M847 2759.7h0M847.4 2762.9h0M847.8 2739h0M848.1 2743.8h0M848.5 2755.9h0M848.9 2761.4h0M849.2 2765.3h0M849.6 2761h0M849.9 2747.7h0M850.3 2752.9h0M850.7 2741.3h0M851 2748.4h0M851.4 2740.7h0M851.8 2763.7h0M852.1 2752.1h0M852.5 2764.1h0M852.9 2755.3h0M853.2 2741h0M853.6 2765.2h0M853.9 2761.6h0M854.3 2760.6h0M854.7 2760.2h0M855 2743.5h0M855.4 2744h0M855.8 2761.7h0M856.1 2764.9h0M856.5 2765.1h0M856.8 2742h0M857.2 2749.3h0M857.6 2766h0M857.9 2765.3h0M858.3 2746.2h0M858.7 2733.6h0M859 2765.6h0M859.4 2742.8h0M859.8 2764.4h0M860.1 2749.8h0M860.5 2747.7h0M860.8 2757.9h0M861.2 2761.2h0M861.6 2744h0M861.9 2747.7h0M862.3 2730h0M862.7 2748.3h0M863 2753.1h0M863.4 2734.7h0M863.8 2752.2h0M864.1 2760.7h0M864.5 2762.4h0M864.8 2765.7h0M865.2 2757.7h0M865.6 2742h0M865.9 2746h0M866.3 2734.8h0M866.7 2733.5h0M867 2762.2h0M867.4 2745.8h0M867.8 2761.9h0M868.1 2741.4h0M868.5 2742.9h0M868.8 2765.5h0M869.2 2743.3h0M869.6 2731.1h0M869.9 2759.4h0M870.3 2759.3h0M870.7 2757.3h0M871 2751.1h0M871.4 2737.1h0M871.8 2746.6h0M872.1 2746.1h0M872.5 2758.4h0M872.8 2766h0M873.2 2754.6h0M873.6 2742.1h0M873.9 2762.3h0M874.3 2756.1h0M874.7 2754.1h0M875 2750h0M875.4 2765.5h0M875.8 2742.5h0M876.1 2744.2h0M876.5 2740.9h0M876.8 2749.1h0M877.2 2741.3h0M877.6 2765h0M877.9 2752.6h0M878.3 2764.5h0M878.7 2764.1h0M879 2753h0M879.4 2746.8h0M879.7 2764.1h0M880.1 2763.9h0M880.5 2765.8h0M880.8 2750.4h0M881.2 2755.9h0M881.6 2745.7h0M881.9 2746.6h0M882.3 2732.7h0M882.7 2756.3h0M883 2760.9h0M883.4 2744.7h0M883.7 2748.1h0M884.1 2742.9h0M884.5 2752.3h0M884.8 2750.6h0M885.2 2755.4h0M885.6 2753.7h0M885.9 2756.6h0M886.3 2757.8h0M886.7 2748.7h0M887 2756.7h0M887.4 2765.4h0M887.7 2753.7h0M888.1 2763.9h0M888.5 2765.3h0M888.8 2765.1h0M889.2 2764.1h0M889.6 2752.5h0M889.9 2754.1h0M890.3 2761.2h0M890.7 2753.2h0M891 2740.3h0M891.4 2757.4h0M891.7 2742.2h0M892.1 2735.5h0M892.5 2758h0M892.8 2762.7h0M893.2 2732.1h0M893.6 2744.6h0M893.9 2765.9h0M894.3 2761.8h0M894.7 2743.2h0M895 2761.1h0M895.4 2760.9h0M895.7 2761.6h0M896.1 2750.5h0M896.5 2759.6h0M896.8 2753.3h0M897.2 2751.4h0M897.6 2734.8h0M897.9 2761.9h0M898.3 2747.5h0M898.7 2748.2h0M899 2759.1h0M899.4 2745.9h0M899.7 2741h0M900.1 2742.5h0M900.5 2753.3h0M900.8 2758.7h0M901.2 2761.8h0M901.6 2744.8h0M901.9 2738.1h0M902.3 2757.3h0M902.6 2754.3h0M903 2752.6h0M903.4 2750.5h0M903.7 2754.1h0M904.1 2764.3h0M904.5 2744.1h0M904.8 2760.8h0M905.2 2755.1h0M905.6 2763.3h0M905.9 2765h0M906.3 2761.1h0M906.6 2763h0M907 2754.9h0M907.4 2751.6h0M907.7 2752.1h0M908.1 2752.4h0M908.5 2756.5h0M908.8 2762.5h0M909.2 2753.2h0M909.6 2752.3h0M909.9 2747.8h0M910.3 2758.9h0M910.6 2748.8h0M911 2763.1h0M911.4 2740.9h0M911.7 2740.5h0M912.1 2758.6h0M912.5 2765.9h0M912.8 2749.3h0M913.2 2747.3h0M913.6 2748.6h0M913.9 2751.8h0M914.3 2750.8h0M914.6 2764.9h0M915 2749.8h0M915.4 2741.3h0M915.7 2763.5h0M916.1 2759.2h0M916.5 2744h0M916.8 2749.5h0M917.2 2755.1h0M917.6 2764.9h0M917.9 2766h0M918.3 2743.4h0M918.6 2751.7h0M919 2763.6h0M919.4 2757.1h0M919.7 2764.5h0M920.1 2756.3h0M920.5 2747h0M920.8 2760.1h0M921.2 2752.8h0M921.6 2754.3h0M921.9 2765.5h0M922.3 2755.9h0M922.6 2763.6h0M923 2757.2h0M923.4 2752.8h0M923.7 2752.2h0M924.1 2746.9h0M924.5 2762h0M924.8 2754.3h0M925.2 2761.7h0M925.6 2757.3h0M925.9 2761.6h0M926.3 2761.4h0M926.6 2757.2h0M927 2753.4h0M927.4 2754.3h0M927.7 2742h0M928.1 2764.8h0M928.5 2731.9h0M928.8 2740.7h0M929.2 2755.7h0M929.5 2765.8h0M929.9 2738.8h0M930.3 2755.8h0M930.6 2751.4h0M931 2753.1h0M931.4 2750.7h0M931.7 2758.9h0M932.1 2764.5h0M932.5 2756h0M932.8 2755.8h0M933.2 2761.2h0M933.5 2764.9h0M933.9 2763.1h0M934.3 2750.2h0M934.6 2750.2h0M935 2748.3h0M935.4 2759.8h0M935.7 2756.8h0M936.1 2763.3h0M936.5 2751.5h0M936.8 2765.7h0M937.2 2754.4h0M937.5 2761.5h0M937.9 2757h0M938.3 2750.5h0M938.6 2752.2h0M939 2754.5h0M939.4 2745.6h0M939.7 2761.8h0M940.1 2764.7h0M940.5 2755.4h0M940.8 2753.9h0M941.2 2742.2h0M941.5 2746.3h0M941.9 2756.8h0M942.3 2755.8h0M942.6 2764.3h0M943 2742.9h0M943.4 2760.2h0M943.7 2759.3h0M944.1 2736.5h0M944.5 2755.3h0M944.8 2748.9h0M945.2 2758.1h0M945.5 2752.9h0M945.9 2750.3h0M946.3 2747.3h0M946.6 2764.6h0M947 2761.7h0M947.4 2742.1h0M947.7 2748.7h0M948.1 2751.9h0M948.5 2762.4h0M948.8 2765.8h0M949.2 2741.5h0M949.5 2765.9h0M949.9 2732.6h0M950.3 2765.2h0M950.6 2747.5h0M951 2762.1h0M951.4 2746.8h0M951.7 2754.9h0M952.1 2765.2h0M952.4 2754.9h0M952.8 2756.6h0M953.2 2753.8h0M953.5 2757.9h0M953.9 2754.7h0M954.3 2740.8h0M954.6 2747.7h0M955 2754.1h0M955.4 2764.7h0M955.7 2761.8h0M956.1 2754.2h0M956.4 2757.5h0M956.8 2760.6h0M957.2 2744.1h0M957.5 2760.3h0M957.9 2757.5h0M958.3 2748.2h0M958.6 2746.5h0M959 2741.3h0M959.4 2757h0M959.7 2760.3h0M960.1 2757.7h0M960.4 2755h0M960.8 2765.9h0M961.2 2756.2h0M961.5 2764.1h0M961.9 2741.2h0M962.3 2731.1h0M962.6 2765.2h0M963 2742.4h0M963.4 2746.1h0M963.7 2763.3h0M964.1 2764.8h0M964.4 2755.7h0M964.8 2760.9h0M965.2 2764h0M965.5 2765.4h0M965.9 2753.2h0M966.3 2757.7h0M966.6 2749.2h0M967 2744.5h0M967.4 2760.8h0M967.7 2752.8h0M968.1 2730.2h0M968.4 2756.5h0M968.8 2748h0M969.2 2745.1h0M969.5 2761.6h0M969.9 2756.5h0M970.3 2753.3h0M970.6 2761.7h0M971 2765.8h0M971.4 2748.7h0M971.7 2743.6h0M972.1 2751.1h0M972.4 2743.7h0M972.8 2745.4h0M973.2 2741.9h0M973.5 2763.3h0M973.9 2763.7h0M974.3 2758.7h0M974.6 2759.2h0M975 2758.2h0M975.4 2746.9h0M975.7 2749.5h0M976.1 2741.2h0M976.4 2749.7h0M976.8 2743.2h0M977.2 2757.9h0M977.5 2765.2h0M977.9 2760h0M978.3 2766h0M978.6 2765.1h0M979 2756h0M979.3 2751.9h0M979.7 2750.9h0M980.1 2752.3h0M980.4 2741.8h0M980.8 2761.3h0M981.2 2741.7h0M981.5 2761.9h0M981.9 2750.8h0M982.3 2765h0M982.6 2749.2h0M983 2750.1h0M983.3 2740.6h0M983.7 2760.5h0M984.1 2760.9h0M984.4 2765.8h0M984.8 2748.1h0M985.2 2764.8h0M985.5 2765h0M985.9 2755.8h0M986.3 2747.3h0M986.6 2754.9h0M987 2765.8h0M987.3 2758.5h0M987.7 2764.6h0M988.1 2754.5h0M988.4 2765.1h0M988.8 2742.4h0M989.2 2754.4h0M989.5 2752.8h0M989.9 2763.4h0M990.3 2757.1h0M990.6 2765.6h0M991 2764.5h0M991.3 2756.1h0M991.7 2747.4h0M992.1 2760.9h0M992.4 2766h0M992.8 2765.7h0M993.2 2744.3h0M993.5 2742.3h0M993.9 2750.4h0M994.3 2757.3h0M994.6 2758h0M995 2759.6h0M995.3 2762.7h0M995.7 2757.5h0M996.1 2765.4h0M996.4 2749.4h0M996.8 2756.2h0M997.2 2752.5h0M997.5 2747.7h0M997.9 2758.5h0M998.3 2736.7h0M998.6 2761.3h0M999 2748.9h0M999.3 2755.4h0M999.7 2765.1h0M1000.1 2742.7h0M1000.4 2755.8h0M1000.8 2757.9h0M1001.2 2762.9h0M1001.5 2734.7h0M1001.9 2745.8h0M1002.2 2763.2h0M1002.6 2763.2h0M1003 2756.7h0M1003.3 2761.4h0M1003.7 2734.3h0M1004.1 2750.9h0M1004.4 2741.9h0M1004.8 2756.7h0M1005.2 2751.4h0M1005.5 2748.4h0M1005.9 2760.4h0M1006.2 2748.9h0M1006.6 2752.8h0M1007 2748.5h0M1007.3 2746.9h0M1007.7 2751.7h0M1008.1 2759.1h0M1008.4 2737.4h0M1008.8 2745.1h0M1009.2 2762.2h0M1009.5 2745.6h0M1009.9 2749.8h0M1010.2 2740.7h0M1010.6 2760.2h0M1011 2765.7h0M1011.3 2748.8h0M1011.7 2761.4h0M1012.1 2745.1h0M1012.4 2743.3h0M1012.8 2765h0M1013.2 2751.4h0M1013.5 2748.1h0M1013.9 2741.1h0M1014.2 2757h0M1014.6 2747.2h0M1015 2742.3h0M1015.3 2743.7h0M1015.7 2734.9h0M1016.1 2752.2h0M1016.4 2754h0M1016.8 2748.1h0M1017.2 2750.8h0M1017.5 2762.5h0M1017.9 2759.1h0M1018.2 2754.1h0M1018.6 2765.4h0M1019 2748.2h0M1019.3 2747.2h0M1019.7 2761.1h0M1020.1 2760.7h0M1020.4 2736.9h0M1020.8 2734.8h0M1021.2 2752.7h0M1021.5 2765.2h0M1021.9 2755h0M1022.2 2762.4h0M1022.6 2756h0M1023 2753.2h0M1023.3 2761.2h0M1023.7 2761.6h0M1024.1 2762.8h0M1024.4 2748.8h0M1024.8 2754.7h0M1025.1 2740.8h0M1025.5 2759.2h0M1025.9 2752h0M1026.2 2763.3h0M1026.6 2751.3h0M1027 2742.9h0M1027.3 2754.7h0M1027.7 2741.6h0M1028.1 2744.5h0M1028.4 2766h0M1028.8 2758.7h0M1029.1 2756.8h0M1029.5 2765h0M1029.9 2730.6h0M1030.2 2759.7h0M1030.6 2765.1h0M1031 2764.9h0M1031.3 2742.3h0M1031.7 2754.7h0M1032.1 2747.5h0M1032.4 2747.3h0M1032.8 2753.8h0M1033.1 2764h0M1033.5 2757.4h0M1033.9 2732.7h0M1034.2 2764.4h0M1034.6 2742.9h0M1035 2752.9h0M1035.3 2758.2h0M1035.7 2764h0M1036.1 2758.9h0M1036.4 2746.2h0M1036.8 2757.6h0M1037.1 2742.6h0M1037.5 2762.9h0M1037.9 2765.9h0M1038.2 2765.2h0M1038.6 2755.4h0M1039 2762.6h0M1039.3 2760.4h0M1039.7 2765.4h0M1040.1 2756.9h0M1040.4 2760.8h0M1040.8 2764.8h0M1041.1 2762.4h0M1041.5 2765.2h0M1041.9 2741.6h0M1042.2 2763.3h0M1042.6 2751.6h0M1043 2762.4h0M1043.3 2733.6h0M1043.7 2744.6h0M1044.1 2745.1h0M1044.4 2760.4h0M1044.8 2752.3h0M1045.1 2754.1h0M1045.5 2762h0M1045.9 2765.4h0M1046.2 2764.9h0M1046.6 2741.7h0M1047 2741.5h0M1047.3 2766h0M1047.7 2759.2h0M1048 2765.2h0M1048.4 2765.9h0M1048.8 2756.1h0M1049.1 2742.8h0M1049.5 2755.6h0M1049.9 2759.4h0M1050.2 2747.5h0M1050.6 2748.6h0M1051 2763.4h0M1051.3 2764.5h0M1051.7 2761.7h0M1052 2746.5h0M1052.4 2743.3h0M1052.8 2750.1h0M1053.1 2750.1h0M1053.5 2752.9h0M1053.9 2754.2h0M1054.2 2742.3h0M1054.6 2763h0M1055 2760.4h0M1055.3 2740.2h0M1055.7 2752.2h0M1056 2750.5h0M1056.4 2764.5h0M1056.8 2741.2h0M1057.1 2752.3h0M1057.5 2752.4h0M1057.9 2755.4h0M1058.2 2744.5h0M1058.6 2746.4h0M1059 2746.6h0M1059.3 2765.2h0M1059.7 2762.2h0M1060 2742.8h0M1060.4 2756h0M1060.8 2749.2h0M1061.1 2743.8h0M1061.5 2764.9h0M1061.9 2760.8h0M1062.2 2748.3h0M1062.6 2760.5h0M1063 2747.1h0M1063.3 2764.8h0M1063.7 2748.7h0M1064 2749.1h0M1064.4 2764.7h0M1064.8 2761.6h0M1065.1 2760.1h0M1065.5 2764.9h0M1065.9 2746.3h0M1066.2 2755.2h0M1066.6 2759.2h0M1067 2731.2h0M1067.3 2747.6h0M1067.7 2759.6h0M1068 2742.3h0M1068.4 2765h0M1068.8 2741.9h0M1069.1 2763.1h0M1069.5 2747.1h0M1069.9 2740.4h0M1070.2 2753.2h0M1070.6 2764.9h0M1071 2760.3h0M1071.3 2759.8h0M1071.7 2765.1h0M1072 2741.9h0M1072.4 2743h0M1072.8 2752.3h0M1073.1 2745.3h0M1073.5 2752.4h0M1073.9 2741.8h0M1074.2 2757.2h0M1074.6 2753.9h0M1074.9 2749.9h0M1075.3 2766h0M1075.7 2764.3h0M1076 2732.6h0M1076.4 2749.4h0M1076.8 2752.2h0M1077.1 2754.7h0M1077.5 2761.1h0M1077.9 2754.4h0M1078.2 2742.8h0M1078.6 2759.4h0M1078.9 2748.7h0M1079.3 2762.6h0M1079.7 2757.7h0M1080 2757.2h0M1080.4 2756.3h0M1080.8 2761.6h0M1081.1 2749.1h0M1081.5 2756.8h0M1081.9 2760.9h0M1082.2 2762.9h0M1082.6 2765.6h0M1082.9 2761.5h0M1083.3 2745.7h0M1083.7 2744h0M1084 2763.1h0M1084.4 2755.3h0M1084.8 2745.7h0M1085.1 2738.5h0M1085.5 2738.3h0M1085.9 2764.2h0M1086.2 2762.6h0M1086.6 2763.3h0M1086.9 2764.5h0M1087.3 2762.4h0M1087.7 2740.5h0M1088 2748.8h0M1088.4 2741.1h0M1088.8 2751.8h0M1089.1 2765.5h0M1089.5 2755.9h0M1089.9 2740.4h0M1090.2 2761.9h0M1090.6 2740.2h0M1090.9 2741.7h0M1091.3 2748.6h0M1091.7 2765.8h0M1092 2760.7h0M1092.4 2754.5h0M1092.8 2754.9h0M1093.1 2745.7h0M1093.5 2745.1h0M1093.9 2759.5h0M1094.2 2765.5h0M1094.6 2766h0M1094.9 2746.3h0M1095.3 2765.3h0M1095.7 2747.7h0M1096 2764.8h0M1096.4 2753.4h0M1096.8 2758.8h0M1097.1 2748.5h0M1097.5 2740.6h0M1097.8 2748.3h0M1098.2 2743.1h0M1098.6 2763.4h0M1098.9 2744.2h0M1099.3 2744.2h0M1099.7 2759.3h0M1100 2749.3h0M1100.4 2758.5h0M1100.8 2746.3h0M1101.1 2742.1h0M1101.5 2753.6h0M1101.8 2730.9h0M1102.2 2747.4h0M1102.6 2759.9h0M1102.9 2746.4h0M1103.3 2749.2h0M1103.7 2756.6h0M1104 2751.9h0M1104.4 2763h0M1104.8 2760.8h0M1105.1 2748.2h0M1105.5 2743.3h0M1105.8 2741.2h0M1106.2 2748.7h0M1106.6 2758h0M1106.9 2764.6h0M1107.3 2758.9h0M1107.7 2765h0M1108 2759.8h0M1108.4 2751.8h0M1108.8 2733.7h0M1109.1 2752.4h0M1109.5 2755.4h0M1109.8 2739.9h0M1110.2 2747h0M1110.6 2759.9h0M1110.9 2760.7h0M1111.3 2764.8h0M1111.7 2749.4h0M1112 2749h0M1112.4 2752.1h0M1112.8 2760.2h0M1113.1 2752.5h0M1113.5 2765.6h0M1113.8 2744.7h0M1114.2 2762.7h0M1114.6 2762.2h0M1114.9 2765.1h0M1115.3 2744.2h0M1115.7 2753.1h0M1116 2745.3h0M1116.4 2758.7h0M1116.8 2742.2h0M1117.1 2751.9h0M1117.5 2764.9h0M1117.8 2762.2h0M1118.2 2751.2h0M1118.6 2740.3h0M1118.9 2764.7h0M1119.3 2743.2h0M1119.7 2746.8h0M1120 2759.3h0M1120.4 2760.8h0M1120.8 2752.8h0M1121.1 2765.7h0M1121.5 2740.9h0M1121.8 2761.1h0M1122.2 2753.1h0M1122.6 2756h0M1122.9 2758.5h0M1123.3 2760.8h0M1123.7 2750h0M1124 2764.4h0M1124.4 2740.7h0M1124.7 2750.8h0M1125.1 2762.7h0M1125.5 2765.9h0M1125.8 2765.7h0M1126.2 2764.4h0M1126.6 2756.2h0M1126.9 2765.1h0M1127.3 2742h0M1127.7 2743.2h0M1128 2762.8h0M1128.4 2765.9h0M1128.7 2751.4h0M1129.1 2742.8h0M1129.5 2760.2h0M1129.8 2742.4h0M1130.2 2741.3h0M1130.6 2747.2h0M1130.9 2757.6h0M1131.3 2742.7h0M1131.7 2765.8h0M1132 2744.6h0M1132.4 2756.1h0M1132.7 2748.2h0M1133.1 2749.8h0M1133.5 2766h0M1133.8 2757.4h0M1134.2 2765.9h0M1134.6 2760.5h0M1134.9 2751.1h0M1135.3 2751.4h0M1135.7 2764.5h0M1136 2758.2h0M1136.4 2748.7h0M1136.7 2744.5h0M1137.1 2748.7h0M1137.5 2755h0M1137.8 2745.1h0M1138.2 2733.5h0M1138.6 2746.3h0M1138.9 2745.2h0M1139.3 2763.5h0M1139.7 2751.1h0M1140 2763.6h0M1140.4 2762.5h0M1140.7 2742.1h0M1141.1 2749.8h0M1141.5 2743.1h0M1141.8 2757.9h0M1142.2 2745.3h0M1142.6 2731h0M1142.9 2765.9h0M1143.3 2742h0M1143.7 2753h0M1144 2765.3h0M1144.4 2755.8h0M1144.7 2765.7h0M1145.1 2762.2h0M1145.5 2737.9h0M1145.8 2758.5h0M1146.2 2744.9h0M1146.6 2748.6h0M1146.9 2747.8h0M1147.3 2765.2h0M1147.6 2757.6h0M1148 2754.1h0M1148.4 2758.1h0M1148.7 2745.9h0M1149.1 2763h0M1149.5 2761.3h0M1149.8 2758.5h0M1150.2 2741.5h0M1150.6 2759h0M1150.9 2755.5h0M1151.3 2755.5h0M1151.6 2750.3h0M1152 2763.3h0M1152.4 2757.5h0M1152.7 2747.6h0M1153.1 2759h0M1153.5 2741.6h0M1153.8 2756.9h0M1154.2 2747.3h0M1154.6 2755.5h0M1154.9 2758.9h0M1155.3 2758.2h0M1155.6 2756.1h0M1156 2754.7h0M1156.4 2763.3h0M1156.7 2755.1h0M1157.1 2755.8h0M1157.5 2750.5h0M1157.8 2765.5h0M1158.2 2761.8h0M1158.6 2756.6h0M1158.9 2741.5h0M1159.3 2752.3h0M1159.6 2764.5h0M1160 2762.9h0M1160.4 2753.2h0M1160.7 2744.8h0M1161.1 2736.8h0M1161.5 2760.1h0M1161.8 2751.4h0M1162.2 2742.3h0M1162.6 2758.9h0M1162.9 2754.1h0M1163.3 2742.9h0M1163.6 2765.1h0M1164 2743.3h0M1164.4 2746.3h0M1164.7 2755.3h0M1165.1 2763.5h0M1165.5 2745.8h0M1165.8 2741h0M1166.2 2754.4h0M1166.6 2757.8h0M1166.9 2745.8h0M1167.3 2743.6h0M1167.6 2759.2h0M1168 2757.7h0M1168.4 2755.5h0M1168.7 2742.9h0M1169.1 2756.1h0M1169.5 2749.4h0M1169.8 2764.8h0M1170.2 2761.1h0M1170.5 2763.5h0M1170.9 2761.7h0M1171.3 2753.8h0M1171.6 2751.6h0M1172 2748h0M1172.4 2757.5h0M1172.7 2762.7h0M1173.1 2742.9h0M1173.5 2765.3h0M1173.8 2762.3h0M1174.2 2752.3h0M1174.5 2763.3h0M1174.9 2754.6h0M1175.3 2755.3h0M1175.6 2747.5h0M1176 2749.7h0M1176.4 2756.4h0M1176.7 2764.5h0M1177.1 2756.8h0M1177.5 2762.1h0M1177.8 2760.9h0M1178.2 2756.4h0M1178.5 2763.8h0M1178.9 2751.8h0M1179.3 2759.6h0M1179.6 2743.1h0M1180 2753.4h0M1180.4 2742.5h0M1180.7 2749.9h0M1181.1 2754.7h0M1181.5 2742h0M1181.8 2739.9h0M1182.2 2740.8h0M1182.5 2765.6h0M1182.9 2759.1h0M1183.3 2758.7h0M1183.6 2756.3h0M1184 2763.2h0M1184.4 2753.5h0M1184.7 2748.7h0M1185.1 2762.6h0M1185.5 2764.4h0M1185.8 2757.8h0M1186.2 2762.6h0M1186.5 2760.6h0M1186.9 2752.5h0M1187.3 2757.4h0M1187.6 2754.4h0M1188 2745.1h0M1188.4 2764.5h0M1188.7 2750.9h0M1189.1 2742.2h0M1189.5 2744.6h0M1189.8 2758.5h0M1190.2 2745.6h0M1190.5 2745h0M1190.9 2757.9h0M1191.3 2755.1h0M1191.6 2743.6h0M1192 2743.9h0M1192.4 2736.3h0M1192.7 2760.6h0M1193.1 2758.6h0M1193.4 2757.3h0M1193.8 2751.1h0M1194.2 2762.9h0M1194.5 2760h0M1194.9 2755.5h0M1195.3 2740.9h0M1195.6 2760.8h0M1196 2766h0M1196.4 2765.6h0M1196.7 2753.2h0M1197.1 2740.7h0M1197.4 2765.9h0M1197.8 2762h0M1198.2 2748.7h0M1198.5 2744.2h0M1198.9 2762.2h0M1199.3 2754.7h0M1199.6 2760.4h0M1200 2751.9h0M1200.4 2753.5h0M1200.7 2753.8h0M1201.1 2765.9h0M1201.4 2760.4h0M1201.8 2747.7h0M1202.2 2764.1h0M1202.5 2744.3h0M1202.9 2765.9h0M1203.3 2744.2h0M1203.6 2755.4h0M1204 2753.7h0M1204.4 2752.9h0M1204.7 2756.5h0M1205.1 2747.8h0M1205.4 2760.6h0M1205.8 2741h0M1206.2 2765.2h0M1206.5 2757.5h0M1206.9 2761h0M1207.3 2756h0M1207.6 2761.6h0M1208 2754.3h0M1208.4 2757.3h0M1208.7 2753.9h0M1209.1 2759.1h0M1209.4 2761.3h0M1209.8 2761.5h0M1210.2 2734h0M1210.5 2764.8h0M1210.9 2760.2h0M1211.3 2754.2h0M1211.6 2749.1h0M1212 2742.3h0M1212.4 2744.2h0M1212.7 2761.5h0M1213.1 2759.2h0M1213.4 2761.2h0M1213.8 2751.4h0M1214.2 2761.6h0M1214.5 2753.7h0M1214.9 2756.1h0M1215.3 2742.8h0M1215.6 2758.1h0M1216 2753.4h0M1216.4 2747.5h0M1216.7 2755.1h0M1217.1 2761.5h0M1217.4 2765.9h0M1217.8 2746.1h0M1218.2 2741.3h0M1218.5 2764.6h0M1218.9 2742.9h0M1219.3 2744.3h0M1219.6 2763.9h0M1220 2748.9h0M1220.3 2765.7h0M1220.7 2763.1h0M1221.1 2737.7h0M1221.4 2765.9h0M1221.8 2744h0M1222.2 2766h0M1222.5 2761.5h0M1222.9 2747.9h0M1223.3 2764.4h0M1223.6 2748.9h0M1224 2758.8h0M1224.3 2758h0M1224.7 2751.3h0M1225.1 2747.1h0M1225.4 2745.9h0M1225.8 2763.3h0M1226.2 2757h0M1226.5 2743.2h0M1226.9 2752.5h0M1227.3 2742h0M1227.6 2750.3h0M1228 2751h0M1228.3 2756.3h0M1228.7 2763.8h0M1229.1 2752.7h0M1229.4 2748.7h0M1229.8 2754.2h0M1230.2 2751.2h0M1230.5 2747.3h0M1230.9 2758.7h0M1231.3 2765.6h0M1231.6 2765.9h0M1232 2758.7h0M1232.3 2765.6h0M1232.7 2764.8h0M1233.1 2759.2h0M1233.4 2752.5h0M1233.8 2765.9h0M1234.2 2750.5h0M1234.5 2740.6h0M1234.9 2747.8h0M1235.3 2755.1h0M1235.6 2757.9h0M1236 2761.7h0M1236.3 2743.4h0M1236.7 2746.4h0M1237.1 2759.5h0M1237.4 2751.3h0M1237.8 2740.4h0M1238.2 2745.2h0M1238.5 2749.6h0M1238.9 2734h0M1239.3 2744.7h0M1239.6 2748.6h0M1240 2755.5h0M1240.3 2756h0M1240.7 2755h0M1241.1 2763.5h0M1241.4 2731.3h0M1241.8 2759.4h0M1242.2 2749.9h0M1242.5 2760.9h0M1242.9 2757.7h0M1243.2 2740.5h0M1243.6 2750h0M1244 2743.2h0M1244.3 2763.9h0M1244.7 2765.8h0M1245.1 2758.1h0M1245.4 2752.1h0M1245.8 2765.3h0M1246.2 2754.2h0M1246.5 2753.3h0M1246.9 2759.2h0M1247.2 2760.9h0M1247.6 2763.3h0M1248 2744.6h0M1248.3 2759.9h0M1248.7 2744.2h0M1249.1 2741.9h0M1249.4 2750.5h0M1249.8 2742.3h0M1250.2 2748.7h0M1250.5 2765.7h0M1250.9 2761.7h0M1251.2 2763.2h0M1251.6 2739.2h0M1252 2760.4h0M1252.3 2747.7h0M1252.7 2763.5h0M1253.1 2758.9h0M1253.4 2762.7h0M1253.8 2766h0M1254.2 2764.1h0M1254.5 2760.8h0M1254.9 2742.4h0M1255.2 2757.4h0M1255.6 2761.7h0M1256 2751.7h0M1256.3 2749.1h0M1256.7 2749.2h0M1257.1 2742.1h0M1257.4 2746.8h0M1257.8 2743h0M1258.2 2742h0M1258.5 2742h0M1258.9 2755.1h0M1259.2 2754.2h0M1259.6 2745.3h0M1260 2749.7h0M1260.3 2758.1h0M1260.7 2743.3h0M1261.1 2749.1h0M1261.4 2765h0M1261.8 2760h0M1262.2 2758.8h0M1262.5 2757.9h0M1262.9 2764.2h0M1263.2 2754.1h0M1263.6 2756.9h0M1264 2756h0M1264.3 2748.5h0M1264.7 2752h0M1265.1 2746.3h0M1265.4 2755h0M1265.8 2759h0M1266.1 2756.9h0M1266.5 2731.8h0M1266.9 2765.5h0M1267.2 2763.3h0M1267.6 2762.2h0M1268 2749.5h0M1268.3 2755.4h0M1268.7 2765.6h0M1269.1 2764.2h0M1269.4 2760.7h0M1269.8 2745.2h0M1270.1 2756.1h0M1270.5 2763.2h0M1270.9 2765.6h0M1271.2 2742.7h0M1271.6 2760.6h0M1272 2755.5h0M1272.3 2751.7h0M1272.7 2743.9h0M1273.1 2741.6h0M1273.4 2750.4h0M1273.8 2763h0M1274.1 2745.5h0M1274.5 2765.8h0M1274.9 2764.1h0M1275.2 2742.9h0M1275.6 2746h0M1276 2747h0M1276.3 2753.9h0M1276.7 2749.3h0M1277.1 2750.7h0M1277.4 2761.9h0M1277.8 2763.8h0M1278.1 2764.5h0M1278.5 2763.3h0M1278.9 2741h0M1279.2 2739.5h0M1279.6 2764.6h0M1280 2763.7h0M1280.3 2764h0M1280.7 2751.3h0M1281.1 2760.3h0M1281.4 2754.3h0M1281.8 2764.1h0M1282.1 2752h0M1282.5 2750.9h0M1282.9 2764.7h0M1283.2 2745h0M1283.6 2765.8h0M1284 2751.9h0M1284.3 2735.9h0M1284.7 2753.5h0M1285.1 2740.8h0M1285.4 2764.2h0M1285.8 2765.8h0M1286.1 2745.7h0M1286.5 2765.8h0M1286.9 2745.9h0M1287.2 2761.3h0M1287.6 2746.4h0M1288 2738.7h0M1288.3 2762.6h0M1288.7 2729.9h0M1289.1 2762.6h0M1289.4 2759.4h0M1289.8 2753.9h0M1290.1 2748h0M1290.5 2756.9h0M1290.9 2746.8h0M1291.2 2756.6h0M1291.6 2756.5h0M1292 2763.6h0M1292.3 2751.9h0M1292.7 2740.5h0M1293 2751.5h0M1293.4 2761.3h0M1293.8 2744.9h0M1294.1 2753.8h0M1294.5 2740.6h0M1294.9 2754.9h0M1295.2 2745h0M1295.6 2763.5h0M1296 2763.6h0M1296.3 2755.9h0M1296.7 2764.6h0M1297 2756.4h0M1297.4 2763.3h0M1297.8 2753.8h0M1298.1 2741.9h0M1298.5 2764.9h0M1298.9 2761.3h0M1299.2 2765.1h0M1299.6 2751.2h0M1300 2762.2h0M1300.3 2754.1h0M1300.7 2761.9h0M1301 2749.3h0M1301.4 2764.5h0M1301.8 2765.8h0M1302.1 2747.4h0M1302.5 2762.7h0M1302.9 2741.4h0M1303.2 2757.8h0M1303.6 2765.5h0M1304 2765.2h0M1304.3 2760.1h0M1304.7 2757.2h0M1305 2759.9h0M1305.4 2763.6h0M1305.8 2750.1h0M1306.1 2732.4h0M1306.5 2760.7h0M1306.9 2745.3h0M1307.2 2754.2h0M1307.6 2745.7h0M1308 2765.9h0M1308.3 2745.7h0M1308.7 2763.3h0M1309 2762.6h0M1309.4 2750h0M1309.8 2742.8h0M1310.1 2762.5h0M1310.5 2741.7h0M1310.9 2750.8h0M1311.2 2765.7h0M1311.6 2760.3h0M1312 2747h0M1312.3 2734.6h0M1312.7 2763.8h0M1313 2747.6h0M1313.4 2751.5h0M1313.8 2745.9h0M1314.1 2729.5h0M1314.5 2735h0M1314.9 2740.6h0M1315.2 2740.9h0M1315.6 2759.1h0M1315.9 2761.3h0M1316.3 2740.4h0M1316.7 2762.9h0M1317 2763.6h0M1317.4 2755.6h0M1317.8 2747.3h0M1318.1 2746.7h0M1318.5 2752h0M1318.9 2764.3h0M1319.2 2741.7h0M1319.6 2750.9h0M1319.9 2744.6h0M1320.3 2762.7h0M1320.7 2750.1h0M1321 2749.9h0M1321.4 2751.7h0M1321.8 2757.2h0M1322.1 2742h0M1322.5 2740.7h0M1322.9 2750h0M1323.2 2745.5h0M1323.6 2762.4h0M1323.9 2751.4h0M1324.3 2755.7h0M1324.7 2744.3h0M1325 2743.2h0M1325.4 2758h0M1325.8 2748.1h0M1326.1 2751.1h0M1326.5 2758.2h0M1326.9 2751.2h0M1327.2 2758.4h0M1327.6 2763.3h0M1327.9 2759.9h0M1328.3 2765.6h0M1328.7 2763.6h0M1329 2746.1h0M1329.4 2764.7h0M1329.8 2762.7h0M1330.1 2742.9h0M1330.5 2754h0M1330.9 2754.1h0M1331.2 2745.6h0M1331.6 2741.4h0M1331.9 2756.4h0M1332.3 2762h0M1332.7 2761.1h0M1333 2761.6h0M1333.4 2764.5h0M1333.8 2743.3h0M1334.1 2756.9h0M1334.5 2732.4h0M1334.9 2765.6h0M1335.2 2756h0M1335.6 2749.7h0M1335.9 2749.8h0M1336.3 2760.8h0M1336.7 2756.1h0M1337 2764.6h0M1337.4 2734.3h0M1337.8 2741.5h0M1338.1 2762.9h0M1338.5 2755.7h0M1338.8 2746.7h0M1339.2 2739.8h0M1339.6 2742.9h0M1339.9 2749h0M1340.3 2761.4h0M1340.7 2755.3h0M1341 2737.8h0M1341.4 2764.5h0M1341.8 2754.8h0M1342.1 2744.5h0M1342.5 2757h0M1342.8 2745.3h0M1343.2 2758.7h0M1343.6 2746.4h0M1343.9 2742.8h0M1344.3 2745.7h0M1344.7 2754.4h0M1345 2746.6h0M1345.4 2742.1h0M1345.8 2759h0M1346.1 2757.4h0M1346.5 2745.1h0M1346.8 2759h0M1347.2 2750.9h0M1347.6 2752.2h0M1347.9 2736.6h0M1348.3 2750.1h0M1348.7 2746.3h0M1349 2742.8h0M1349.4 2752.2h0M1349.8 2762.9h0M1350.1 2762.5h0M1350.5 2743.8h0M1350.8 2742.5h0M1351.2 2729.5h0M1351.6 2755.6h0M1351.9 2744.9h0M1352.3 2765.9h0M1352.7 2742.6h0M1353 2730.3h0M1353.4 2752.5h0M1353.8 2750.2h0M1354.1 2763.3h0M1354.5 2744.8h0M1354.8 2754.5h0M1355.2 2763.9h0M1355.6 2760.5h0M1355.9 2742.3h0M1356.3 2762.2h0M1356.7 2742.4h0M1357 2760.7h0M1357.4 2765.3h0M1357.8 2754.2h0M1358.1 2762.1h0M1358.5 2756.1h0M1358.8 2751.2h0M1359.2 2742.9h0M1359.6 2764.5h0M1359.9 2765.8h0M1360.3 2761.6h0M1360.7 2763.8h0M1361 2746.4h0M1361.4 2755.5h0M1361.8 2748.4h0M1362.1 2765.1h0M1362.5 2762.8h0M1362.8 2741.1h0M1363.2 2760.1h0M1363.6 2751.1h0M1363.9 2758.3h0M1364.3 2731h0M1364.7 2754h0M1365 2758.4h0M1365.4 2765.8h0M1365.7 2751.4h0M1366.1 2755.1h0M1366.5 2753.9h0M1366.8 2753.8h0M1367.2 2740.8h0M1367.6 2765.8h0M1367.9 2757.8h0M1368.3 2757.5h0M1368.7 2742.3h0M1369 2760.9h0M1369.4 2753h0M1369.7 2746.5h0M1370.1 2742.9h0M1370.5 2750.1h0M1370.8 2749.7h0M1371.2 2739.2h0M1371.6 2766h0M1371.9 2744.1h0M1372.3 2750.9h0M1372.7 2749h0M1373 2746.8h0M1373.4 2756.4h0M1373.7 2765.2h0M1374.1 2743.1h0M1374.5 2748.8h0M1374.8 2744h0M1375.2 2751.7h0M1375.6 2756.3h0M1375.9 2752.7h0M1376.3 2746.8h0M1376.7 2757.3h0M1377 2749.6h0M1377.4 2746.3h0M1377.7 2741.4h0M1378.1 2765h0M1378.5 2765.1h0M1378.8 2748.2h0M1379.2 2744.5h0M1379.6 2756h0M1379.9 2764.2h0M1380.3 2764.3h0M1380.7 2760.9h0M1381 2741h0M1381.4 2762h0M1381.7 2753.3h0M1382.1 2740.4h0M1382.5 2761.8h0M1382.8 2729.9h0M1383.2 2751.4h0M1383.6 2756.3h0M1383.9 2747.6h0M1384.3 2764.9h0M1384.7 2759.9h0M1385 2749.9h0M1385.4 2752.6h0M1385.7 2764.3h0M1386.1 2730.8h0M1386.5 2751.5h0M1386.8 2747.7h0M1387.2 2760.3h0M1387.6 2746.5h0M1387.9 2753.5h0M1388.3 2741.1h0M1388.6 2757.2h0M1389 2740.8h0M1389.4 2763h0M1389.7 2765.8h0M1390.1 2754.8h0M1390.5 2734h0M1390.8 2765.1h0M1391.2 2764.7h0M1391.6 2762.5h0M1391.9 2765.7h0M1392.3 2759.6h0M1392.6 2763h0M1393 2744.6h0M1393.4 2755.8h0M1393.7 2760.8h0M1394.1 2742.9h0M1394.5 2761h0M1394.8 2761.6h0M1395.2 2757.8h0M1395.6 2753.1h0M1395.9 2742.6h0M1396.3 2750h0M1396.6 2765.1h0M1397 2733h0M1397.4 2755.5h0M1397.7 2757.8h0M1398.1 2743.8h0M1398.5 2747.7h0M1398.8 2757.4h0M1399.2 2743.7h0M1399.6 2749.8h0M1399.9 2754.2h0M1400.3 2761.1h0M1400.6 2740.1h0M1401 2762.8h0M1401.4 2750.7h0M1401.7 2764.6h0M1402.1 2748.5h0M1402.5 2749.4h0M1402.8 2765.7h0M1403.2 2744.6h0M1403.6 2758.6h0M1403.9 2741.1h0M1404.3 2745.5h0M1404.6 2744.4h0M1405 2762.8h0M1405.4 2746.4h0M1405.7 2743.7h0M1406.1 2763.4h0M1406.5 2763.4h0M1406.8 2747.1h0M1407.2 2758.2h0M1407.6 2750h0M1407.9 2752h0M1408.3 2762h0M1408.6 2752.5h0M1409 2762.4h0M1409.4 2752.7h0M1409.7 2754.9h0M1410.1 2765.9h0M1410.5 2751h0M1410.8 2741.2h0M1411.2 2763.6h0M1411.5 2757.8h0M1411.9 2742.2h0M1412.3 2733.9h0M1412.6 2755.8h0M1413 2760.1h0M1413.4 2764.8h0M1413.7 2748.8h0M1414.1 2764.5h0M1414.5 2740.9h0M1414.8 2744.2h0M1415.2 2766h0M1415.5 2753.3h0M1415.9 2734.6h0M1416.3 2765.2h0M1416.6 2764.9h0M1417 2747.7h0M1417.4 2746.9h0M1417.7 2760.7h0M1418.1 2754.4h0M1418.5 2752.9h0M1418.8 2758.7h0M1419.2 2751.4h0M1419.5 2742.8h0M1419.9 2764.5h0M1420.3 2755.7h0M1420.6 2743.3h0M1421 2765.9h0M1421.4 2741.1h0M1421.7 2752.8h0M1422.1 2758.6h0M1422.5 2750.1h0M1422.8 2759.1h0M1423.2 2756.9h0M1423.5 2755.1h0M1423.9 2732.6h0M1424.3 2764.5h0M1424.6 2751.9h0M1425 2753.4h0M1425.4 2759.5h0M1425.7 2758.3h0M1426.1 2761.7h0M1426.5 2751.7h0M1426.8 2746.6h0M1427.2 2748.2h0M1427.5 2754.5h0M1427.9 2765.3h0M1428.3 2765h0M1428.6 2745.2h0M1429 2741h0M1429.4 2757h0M1429.7 2747h0M1430.1 2746.2h0M1430.5 2736.7h0M1430.8 2740.3h0M1431.2 2740.6h0M1431.5 2759.6h0M1431.9 2734.9h0M1432.3 2762.7h0M1432.6 2749.3h0M1433 2738.7h0M1433.4 2760.6h0M1433.7 2764.8h0M1434.1 2765h0M1434.5 2761.6h0M1434.8 2765.3h0M1435.2 2763.1h0M1435.5 2758.9h0M1435.9 2743h0M1436.3 2753.3h0M1436.6 2743.5h0M1437 2761.9h0M1437.4 2763.6h0M1437.7 2761h0M1438.1 2761.7h0M1438.4 2741.5h0M1438.8 2747.2h0M1439.2 2755.2h0M1439.5 2761.7h0M1439.9 2758h0M1440.3 2748.9h0M1440.6 2752.6h0M1441 2742.1h0M1441.4 2746.7h0M1441.7 2753.4h0M1442.1 2754.7h0M1442.4 2761.3h0M1442.8 2760.2h0M1443.2 2763.9h0M1443.5 2740.5h0M1443.9 2754.4h0M1444.3 2750.3h0M1444.6 2749.3h0M1445 2763.8h0M1445.4 2736.2h0M1445.7 2741.2h0M1446.1 2748h0M1446.4 2765.6h0M1446.8 2740.7h0M1447.2 2760.7h0M1447.5 2750.8h0M1447.9 2745.3h0M1448.3 2756.4h0M1448.6 2760.2h0M1449 2764.2h0M1449.4 2759.7h0M1449.7 2752.5h0M1450.1 2731.2h0M1450.4 2764.6h0M1450.8 2745h0M1451.2 2748.3h0M1451.5 2753.7h0M1451.9 2748.5h0M1452.3 2762.6h0M1452.6 2764.9h0M1453 2734.7h0M1453.4 2744.3h0M1453.7 2743.4h0M1454.1 2765.9h0M1454.4 2748.1h0M1454.8 2744.9h0M1455.2 2765h0M1455.5 2760h0M1455.9 2766h0M1456.3 2756.6h0M1456.6 2753.3h0M1457 2766h0M1457.4 2757.6h0M1457.7 2743.8h0M1458.1 2748.6h0M1458.4 2762.6h0M1458.8 2740.8h0M1459.2 2762.2h0M1459.5 2760.9h0M1459.9 2761.1h0M1460.3 2758.6h0M1460.6 2764.9h0M1461 2765h0M1461.3 2762h0M1461.7 2765.6h0M1462.1 2741.8h0M1462.4 2759.9h0M1462.8 2762.2h0M1463.2 2741.5h0M1463.5 2765.6h0M1463.9 2747.1h0M1464.3 2753.4h0M1464.6 2750.6h0M1465 2756h0M1465.3 2763.2h0M1465.7 2751.9h0M1466.1 2740.7h0M1466.4 2761.5h0M1466.8 2754.9h0M1467.2 2765.1h0M1467.5 2742.6h0M1467.9 2744.3h0M1468.3 2755.2h0M1468.6 2735h0M1469 2741.9h0M1469.3 2759.1h0M1469.7 2744.2h0M1470.1 2753h0M1470.4 2743.7h0M1470.8 2754.2h0M1471.2 2759.8h0M1471.5 2751.5h0M1471.9 2764.9h0M1472.3 2765.6h0M1472.6 2762.6h0M1473 2762.4h0M1473.3 2757.2h0M1473.7 2761.7h0M1474.1 2764.7h0M1474.4 2757.9h0M1474.8 2747.7h0M1475.2 2740.6h0M1475.5 2742.4h0M1475.9 2757.3h0M1476.3 2764.9h0M1476.6 2744.8h0M1477 2760.2h0M1477.3 2760.8h0M1477.7 2747.3h0M1478.1 2761.1h0M1478.4 2762.6h0M1478.8 2755.2h0M1479.2 2754.5h0M1479.5 2747.4h0M1479.9 2757.3h0M1480.3 2743.9h0M1480.6 2759.3h0M1481 2761.4h0M1481.3 2742.3h0M1481.7 2745.8h0M1482.1 2755.9h0M1482.4 2764.4h0M1482.8 2745.4h0M1483.2 2761.7h0M1483.5 2763.7h0M1483.9 2747.8h0M1484.2 2760.8h0M1484.6 2759.8h0M1485 2746.9h0M1485.3 2747.6h0M1485.7 2761.3h0M1486.1 2751.8h0M1486.4 2757.2h0M1486.8 2735.7h0M1487.2 2730.7h0M1487.5 2765.3h0M1487.9 2747.6h0M1488.2 2762.4h0M1488.6 2757h0M1489 2757.6h0M1489.3 2735.3h0M1489.7 2753.1h0M1490.1 2752.8h0M1490.4 2764h0M1490.8 2763.5h0M1491.2 2741.7h0M1491.5 2762.7h0M1491.9 2755.5h0M1492.2 2760h0M1492.6 2757.8h0M1493 2743h0M1493.3 2758.9h0M1493.7 2756.4h0M1494.1 2750.1h0M1494.4 2751.4h0M1494.8 2757.9h0M1495.2 2761.7h0M1495.5 2764.4h0M1495.9 2760.6h0M1496.2 2748.6h0M1496.6 2763.9h0M1497 2765.3h0M1497.3 2756.6h0M1497.7 2761.9h0M1498.1 2763.9h0M1498.4 2750.3h0M1498.8 2760.1h0M1499.2 2761.3h0M1499.5 2763.3h0M1499.9 2745.6h0M1500.2 2766h0M1500.6 2765.6h0M1501 2755.5h0M1501.3 2732.9h0M1501.7 2739.2h0M1502.1 2745.6h0M1502.4 2763.9h0M1502.8 2740.7h0M1503.2 2763h0M1503.5 2765.9h0M1503.9 2760h0M1504.2 2748.2h0M1504.6 2758.3h0M1505 2740.5h0M1505.3 2729.8h0M1505.7 2741.2h0M1506.1 2757.3h0M1506.4 2745.7h0M1506.8 2743h0M1507.2 2761.2h0M1507.5 2741.8h0M1507.9 2740.6h0M1508.2 2750.7h0M1508.6 2758.3h0M1509 2762.7h0M1509.3 2758.3h0M1509.7 2747.5h0M1510.1 2749.8h0M1510.4 2747.6h0M1510.8 2759.7h0M1511.1 2757h0M1511.5 2753.7h0M1511.9 2764h0M1512.2 2764.3h0M1512.6 2762.7h0M1513 2762.7h0M1513.3 2747.8h0M1513.7 2765h0M1514.1 2749.7h0M1514.4 2742.2h0M1514.8 2760.6h0M1515.1 2759.8h0M1515.5 2764.7h0M1515.9 2748.4h0M1516.2 2740.9h0M1516.6 2759.1h0M1517 2761.1h0M1517.3 2756.3h0M1517.7 2746.9h0M1518.1 2765.7h0M1518.4 2759.2h0M1518.8 2744.4h0M1519.1 2763.3h0M1519.5 2760.6h0M1519.9 2766h0M1520.2 2757.2h0M1520.6 2763h0M1521 2743.7h0M1521.3 2760.2h0M1521.7 2759.6h0M1522.1 2738.1h0M1522.4 2754.2h0M1522.8 2759.9h0M1523.1 2757.5h0M1523.5 2743.3h0M1523.9 2749.7h0M1524.2 2763.4h0M1524.6 2747.5h0M1525 2743.1h0M1525.3 2755.1h0M1525.7 2754.9h0M1526.1 2758.2h0M1526.4 2756h0M1526.8 2748.8h0M1527.1 2748.1h0M1527.5 2751.3h0M1527.9 2748.5h0M1528.2 2729.9h0M1528.6 2751.4h0M1529 2752.7h0M1529.3 2754h0M1529.7 2745h0M1530.1 2751.1h0M1530.4 2755.2h0M1530.8 2765.7h0M1531.1 2741.2h0M1531.5 2763.1h0M1531.9 2762.9h0M1532.2 2747.1h0M1532.6 2765.9h0M1533 2749.5h0M1533.3 2763.9h0M1533.7 2748.5h0M1534 2763.4h0M1534.4 2763.4h0M1534.8 2763.7h0M1535.1 2764.7h0M1535.5 2759.7h0M1535.9 2763.3h0M1536.2 2765.2h0M1536.6 2765.6h0M1537 2764.3h0M1537.3 2764.1h0M1537.7 2741.2h0M1538 2765h0M1538.4 2763.5h0M1538.8 2765h0M1539.1 2747.7h0M1539.5 2757.5h0M1539.9 2759.4h0M1540.2 2756h0M1540.6 2757.2h0M1541 2752.8h0M1541.3 2757.6h0M1541.7 2737.6h0M1542 2757.5h0M1542.4 2764.7h0M1542.8 2764.1h0M1543.1 2760.3h0M1543.5 2740.4h0M1543.9 2743.5h0M1544.2 2742.7h0M1544.6 2754.3h0M1545 2754.2h0M1545.3 2763.3h0M1545.7 2747h0M1546 2743.4h0M1546.4 2762.7h0M1546.8 2763.6h0M1547.1 2748.2h0M1547.5 2760.1h0M1547.9 2757.3h0M1548.2 2750.8h0M1548.6 2764.4h0M1549 2762.6h0M1549.3 2754.8h0M1549.7 2759.9h0M1550 2742.6h0M1550.4 2757.4h0M1550.8 2742.7h0M1551.1 2765.8h0M1551.5 2747.6h0M1551.9 2749h0M1552.2 2762.7h0M1552.6 2747h0M1553 2754.7h0M1553.3 2762.1h0M1553.7 2734.7h0M1554 2752.3h0M1554.4 2765.8h0M1554.8 2764.4h0M1555.1 2746.6h0M1555.5 2756.3h0M1555.9 2752.2h0M1556.2 2754.5h0M1556.6 2765.3h0M1557 2755.4h0M1557.3 2744.1h0M1557.7 2765.9h0M1558 2750.9h0M1558.4 2757h0M1558.8 2750.6h0M1559.1 2747h0M1559.5 2757.4h0M1559.9 2751.9h0M1560.2 2756.6h0M1560.6 2763.3h0M1560.9 2749.1h0M1561.3 2764.2h0M1561.7 2752.1h0M1562 2745.9h0M1562.4 2748h0M1562.8 2742.4h0M1563.1 2755.1h0M1563.5 2760.1h0M1563.9 2761.4h0M1564.2 2763.2h0M1564.6 2754h0M1564.9 2746.7h0M1565.3 2742.7h0M1565.7 2764.5h0M1566 2742.8h0M1566.4 2740.6h0M1566.8 2742.1h0M1567.1 2741.6h0M1567.5 2744.7h0M1567.9 2753.6h0M1568.2 2757.7h0M1568.6 2742.3h0M1568.9 2757.7h0M1569.3 2747.2h0M1569.7 2739.9h0M1570 2753.9h0M1570.4 2753.1h0M1570.8 2758.6h0M1571.1 2741.3h0M1571.5 2751.5h0M1571.9 2761.7h0M1572.2 2765.1h0M1572.6 2742.8h0M1572.9 2758.5h0M1573.3 2758.9h0M1573.7 2750.4h0M1574 2742h0M1574.4 2761h0M1574.8 2742.7h0M1575.1 2745h0M1575.5 2765.8h0M1575.9 2761.9h0M1576.2 2747.2h0M1576.6 2763h0M1576.9 2763.7h0M1577.3 2749.7h0M1577.7 2754.2h0M1578 2756.8h0M1578.4 2741.9h0M1578.8 2755.7h0M1579.1 2762.7h0M1579.5 2765.4h0M1579.9 2746.4h0M1580.2 2762.9h0M1580.6 2761h0M1580.9 2761.8h0M1581.3 2758.1h0M1581.7 2749.5h0M1582 2734h0M1582.4 2751.2h0M1582.8 2761h0M1583.1 2765.5h0M1583.5 2745.9h0M1583.8 2760.2h0M1584.2 2742.9h0M1584.6 2752.2h0M1584.9 2742.7h0M1585.3 2750.9h0M1585.7 2764.3h0M1586 2757.6h0M1586.4 2756h0M1586.8 2762.8h0M1587.1 2753.6h0M1587.5 2763h0M1587.8 2764.4h0M1588.2 2759.5h0M1588.6 2741.9h0M1588.9 2755.2h0M1589.3 2744.1h0M1589.7 2745h0M1590 2759.2h0M1590.4 2752h0M1590.8 2750.8h0M1591.1 2761.2h0M1591.5 2749.6h0M1591.8 2743.2h0M1592.2 2746.9h0M1592.6 2759.6h0M1592.9 2757.4h0M1593.3 2750.5h0M1593.7 2748.3h0M1594 2756.6h0M1594.4 2744.5h0M1594.8 2747.1h0M1595.1 2747.3h0M1595.5 2763.9h0M1595.8 2753.2h0M1596.2 2737h0M1596.6 2740.4h0M1596.9 2762.5h0M1597.3 2740.7h0M1597.7 2754.9h0M1598 2750h0M1598.4 2765.3h0M1598.8 2748.3h0M1599.1 2752.7h0M1599.5 2763.8h0M1599.8 2750.4h0M1600.2 2755.6h0M1600.6 2742h0M1600.9 2758.5h0M1601.3 2742.1h0M1601.7 2756.9h0M1602 2755.9h0M1602.4 2762.5h0M1602.8 2766h0M1603.1 2743.8h0M1603.5 2745.9h0M1603.8 2759.5h0M1604.2 2765.4h0M1604.6 2759.1h0M1604.9 2750.3h0M1605.3 2741.5h0M1605.7 2743.1h0M1606 2762.7h0M1606.4 2761.4h0M1606.7 2746.8h0M1607.1 2751.4h0M1607.5 2747.7h0M1607.8 2753.3h0M1608.2 2757.5h0M1608.6 2759.3h0M1608.9 2755.2h0M1609.3 2754.8h0M1609.7 2736.5h0M1610 2766h0M1610.4 2742.2h0M1610.7 2756.8h0M1611.1 2748.2h0M1611.5 2759.3h0M1611.8 2763.4h0M1612.2 2759.4h0M1612.6 2753.1h0M1612.9 2764.3h0M1613.3 2762.3h0M1613.7 2760.2h0M1614 2738.5h0M1614.4 2748.1h0M1614.7 2747.7h0M1615.1 2742.8h0M1615.5 2757.5h0M1615.8 2764.9h0M1616.2 2761.5h0M1616.6 2747.3h0M1616.9 2747.9h0M1617.3 2751.6h0M1617.7 2765.9h0M1618 2744.4h0M1618.4 2743.5h0M1618.7 2761.7h0M1619.1 2757.4h0M1619.5 2764.5h0M1619.8 2741.9h0M1620.2 2757.7h0M1620.6 2755.7h0M1620.9 2752.2h0M1621.3 2752.2h0M1621.7 2761.1h0M1622 2753.7h0M1622.4 2744.2h0M1622.7 2756.6h0M1623.1 2747.2h0M1623.5 2764.4h0M1623.8 2764.4h0M1624.2 2747.4h0M1624.6 2765.4h0M1624.9 2765.9h0M1625.3 2748.3h0M1625.7 2741.1h0M1626 2742.8h0M1626.4 2751.4h0M1626.7 2747.8h0M1627.1 2757.5h0M1627.5 2763.7h0M1627.8 2755h0M1628.2 2756.1h0M1628.6 2761.6h0M1628.9 2749.3h0M1629.3 2758.6h0M1629.6 2759.1h0M1630 2762.4h0M1630.4 2761.8h0M1630.7 2757.7h0M1631.1 2745.7h0M1631.5 2752.6h0M1631.8 2742.1h0M1632.2 2742.6h0M1632.6 2763h0M1632.9 2746.2h0M1633.3 2760.9h0M1633.6 2765.3h0M1634 2758.4h0M1634.4 2742.1h0M1634.7 2762.6h0M1635.1 2754.1h0M1635.5 2742.1h0M1635.8 2736.4h0M1636.2 2753.9h0M1636.6 2749.8h0M1636.9 2746.2h0M1637.3 2744.6h0M1637.6 2759.5h0M1638 2758h0M1638.4 2761.8h0M1638.7 2764.7h0M1639.1 2743.2h0M1639.5 2761.4h0M1639.8 2764.9h0M1640.2 2746.2h0M1640.6 2759h0M1640.9 2749.8h0M1641.3 2730.5h0M1641.6 2758h0M1642 2755.5h0M1642.4 2743.1h0M1642.7 2754.4h0M1643.1 2751h0M1643.5 2764.4h0M1643.8 2762.6h0M1644.2 2761.5h0M1644.6 2762.6h0M1644.9 2758.1h0M1645.3 2749.6h0M1645.6 2746.9h0M1646 2745.7h0M1646.4 2758.1h0M1646.7 2742.7h0M1647.1 2754.2h0M1647.5 2762.2h0M1647.8 2760.6h0M1648.2 2758.8h0M1648.6 2744.4h0M1648.9 2765.9h0M1649.3 2753.7h0M1649.6 2743.1h0M1650 2754.8h0M1650.4 2748.9h0M1650.7 2763.9h0M1651.1 2761.1h0M1651.5 2749.2h0M1651.8 2746.6h0M1652.2 2754.1h0M1652.6 2744.5h0M1652.9 2764.5h0M1653.3 2763.8h0M1653.6 2759.7h0M1654 2765h0M1654.4 2759.1h0M1654.7 2762.6h0M1655.1 2749.1h0M1655.5 2755.4h0M1655.8 2765.8h0M1656.2 2748.1h0M1656.5 2765.4h0M1656.9 2734.8h0M1657.3 2753.2h0M1657.6 2756.9h0M1658 2756.5h0M1658.4 2764.7h0M1658.7 2755.8h0M1659.1 2752.5h0M1659.5 2741.4h0M1659.8 2732h0M1660.2 2764.7h0M1660.5 2757.6h0M1660.9 2764.1h0M1661.3 2747.1h0M1661.6 2749.2h0M1662 2746.7h0M1662.4 2760h0M1662.7 2748.3h0M1663.1 2745.3h0M1663.5 2752.5h0M1663.8 2744.5h0M1664.2 2763.4h0M1664.5 2758h0M1664.9 2760.3h0M1665.3 2760.8h0M1665.6 2744.5h0M1666 2753.6h0M1666.4 2763.5h0M1666.7 2762.6h0M1667.1 2744.9h0M1667.5 2756.6h0M1667.8 2742.9h0M1668.2 2744.8h0M1668.5 2756.1h0M1668.9 2735h0M1669.3 2759.2h0M1669.6 2747.9h0M1670 2753.5h0M1670.4 2753.3h0M1670.7 2761.6h0M1671.1 2765.2h0M1671.5 2757.4h0M1671.8 2749.6h0M1672.2 2735.1h0M1672.5 2741.9h0M1672.9 2746.7h0M1673.3 2737.7h0M1673.6 2765.6h0M1674 2740.7h0M1674.4 2753h0M1674.7 2764.2h0M1675.1 2758.5h0M1675.5 2765.9h0M1675.8 2742.8h0M1676.2 2755.5h0M1676.5 2749h0M1676.9 2750.1h0M1677.3 2762.8h0M1677.6 2753.5h0M1678 2739.7h0M1678.4 2759.3h0M1678.7 2752.3h0M1679.1 2753.7h0M1679.4 2741.4h0M1679.8 2744.3h0M1680.2 2764.2h0M1680.5 2763.2h0M1680.9 2747.8h0M1681.3 2753.6h0M1681.6 2765.7h0M1682 2764.4h0M214.8 2656h0M282.5 2652.8h0M342.3 2629.9h0M355 2622.9h0M364.4 2623.7h0M356.3 2639.3h0M414.6 2627.2h0M457.1 2627.2h0M498.4 2627.2h0M576 2627.2h0M572 2641.2h0M580.1 2650.6h0M568.5 2664.1h0M598.4 2662.2h0M498.4 2660.6h0M490.6 2672.2h0M521.3 2668.2h0M533.2 2662.2h0M448 2671.7h0M422.1 2676.3h0M400.8 2676.3h0M379.5 2683.5h0M459.3 2685.7h0M478.4 2685.7h0M470.9 2699.2h0M229.6 2676.8h0M235.6 2687.6h0M323.2 2673h0M321.3 2681.6h0M294.3 2689.2h0M270.9 2699.2h0M290.3 2705.4h0M358.5 2693.8h0M365.8 2693.8h0M405.4 2705.1h0M549.1 2695.1h0M576 2693.8h0M546.4 2708.6h0M550.4 2718.8h0M216.2 2724.2h0M324.5 2714.5h0M319.9 2720.7h0M359.8 2718h0M382.5 2719.4h0M400.8 2721.5h0M414.3 2716.7h0M428.6 2716.1h0M466.8 2714h0M472.2 2719.4h0M480.3 2726.1h0M492.5 2716.7h0M497.8 2714.5h0M507.3 2718.8h0M441.2 2724.2h0M457.4 2727.5h0M565.2 2723.4h0M584.1 2726.1h0M598.4 2719.4h0M233.7 2714h0M240.4 2712.6h0M252.6 2718h0M259.3 2722.1h0M284.9 2726.1h0M346.9 2726.1h0M340.2 2732.9h0M240.4 2730.2h0M275.5 2730.2h0M375.2 2737.7h0M531.5 2728h0M519.4 2731.5h0M421 2730.2h0M391.4 2740.9h0M307.8 2739.6h0M555.8 2738.2h0M609.4 2639.1h0M602.2 2654.7h0M628.3 2648.8h0M644.5 2662.2h0M700.5 2627.2h0M684.9 2633.9h0M686.8 2644.7h0M700.5 2662.2h0M739.4 2648.8h0M803.5 2627.2h0M852 2619.6h0M910.5 2631.2h0M997.6 2645.3h0M807.5 2662.2h0M772.5 2662.2h0M766.6 2671.7h0M749.1 2668.2h0M939.6 2668.2h0M860.9 2676.8h0M974.7 2679.8h0M997.6 2670.9h0M992.2 2689.7h0M665.5 2675.7h0M666 2681.1h0M610.8 2693.2h0M652 2693.2h0M644.5 2704.6h0M648.5 2699.2h0M675.5 2695.1h0M710 2689.2h0M716.4 2698.6h0M725.6 2685.7h0M749.1 2703.2h0M810.2 2687h0M808.9 2696.5h0M823.7 2686.5h0M845.8 2693.8h0M784.1 2704.6h0M800 2708.6h0M899.2 2697h0M907.3 2697h0M934.2 2702.7h0M949.6 2702.7h0M899.2 2710.8h0M914 2714.5h0M930.2 2714.5h0M837.2 2705.9h0M829.1 2709.9h0M815.6 2714h0M779.2 2716.7h0M732.1 2712.6h0M687.1 2716.1h0M702.4 2722.6h0M669.3 2724h0M717.8 2728.8h0M761.7 2716.7h0M746.9 2719.4h0M860.1 2718.8h0M874.9 2716.7h0M881.7 2724.8h0M953.1 2716.7h0M966.6 2719.4h0M988.1 2712.6h0M977.4 2722.1h0M624.3 2730.2h0M606.7 2724.8h0M651.2 2734.2h0M922.1 2724.8h0M891.1 2727.5h0M904.6 2730.2h0M795.4 2730.2h0M845.3 2726.1h0M953.1 2732.9h0M936.9 2735.6h0M686.3 2734.2h0M737.5 2727.5h0M750.9 2730.2h0M1083.6 2623.2h0M1376 2619.1h0M1355.8 2633.1h0M1272.2 2635h0M1243.1 2640.7h0M1019.4 2639.1h0M1005.4 2643.4h0M1120.5 2652.8h0M1134.8 2652.8h0M1052.6 2662.2h0M1081.7 2662.2h0M1107.3 2666.3h0M1249.3 2662.2h0M1287.9 2666.3h0M1344.5 2668.2h0M1398.9 2652.8h0M1000 2671.7h0M1206.2 2668.2h0M1217.8 2676.3h0M1202.2 2680.3h0M1188.7 2682.2h0M1237.2 2685.7h0M1282.2 2683.8h0M1035 2685.7h0M1078.2 2683h0M1086.3 2685.7h0M1094.3 2687h0M1076.8 2700.5h0M1062 2697.3h0M1048.5 2699.2h0M1037.7 2693.8h0M1047.2 2707.3h0M1025.6 2705.9h0M1134.8 2699.2h0M1140.2 2701.1h0M1212.1 2695.1h0M1200.8 2700.5h0M1193.5 2705.4h0M1305.9 2697.8h0M1300.5 2706.4h0M1327 2695.1h0M1345 2701.1h0M1335.6 2714h0M1343.7 2714h0M1372.8 2701.1h0M1388.1 2697.8h0M1381.4 2711.3h0M1367.9 2721.3h0M1393.5 2724h0M1269.5 2703.2h0M1277.6 2708.6h0M1284.4 2708.6h0M1256.1 2714.5h0M1248 2718h0M1231.8 2716.7h0M1237.2 2724.8h0M1223.7 2731.5h0M1204.9 2714h0M1214.3 2716.1h0M1177.9 2716.1h0M1186 2712.6h0M1164.4 2728h0M1191.4 2727.5h0M1272.2 2722.1h0M1297.8 2724.8h0M1310 2722.1h0M1136.1 2728h0M1115.9 2724h0M1122.6 2724h0M1097 2726.1h0M1080.9 2724h0M1064.7 2722.1h0M1044.5 2724h0M1035 2728h0M1008.1 2718h0M1016.2 2724.8h0M1022.9 2714h0M1318.1 2735.6h0M1339.6 2732.9h0M1374.7 2738.2h0M1150.9 2735.6h0M1175.2 2735.6h0M1253.4 2735.6h0M1562.3 2617.5h0M1478.4 2623.2h0M1507.8 2627.2h0M1527.5 2627.2h0M1418.3 2637.2h0M1653.4 2644.7h0M1523.2 2645.3h0M1548.8 2648.8h0M1404.9 2652.8h0M1451.2 2654.7h0M1632.3 2658.2h0M1540.7 2662.2h0M1412.1 2666.3h0M1428.3 2670.1h0M1436.4 2668.7h0M1572 2666.3h0M1604.9 2670.1h0M1653.4 2671.7h0M1622.4 2677.6h0M1581.1 2677.6h0M1575.2 2681.6h0M1568.5 2683.8h0M1595.4 2687h0M1515.4 2679.8h0M1497.8 2683.8h0M1499.7 2693.8h0M1661.5 2691.9h0M1626.4 2699.2h0M1604.9 2700.5h0M1586 2700.5h0M1581.9 2708.6h0M1588.7 2710.8h0M1614.8 2710.8h0M1545.6 2699.2h0M1555 2707.3h0M1546.9 2714.5h0M1532.1 2714.5h0M1522.6 2715.3h0M1509.2 2714.5h0M1502.4 2704.6h0M1488.9 2714.5h0M1478.2 2714.5h0M1469.5 2701.1h0M1478.2 2699.2h0M1437.7 2707.3h0M1447.2 2712.6h0M1413.5 2716.7h0M1408.1 2716.7h0M1414.8 2726.1h0M1435 2726.1h0M1445.8 2728h0M1624.3 2722.1h0M1588.7 2724.8h0M1662.8 2705.9h0M1674.9 2708.6h0M1670.9 2716.7h0M1677.6 2727.5h0M1656.1 2722.1h0M1639.9 2722.1h0M1680.3 2738.2h0M1683 2759.8h0M1681.7 2749h0M1556.3 2730.2h0M1545.6 2730.2h0M1575.2 2731.5h0M1480.9 2730.2h0M1464.7 2732.9h0M1510.5 2727.5h0M1604.9 2732.9h0M1400 2722.1h0M232 2724h0M240 2722h0M248 2726h0M256 2730h0M228 2730h0" fill="none" stroke="#0070c0" stroke-width="13.0" stroke-linecap="round"/>
<path d="M220.5 2588.5h0M307.5 2576.5h0M552.5 2610.5h0M581.5 2586.5h0M590 2612h0M823 2572.5h0M786 2609.5h0M860 2598.3h0M854 2609.5h0M1019.5 2602h0M1134 2567h0M1270.2 2591h0M1455.3 2600.2h0M1671.4 2598.2h0" fill="none" stroke="#ffc000" stroke-width="13.0" stroke-linecap="round"/>
<path d="M245 2544h0M299.5 2423h0M410.5 2417.5h0M461 2421h0M597.5 2475.5h0M585.5 2520h0M572 2547.5h0M1012 2299h0M791.5 2429h0M811 2475.5h0M1023 2421h0M895 2522h0M918 2530h0M953.5 2545h0M960.5 2552.5h0M1056 2532h0M1076 2553.5h0M784 2555.5h0M1165 2522h0M1167 2559h0M1194.5 2501h0M1223.5 2402h0M1272 2392h0M1292 2382.5h0M1373.5 2397.5h0M1463 2423h0M1463 2522h0" fill="none" stroke="#ff0000" stroke-width="13.0" stroke-linecap="round"/>
<text x="1008.6" y="1737.3" font-size="53.5" fill="#595959" font-weight="bold" text-anchor="middle" textLength="410.8" lengthAdjust="spacingAndGlyphs">Euroimmun NCP</text>
<text x="1008.5" y="1797.7" font-size="53.5" fill="#595959" font-weight="bold" text-anchor="middle" textLength="858.5" lengthAdjust="spacingAndGlyphs">Anti-SARS-CoV-2-NCP-ELISA (IgG)</text>
<text x="956" y="2857.4" font-size="31.5" fill="#595959" font-weight="bold" text-anchor="middle" textLength="290" lengthAdjust="spacingAndGlyphs">Number of Samples</text>
<text transform="translate(126.6 2297.5) rotate(-90)" font-size="30.6" font-weight="bold" fill="#595959" text-anchor="middle" textLength="185" lengthAdjust="spacingAndGlyphs">Index (S/CO)</text>
<rect x="23.5" y="1589" width="545" height="240.5" fill="none" stroke="#000" stroke-width="2"/>
<text x="40.2" y="1625.5" font-size="30.5" fill="#000" font-weight="bold" text-anchor="start" textLength="202.5" lengthAdjust="spacingAndGlyphs">No. analysed:</text>
<text x="298.8" y="1625.5" font-size="30.5" fill="#000" font-weight="bold" text-anchor="start" textLength="69.9" lengthAdjust="spacingAndGlyphs">4044</text>
<text x="40.2" y="1662.8" font-size="30.5" fill="#000" font-weight="bold" text-anchor="start" textLength="187.5" lengthAdjust="spacingAndGlyphs">No. positive:</text>
<text x="298.8" y="1662.8" font-size="30.5" fill="#000" font-weight="bold" text-anchor="start" textLength="34.9" lengthAdjust="spacingAndGlyphs">27</text>
<text x="40.2" y="1700.0" font-size="30.5" fill="#000" font-weight="bold" text-anchor="start" textLength="211" lengthAdjust="spacingAndGlyphs">No. borderline</text>
<text x="298.8" y="1700.0" font-size="30.5" fill="#000" font-weight="bold" text-anchor="start" textLength="34.9" lengthAdjust="spacingAndGlyphs">15</text>
<text x="40.2" y="1737.2" font-size="30.5" fill="#000" font-weight="bold" text-anchor="start" textLength="196" lengthAdjust="spacingAndGlyphs">No. negative:</text>
<text x="298.8" y="1737.2" font-size="30.5" fill="#000" font-weight="bold" text-anchor="start" textLength="69.9" lengthAdjust="spacingAndGlyphs">4002</text>
<text x="40.2" y="1774.5" font-size="30.5" fill="#000" font-weight="bold" text-anchor="start" textLength="165.5" lengthAdjust="spacingAndGlyphs">Specificity:</text>
<text x="298.8" y="1774.5" font-size="30.5" fill="#000" font-weight="bold" text-anchor="start" textLength="106.5" lengthAdjust="spacingAndGlyphs">98.96%</text>
<text x="298.8" y="1811.8" font-size="30.5" fill="#000" font-weight="bold" text-anchor="start">(CI 98.46− 99.33)</text>
<rect x="1449" y="1660.5" width="384" height="169" fill="none" stroke="#000" stroke-width="2"/>
<text x="1471.5" y="1700.4" font-size="30.5" fill="#000" font-weight="bold" text-anchor="start">Test criteria</text>
<text x="1468.3" y="1736.8" font-size="30.5" fill="#ff0000" font-weight="bold" text-anchor="start" textLength="120.5" lengthAdjust="spacingAndGlyphs">Positive</text>
<text x="1655" y="1736.8" font-size="30.5" fill="#ff0000" font-weight="bold" text-anchor="start"><tspan text-decoration="underline">&gt;</tspan>1.1</text>
<text x="1468.3" y="1773.8" font-size="30.5" fill="#ffc000" font-weight="bold" text-anchor="start" textLength="155" lengthAdjust="spacingAndGlyphs">Borderline</text>
<text x="1655" y="1773.8" font-size="30.5" fill="#ffc000" font-weight="bold" text-anchor="start"><tspan text-decoration="underline">&gt;</tspan>0.8−&lt;1.1</text>
<text x="1468.3" y="1810.8" font-size="30.5" fill="#0070c0" font-weight="bold" text-anchor="start" textLength="130.3" lengthAdjust="spacingAndGlyphs">Negative</text>
<text x="1655" y="1810.8" font-size="30.5" fill="#0070c0" font-weight="bold" text-anchor="start">&lt;0.8</text>
</g>
<text x="919.6" y="3067.3" font-family='"Liberation Serif", serif' font-size="86" fill="#000" text-anchor="middle">(<tspan font-weight="bold" dx="-0.8">d</tspan><tspan dx="-0.8">)</tspan></text>
</svg>
</body>
</html>
